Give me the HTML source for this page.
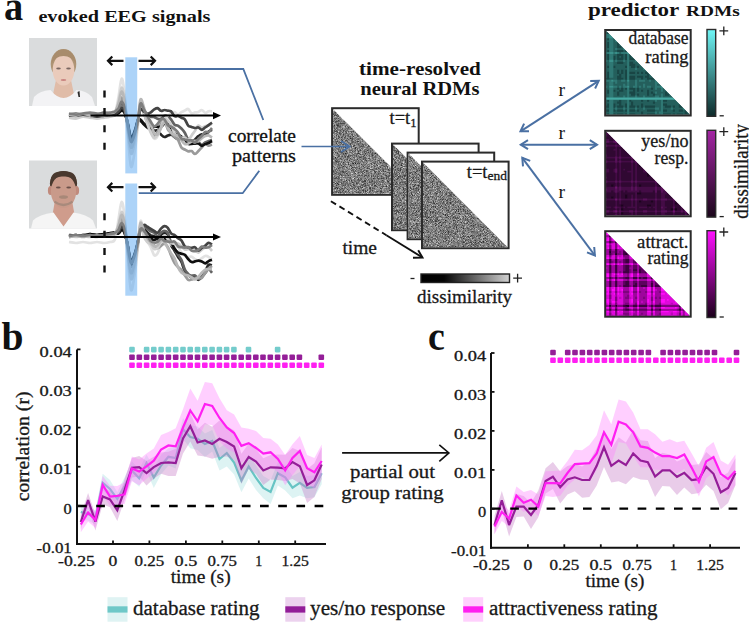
<!DOCTYPE html>
<html><head><meta charset="utf-8"><style>
html,body{margin:0;padding:0;background:#fff;width:749px;height:624px;overflow:hidden}
svg{display:block}
</style></head><body>
<svg width="749" height="624" viewBox="0 0 749 624"><defs>
<filter id="noise" x="0" y="0" width="100%" height="100%"><feTurbulence type="fractalNoise" baseFrequency="0.9" numOctaves="2" seed="3" result="t"/><feColorMatrix type="matrix" values="0 0 0 0 0  0 0 0 0 0  0 0 0 0 0  0 0 0 -2.2 1.55" /></filter>
<filter id="fblur" x="-10%" y="-10%" width="120%" height="120%"><feGaussianBlur stdDeviation="0.55"/></filter>
<filter id="blur1"><feGaussianBlur stdDeviation="0.8"/></filter>
<filter id="blur2"><feGaussianBlur stdDeviation="1.5"/></filter>
</defs>
<text x="4.0" y="19.5" font-size="40" font-family="Liberation Serif, serif" font-weight="bold" fill="#111" text-anchor="start" textLength="19.2" lengthAdjust="spacingAndGlyphs" >a</text>
<text x="38.4" y="21.5" font-size="16.5" font-family="Liberation Serif, serif" font-weight="bold" fill="#111" text-anchor="start" textLength="172.0" lengthAdjust="spacingAndGlyphs" >evoked EEG signals</text>
<text x="359.0" y="74.6" font-size="19" font-family="Liberation Serif, serif" font-weight="bold" fill="#111" text-anchor="start" textLength="121.8" lengthAdjust="spacingAndGlyphs" >time-resolved</text>
<text x="360.3" y="95.2" font-size="19" font-family="Liberation Serif, serif" font-weight="bold" fill="#111" text-anchor="start" textLength="119.2" lengthAdjust="spacingAndGlyphs" >neural RDMs</text>
<text x="587.9" y="15.8" font-size="18.5" font-family="Liberation Serif, serif" font-weight="bold" fill="#111" text-anchor="start" textLength="91.4" lengthAdjust="spacingAndGlyphs" >predictor</text>
<text x="686.0" y="15.8" font-size="15.5" font-family="Liberation Serif, serif" font-weight="bold" fill="#111" text-anchor="start" textLength="53.7" lengthAdjust="spacingAndGlyphs" >RDMs</text>
<rect x="29" y="38" width="68" height="68" fill="#dadcdd"/>
<g filter="url(#fblur)">
<ellipse cx="63.5" cy="64" rx="12.8" ry="15" fill="#ae9474"/>
<path d="M56.0,80 L71.0,80 L73.5,92 L75.5,100 L51.5,100 L53.5,92 Z" fill="#e0bca8"/>
<path d="M32,106 L34,97 Q39,91 50.5,90 Q63.5,106 76.5,90 Q87,91 92,97 L95,106 Z" fill="#f3f3f5"/>
<ellipse cx="63.5" cy="70" rx="10.8" ry="15.5" fill="#eacbbb"/>
<path d="M51.5,64 Q52.5,50 63.5,49.5 Q74.5,50 76.0,64 Q71.5,56 63.5,56 Q55.5,56 51.5,64 Z" fill="#a88c6c"/>
<ellipse cx="58.5" cy="68.5" rx="2.3" ry="1" fill="#7a6660"/><ellipse cx="68.5" cy="68.5" rx="2.3" ry="1" fill="#7a6660"/>
<ellipse cx="63.5" cy="80" rx="2.8" ry="1.1" fill="#c98580"/>
<path d="M77.5,92 L79.5,91 L80.0,97 L78.5,97 Z" fill="#2a2a2a"/>
</g>
<rect x="29" y="160.5" width="68" height="68" fill="#dadcdd"/>
<g filter="url(#fblur)">
<path d="M55.0,200.5 L72.0,200.5 L74.5,214.5 L63.5,227.5 L52.5,214.5 Z" fill="#cf9c8c"/>
<path d="M31,228.5 L33,220.5 Q39,214.5 53.5,212.5 L63.5,226.5 L73.5,212.5 Q87,214.5 93,220.5 L96,228.5 Z" fill="#f5f5f5"/>
<ellipse cx="63.5" cy="183.5" rx="13.6" ry="12.5" fill="#4a392e"/>
<ellipse cx="50.5" cy="190.5" rx="2.6" ry="4.5" fill="#c08a7c"/><ellipse cx="76.5" cy="190.5" rx="2.6" ry="4.5" fill="#c08a7c"/>
<ellipse cx="63.5" cy="191.5" rx="12.6" ry="16.5" fill="#c99a8a"/>
<path d="M50.7,182.5 Q49.7,171.0 63.5,171.3 Q77.3,171.0 76.3,182.5 Q70.5,175.5 63.5,176.5 Q56.5,175.5 50.7,182.5 Z" fill="#4a392e"/>
<ellipse cx="58.3" cy="187.5" rx="2.4" ry="1.1" fill="#6a5048"/><ellipse cx="68.7" cy="187.5" rx="2.4" ry="1.1" fill="#6a5048"/>
<ellipse cx="63.5" cy="197.0" rx="4.5" ry="1.8" fill="#a88878"/>
<path d="M54.5,201.5 Q63.5,208.5 72.5,201.5" fill="none" stroke="#a88a7c" stroke-width="2.2"/>
</g>
<path d="M69.0,114.6 C70.2,114.8 73.7,115.4 76.0,115.6 C78.3,115.8 80.7,115.8 83.0,115.6 C85.3,115.4 87.7,114.6 90.0,114.6 C92.3,114.6 94.7,115.6 97.0,115.6 C99.3,115.6 101.8,114.6 104.0,114.6 C106.2,114.6 108.2,115.5 110.0,115.6 C111.8,115.7 113.6,115.6 115.0,115.1 C116.4,114.6 117.4,113.5 118.5,112.6 C119.6,111.7 120.6,109.7 121.6,109.6 C122.6,109.5 123.5,109.8 124.5,112.0 C125.5,114.2 126.4,118.2 127.5,122.8 C128.6,127.4 129.8,138.2 131.0,139.6 C132.2,141.0 133.8,134.7 135.0,131.4 C136.2,128.2 137.1,121.9 138.0,119.9 C138.9,117.9 139.5,119.0 140.5,119.6 C141.5,120.2 142.8,122.6 144.0,123.6 C145.2,124.6 146.3,124.7 147.4,125.6 C148.5,126.6 149.7,128.3 150.8,129.2 C151.9,130.0 153.1,130.4 154.2,130.6 C155.3,130.9 156.5,129.9 157.6,130.5 C158.7,131.2 159.9,133.6 161.0,134.6 C162.1,135.7 163.3,136.8 164.4,137.0 C165.5,137.2 166.7,136.0 167.8,135.6 C168.9,135.2 170.1,134.3 171.2,134.6 C172.3,134.8 173.5,136.2 174.6,137.0 C175.7,137.7 176.9,139.0 178.0,139.2 C179.1,139.5 180.3,138.6 181.4,138.3 C182.5,138.0 183.7,137.4 184.8,137.5 C185.9,137.7 187.1,138.4 188.2,139.2 C189.3,140.0 190.5,142.1 191.6,142.1 C192.7,142.2 193.9,140.4 195.0,139.5 C196.1,138.5 197.3,137.0 198.4,136.2 C199.5,135.3 200.7,134.6 201.8,134.4 C202.9,134.3 204.1,135.7 205.2,135.2 C206.3,134.8 207.5,132.5 208.6,131.6 C209.7,130.6 211.4,130.0 212.0,129.7" fill="none" stroke="#262626" stroke-width="2.7" stroke-linejoin="round"/>
<path d="M69.0,114.6 C70.2,114.4 73.7,113.6 76.0,113.6 C78.3,113.6 80.7,114.6 83.0,114.6 C85.3,114.6 87.7,113.6 90.0,113.6 C92.3,113.6 94.7,114.8 97.0,114.6 C99.3,114.4 101.8,112.8 104.0,112.6 C106.2,112.4 108.2,113.6 110.0,113.6 C111.8,113.6 113.6,113.3 115.0,112.6 C116.4,112.0 117.4,111.1 118.5,109.6 C119.6,108.1 120.6,103.8 121.6,103.6 C122.6,103.4 123.5,105.0 124.5,108.4 C125.5,111.7 126.4,118.0 127.5,123.7 C128.6,129.4 129.8,141.0 131.0,142.6 C132.2,144.2 133.8,137.1 135.0,133.4 C136.2,129.7 137.1,124.8 138.0,120.5 C138.9,116.2 139.5,109.2 140.5,107.6 C141.5,106.0 142.8,109.5 144.0,110.6 C145.2,111.7 146.3,113.5 147.4,114.5 C148.5,115.5 149.7,116.3 150.8,116.7 C151.9,117.1 153.1,116.7 154.2,117.1 C155.3,117.4 156.5,118.5 157.6,118.8 C158.7,119.0 159.9,119.3 161.0,118.8 C162.1,118.3 163.3,116.3 164.4,115.8 C165.5,115.4 166.7,115.5 167.8,116.1 C168.9,116.7 170.1,118.2 171.2,119.6 C172.3,121.1 173.5,123.7 174.6,124.7 C175.7,125.7 176.9,125.0 178.0,125.7 C179.1,126.3 180.3,127.4 181.4,128.5 C182.5,129.7 183.7,130.9 184.8,132.8 C185.9,134.7 187.1,138.4 188.2,139.7 C189.3,141.0 190.5,140.3 191.6,140.6 C192.7,140.9 193.9,141.3 195.0,141.5 C196.1,141.8 197.3,141.6 198.4,142.2 C199.5,142.7 200.7,144.8 201.8,144.8 C202.9,144.9 204.1,143.0 205.2,142.4 C206.3,141.8 207.5,141.4 208.6,141.0 C209.7,140.6 211.4,140.1 212.0,139.9" fill="none" stroke="#636363" stroke-width="2.7" stroke-linejoin="round"/>
<path d="M69.0,116.6 C70.2,116.3 73.7,114.6 76.0,114.6 C78.3,114.6 80.7,116.4 83.0,116.6 C85.3,116.8 87.7,115.9 90.0,115.6 C92.3,115.3 94.7,114.4 97.0,114.6 C99.3,114.8 101.8,116.4 104.0,116.6 C106.2,116.8 108.2,116.3 110.0,115.6 C111.8,114.9 113.6,115.7 115.0,112.6 C116.4,109.6 117.4,102.8 118.5,97.1 C119.6,91.4 120.6,79.2 121.6,78.6 C122.6,78.0 123.5,84.7 124.5,93.4 C125.5,102.1 126.4,118.7 127.5,130.9 C128.6,143.1 129.8,163.5 131.0,166.6 C132.2,169.7 133.8,156.2 135.0,149.3 C136.2,142.3 137.1,132.4 138.0,124.8 C138.9,117.2 139.5,106.1 140.5,103.6 C141.5,101.1 142.8,106.6 144.0,109.6 C145.2,112.6 146.3,117.6 147.4,121.3 C148.5,125.1 149.7,129.0 150.8,131.8 C151.9,134.7 153.1,137.9 154.2,138.6 C155.3,139.3 156.5,138.4 157.6,136.2 C158.7,134.1 159.9,128.5 161.0,125.7 C162.1,122.9 163.3,121.0 164.4,119.4 C165.5,117.7 166.7,116.8 167.8,115.8 C168.9,114.8 170.1,114.1 171.2,113.4 C172.3,112.8 173.5,111.8 174.6,112.0 C175.7,112.2 176.9,114.6 178.0,114.6 C179.1,114.6 180.3,112.8 181.4,112.1 C182.5,111.5 183.7,111.1 184.8,110.6 C185.9,110.1 187.1,108.6 188.2,109.0 C189.3,109.5 190.5,112.7 191.6,113.2 C192.7,113.8 193.9,112.6 195.0,112.4 C196.1,112.2 197.3,112.5 198.4,112.1 C199.5,111.7 200.7,109.8 201.8,110.0 C202.9,110.1 204.1,112.7 205.2,112.9 C206.3,113.1 207.5,111.6 208.6,111.3 C209.7,111.0 211.4,111.3 212.0,111.3" fill="none" stroke="#e2e2e2" stroke-width="2.7" stroke-linejoin="round"/>
<path d="M69.0,115.6 C70.2,115.8 73.7,116.6 76.0,116.6 C78.3,116.6 80.7,115.9 83.0,115.6 C85.3,115.3 87.7,114.4 90.0,114.6 C92.3,114.8 94.7,116.4 97.0,116.6 C99.3,116.8 101.8,115.9 104.0,115.6 C106.2,115.3 108.2,115.0 110.0,114.6 C111.8,114.2 113.6,114.5 115.0,113.2 C116.4,111.8 117.4,109.2 118.5,106.6 C119.6,104.0 120.6,97.9 121.6,97.6 C122.6,97.3 123.5,100.3 124.5,104.8 C125.5,109.3 126.4,117.8 127.5,124.6 C128.6,131.4 129.8,143.8 131.0,145.6 C132.2,147.4 133.8,139.5 135.0,135.4 C136.2,131.3 137.1,126.0 138.0,121.0 C138.9,116.0 139.5,106.8 140.5,105.6 C141.5,104.4 142.8,110.6 144.0,113.6 C145.2,116.6 146.3,120.9 147.4,123.5 C148.5,126.0 149.7,127.0 150.8,129.0 C151.9,131.1 153.1,135.3 154.2,135.8 C155.3,136.3 156.5,133.8 157.6,131.8 C158.7,129.8 159.9,125.7 161.0,123.8 C162.1,122.0 163.3,119.8 164.4,120.7 C165.5,121.6 166.7,127.2 167.8,129.3 C168.9,131.3 170.1,131.7 171.2,133.0 C172.3,134.3 173.5,135.9 174.6,137.0 C175.7,138.1 176.9,138.1 178.0,139.8 C179.1,141.6 180.3,145.9 181.4,147.5 C182.5,149.1 183.7,148.9 184.8,149.5 C185.9,150.2 187.1,151.1 188.2,151.3 C189.3,151.6 190.5,150.7 191.6,151.1 C192.7,151.5 193.9,154.0 195.0,154.0 C196.1,154.0 197.3,152.1 198.4,151.0 C199.5,149.9 200.7,148.6 201.8,147.4 C202.9,146.1 204.1,144.0 205.2,143.7 C206.3,143.5 207.5,145.6 208.6,145.7 C209.7,145.9 211.4,144.7 212.0,144.5" fill="none" stroke="#9a9a9a" stroke-width="2.7" stroke-linejoin="round"/>
<path d="M69.0,115.6 C70.2,115.6 73.7,115.8 76.0,115.6 C78.3,115.4 80.7,114.6 83.0,114.6 C85.3,114.6 87.7,115.4 90.0,115.6 C92.3,115.8 94.7,115.6 97.0,115.6 C99.3,115.6 101.8,115.8 104.0,115.6 C106.2,115.4 108.2,114.8 110.0,114.6 C111.8,114.4 113.6,114.4 115.0,114.2 C116.4,113.9 117.4,113.7 118.5,113.1 C119.6,112.5 120.6,110.7 121.6,110.6 C122.6,110.5 123.5,110.7 124.5,112.6 C125.5,114.5 126.4,118.0 127.5,122.2 C128.6,126.4 129.8,136.3 131.0,137.6 C132.2,138.9 133.8,133.1 135.0,130.1 C136.2,127.1 137.1,121.1 138.0,119.6 C138.9,118.0 139.5,119.8 140.5,120.6 C141.5,121.4 142.8,123.4 144.0,124.6 C145.2,125.8 146.3,126.9 147.4,127.6 C148.5,128.4 149.7,129.1 150.8,129.0 C151.9,128.9 153.1,127.2 154.2,126.8 C155.3,126.5 156.5,126.8 157.6,126.8 C158.7,126.8 159.9,127.2 161.0,126.7 C162.1,126.2 163.3,124.3 164.4,123.8 C165.5,123.4 166.7,123.4 167.8,124.1 C168.9,124.8 170.1,126.5 171.2,128.1 C172.3,129.7 173.5,132.4 174.6,133.5 C175.7,134.6 176.9,134.2 178.0,134.8 C179.1,135.3 180.3,135.9 181.4,136.7 C182.5,137.4 183.7,138.1 184.8,139.3 C185.9,140.5 187.1,143.1 188.2,143.9 C189.3,144.6 190.5,143.8 191.6,143.8 C192.7,143.8 193.9,143.7 195.0,143.7 C196.1,143.6 197.3,143.1 198.4,143.5 C199.5,143.8 200.7,145.8 201.8,145.8 C202.9,145.9 204.1,144.4 205.2,143.9 C206.3,143.5 207.5,143.6 208.6,143.1 C209.7,142.6 211.4,141.3 212.0,141.0" fill="none" stroke="#0f0f0f" stroke-width="2.7" stroke-linejoin="round"/>
<path d="M69.0,117.6 C70.2,117.8 73.7,118.8 76.0,118.6 C78.3,118.4 80.7,116.8 83.0,116.6 C85.3,116.4 87.7,117.3 90.0,117.6 C92.3,117.9 94.7,118.6 97.0,118.6 C99.3,118.6 101.8,117.9 104.0,117.6 C106.2,117.3 108.2,117.1 110.0,116.6 C111.8,116.1 113.6,116.9 115.0,114.4 C116.4,111.9 117.4,106.1 118.5,101.6 C119.6,97.1 120.6,88.1 121.6,87.6 C122.6,87.1 123.5,92.2 124.5,98.8 C125.5,105.4 126.4,117.9 127.5,127.0 C128.6,136.1 129.8,151.3 131.0,153.6 C132.2,155.9 133.8,145.9 135.0,140.7 C136.2,135.5 137.1,129.0 138.0,122.4 C138.9,115.9 139.5,103.4 140.5,101.6 C141.5,99.8 142.8,107.8 144.0,111.6 C145.2,115.4 146.3,120.6 147.4,124.1 C148.5,127.6 149.7,130.4 150.8,132.6 C151.9,134.9 153.1,137.3 154.2,137.7 C155.3,138.2 156.5,136.8 157.6,135.1 C158.7,133.3 159.9,130.0 161.0,127.3 C162.1,124.6 163.3,120.2 164.4,119.0 C165.5,117.9 166.7,119.5 167.8,120.6 C168.9,121.6 170.1,123.2 171.2,125.4 C172.3,127.5 173.5,131.8 174.6,133.5 C175.7,135.3 176.9,135.1 178.0,135.8 C179.1,136.5 180.3,137.4 181.4,137.7 C182.5,138.0 183.7,137.1 184.8,137.6 C185.9,138.0 187.1,140.7 188.2,140.3 C189.3,139.9 190.5,137.0 191.6,135.4 C192.7,133.8 193.9,132.4 195.0,130.8 C196.1,129.1 197.3,126.1 198.4,125.6 C199.5,125.1 200.7,127.7 201.8,127.8 C202.9,127.9 204.1,126.6 205.2,126.2 C206.3,125.8 207.5,125.8 208.6,125.3 C209.7,124.9 211.4,123.9 212.0,123.6" fill="none" stroke="#cecece" stroke-width="2.7" stroke-linejoin="round"/>
<path d="M69.0,115.6 C70.2,115.6 73.7,115.8 76.0,115.6 C78.3,115.4 80.7,114.6 83.0,114.6 C85.3,114.6 87.7,115.3 90.0,115.6 C92.3,115.9 94.7,116.6 97.0,116.6 C99.3,116.6 101.8,115.9 104.0,115.6 C106.2,115.3 108.2,114.9 110.0,114.6 C111.8,114.3 113.6,114.5 115.0,114.0 C116.4,113.5 117.4,112.7 118.5,111.6 C119.6,110.5 120.6,107.7 121.6,107.6 C122.6,107.5 123.5,108.2 124.5,110.8 C125.5,113.4 126.4,118.1 127.5,123.1 C128.6,128.1 129.8,139.1 131.0,140.6 C132.2,142.1 133.8,135.5 135.0,132.1 C136.2,128.7 137.1,123.8 138.0,120.1 C138.9,116.3 139.5,111.0 140.5,109.6 C141.5,108.2 142.8,110.9 144.0,111.6 C145.2,112.3 146.3,113.8 147.4,113.9 C148.5,114.0 149.7,113.0 150.8,112.3 C151.9,111.5 153.1,110.1 154.2,109.4 C155.3,108.7 156.5,107.9 157.6,108.1 C158.7,108.4 159.9,110.5 161.0,110.8 C162.1,111.1 163.3,110.0 164.4,110.0 C165.5,109.9 166.7,110.4 167.8,110.7 C168.9,110.9 170.1,110.5 171.2,111.4 C172.3,112.4 173.5,115.5 174.6,116.2 C175.7,117.0 176.9,115.6 178.0,115.9 C179.1,116.1 180.3,117.2 181.4,117.7 C182.5,118.3 183.7,118.0 184.8,119.3 C185.9,120.6 187.1,124.4 188.2,125.6 C189.3,126.9 190.5,126.5 191.6,126.9 C192.7,127.3 193.9,127.9 195.0,128.0 C196.1,128.1 197.3,127.2 198.4,127.5 C199.5,127.8 200.7,129.8 201.8,129.8 C202.9,129.7 204.1,128.1 205.2,127.4 C206.3,126.6 207.5,126.0 208.6,125.2 C209.7,124.4 211.4,123.0 212.0,122.6" fill="none" stroke="#444444" stroke-width="2.7" stroke-linejoin="round"/>
<path d="M69.0,114.6 C70.2,114.8 73.7,115.8 76.0,115.6 C78.3,115.4 80.7,113.6 83.0,113.6 C85.3,113.6 87.7,115.4 90.0,115.6 C92.3,115.8 94.7,114.6 97.0,114.6 C99.3,114.6 101.8,115.8 104.0,115.6 C106.2,115.4 108.2,114.3 110.0,113.6 C111.8,112.9 113.6,113.3 115.0,111.7 C116.4,110.0 117.4,106.9 118.5,103.6 C119.6,100.3 120.6,92.0 121.6,91.6 C122.6,91.2 123.5,95.6 124.5,101.2 C125.5,106.8 126.4,117.5 127.5,125.2 C128.6,132.9 129.8,145.7 131.0,147.6 C132.2,149.5 133.8,141.1 135.0,136.7 C136.2,132.3 137.1,127.5 138.0,121.4 C138.9,115.2 139.5,101.9 140.5,99.6 C141.5,97.3 142.8,104.3 144.0,107.6 C145.2,110.9 146.3,116.7 147.4,119.5 C148.5,122.3 149.7,122.2 150.8,124.5 C151.9,126.7 153.1,131.2 154.2,132.9 C155.3,134.5 156.5,135.2 157.6,134.4 C158.7,133.6 159.9,130.1 161.0,128.1 C162.1,126.0 163.3,122.2 164.4,122.2 C165.5,122.1 166.7,126.0 167.8,127.8 C168.9,129.6 170.1,131.7 171.2,132.9 C172.3,134.1 173.5,134.4 174.6,134.9 C175.7,135.4 176.9,135.1 178.0,136.0 C179.1,136.9 180.3,138.9 181.4,140.2 C182.5,141.6 183.7,143.5 184.8,144.0 C185.9,144.6 187.1,144.0 188.2,143.6 C189.3,143.2 190.5,142.0 191.6,141.5 C192.7,141.1 193.9,140.9 195.0,140.8 C196.1,140.8 197.3,141.8 198.4,141.3 C199.5,140.9 200.7,139.0 201.8,138.1 C202.9,137.3 204.1,136.5 205.2,136.1 C206.3,135.6 207.5,135.2 208.6,135.4 C209.7,135.7 211.4,137.2 212.0,137.6" fill="none" stroke="#b8b8b8" stroke-width="2.7" stroke-linejoin="round"/>
<path d="M69.0,113.6 C70.2,113.8 73.7,114.6 76.0,114.6 C78.3,114.6 80.7,113.9 83.0,113.6 C85.3,113.3 87.7,112.6 90.0,112.6 C92.3,112.6 94.7,113.4 97.0,113.6 C99.3,113.8 101.8,113.8 104.0,113.6 C106.2,113.4 108.2,113.0 110.0,112.6 C111.8,112.2 113.6,112.1 115.0,111.5 C116.4,110.8 117.4,110.2 118.5,108.6 C119.6,107.0 120.6,101.8 121.6,101.6 C122.6,101.4 123.5,103.6 124.5,107.2 C125.5,110.8 126.4,117.7 127.5,123.4 C128.6,129.1 129.8,140.0 131.0,141.6 C132.2,143.2 133.8,136.3 135.0,132.8 C136.2,129.2 137.1,125.1 138.0,120.3 C138.9,115.4 139.5,105.4 140.5,103.6 C141.5,101.8 142.8,107.6 144.0,109.6 C145.2,111.6 146.3,113.8 147.4,115.8 C148.5,117.9 149.7,120.0 150.8,121.8 C151.9,123.6 153.1,126.0 154.2,126.4 C155.3,126.7 156.5,125.1 157.6,124.0 C158.7,122.9 159.9,120.4 161.0,119.7 C162.1,118.9 163.3,118.6 164.4,119.5 C165.5,120.4 166.7,124.0 167.8,125.2 C168.9,126.5 170.1,126.2 171.2,126.8 C172.3,127.4 173.5,128.0 174.6,128.9 C175.7,129.9 176.9,130.8 178.0,132.5 C179.1,134.1 180.3,137.5 181.4,138.7 C182.5,139.9 183.7,139.2 184.8,139.5 C185.9,139.7 187.1,140.2 188.2,140.3 C189.3,140.5 190.5,140.0 191.6,140.4 C192.7,140.8 193.9,143.0 195.0,142.8 C196.1,142.5 197.3,140.0 198.4,138.9 C199.5,137.7 200.7,137.1 201.8,135.9 C202.9,134.7 204.1,132.5 205.2,131.9 C206.3,131.3 207.5,132.8 208.6,132.2 C209.7,131.5 211.4,128.7 212.0,128.0" fill="none" stroke="#7e7e7e" stroke-width="2.7" stroke-linejoin="round"/>
<rect x="125.3" y="57.3" width="11.9" height="116.10000000000001" fill="#5aa8f2" fill-opacity="0.5"/>
<line x1="90.5" y1="115.6" x2="214" y2="115.6" stroke="#000" stroke-width="2"/>
<path d="M213,112.0 L221,115.6 L213,119.19999999999999 Z" fill="#000"/>
<line x1="104.5" y1="90.5" x2="104.5" y2="152" stroke="#111" stroke-width="2.4" stroke-dasharray="7,10.4"/>
<path d="M123.5,60.8 L108,60.8 M112.3,56.5 L108,60.8 L112.3,65.1" fill="none" stroke="#111" stroke-width="2.2"/>
<path d="M138.5,60.8 L155,60.8 M150.7,56.5 L155,60.8 L150.7,65.1" fill="none" stroke="#111" stroke-width="2.2"/>
<path d="M69.0,237.0 C70.2,236.8 73.7,236.3 76.0,236.0 C78.3,235.7 80.7,235.0 83.0,235.0 C85.3,235.0 87.7,236.0 90.0,236.0 C92.3,236.0 94.7,235.3 97.0,235.0 C99.3,234.7 101.8,234.0 104.0,234.0 C106.2,234.0 108.2,234.9 110.0,235.0 C111.8,235.1 113.6,234.7 115.0,234.4 C116.4,234.0 117.4,233.9 118.5,233.0 C119.6,232.1 120.6,229.1 121.6,229.0 C122.6,228.9 123.5,229.6 124.5,232.2 C125.5,234.8 126.4,239.7 127.5,244.8 C128.6,249.9 129.8,261.4 131.0,263.0 C132.2,264.6 133.8,257.7 135.0,254.2 C136.2,250.6 137.1,246.2 138.0,241.7 C138.9,237.2 139.5,229.1 140.5,227.0 C141.5,224.9 142.8,228.1 144.0,229.0 C145.2,229.9 146.3,231.4 147.4,232.5 C148.5,233.5 149.7,234.7 150.8,235.4 C151.9,236.0 153.1,235.8 154.2,236.4 C155.3,237.1 156.5,239.6 157.6,239.3 C158.7,239.1 159.9,235.9 161.0,234.9 C162.1,233.8 163.3,233.0 164.4,233.0 C165.5,233.0 166.7,232.9 167.8,234.9 C168.9,237.0 170.1,242.5 171.2,245.1 C172.3,247.8 173.5,248.8 174.6,250.8 C175.7,252.7 176.9,254.9 178.0,256.7 C179.1,258.6 180.3,259.4 181.4,261.8 C182.5,264.2 183.7,268.8 184.8,271.0 C185.9,273.2 187.1,273.9 188.2,275.0 C189.3,276.1 190.5,277.1 191.6,277.4 C192.7,277.8 193.9,276.6 195.0,277.0 C196.1,277.4 197.3,279.8 198.4,279.8 C199.5,279.8 200.7,278.4 201.8,277.0 C202.9,275.6 204.1,273.4 205.2,271.4 C206.3,269.4 207.5,265.8 208.6,264.8 C209.7,263.8 211.4,265.5 212.0,265.6" fill="none" stroke="#262626" stroke-width="2.7" stroke-linejoin="round"/>
<path d="M69.0,235.0 C70.2,235.2 73.7,236.0 76.0,236.0 C78.3,236.0 80.7,235.3 83.0,235.0 C85.3,234.7 87.7,234.0 90.0,234.0 C92.3,234.0 94.7,235.0 97.0,235.0 C99.3,235.0 101.8,234.0 104.0,234.0 C106.2,234.0 108.2,235.0 110.0,235.0 C111.8,235.0 113.6,234.7 115.0,234.0 C116.4,233.4 117.4,232.5 118.5,231.0 C119.6,229.5 120.6,225.2 121.6,225.0 C122.6,224.8 123.5,226.4 124.5,229.8 C125.5,233.2 126.4,239.5 127.5,245.4 C128.6,251.3 129.8,263.3 131.0,265.0 C132.2,266.7 133.8,259.3 135.0,255.5 C136.2,251.7 137.1,246.8 138.0,242.0 C138.9,237.3 139.5,229.5 140.5,227.0 C141.5,224.5 142.8,226.7 144.0,227.0 C145.2,227.3 146.3,228.0 147.4,228.8 C148.5,229.5 149.7,230.7 150.8,231.3 C151.9,231.9 153.1,231.8 154.2,232.6 C155.3,233.4 156.5,236.1 157.6,236.2 C158.7,236.2 159.9,233.7 161.0,232.8 C162.1,231.9 163.3,230.8 164.4,230.9 C165.5,230.9 166.7,231.0 167.8,233.0 C168.9,235.1 170.1,240.6 171.2,243.2 C172.3,245.8 173.5,246.8 174.6,248.7 C175.7,250.6 176.9,252.8 178.0,254.7 C179.1,256.5 180.3,257.4 181.4,259.9 C182.5,262.3 183.7,267.1 184.8,269.5 C185.9,271.8 187.1,272.8 188.2,273.9 C189.3,274.9 190.5,275.4 191.6,275.7 C192.7,275.9 193.9,274.8 195.0,275.4 C196.1,276.0 197.3,278.8 198.4,279.0 C199.5,279.2 200.7,277.6 201.8,276.7 C202.9,275.7 204.1,274.4 205.2,273.1 C206.3,271.9 207.5,269.3 208.6,269.2 C209.7,269.2 211.4,272.2 212.0,272.9" fill="none" stroke="#636363" stroke-width="2.7" stroke-linejoin="round"/>
<path d="M69.0,242.0 C70.2,242.2 73.7,243.0 76.0,243.0 C78.3,243.0 80.7,242.0 83.0,242.0 C85.3,242.0 87.7,243.0 90.0,243.0 C92.3,243.0 94.7,242.0 97.0,242.0 C99.3,242.0 101.8,243.0 104.0,243.0 C106.2,243.0 108.2,242.6 110.0,242.0 C111.8,241.4 113.6,242.9 115.0,239.2 C116.4,235.4 117.4,225.7 118.5,219.5 C119.6,213.3 120.6,202.6 121.6,202.0 C122.6,201.4 123.5,207.5 124.5,216.0 C125.5,224.5 126.4,240.6 127.5,252.9 C128.6,265.2 129.8,286.8 131.0,290.0 C132.2,293.2 133.8,279.2 135.0,272.0 C136.2,264.7 137.1,255.0 138.0,246.5 C138.9,238.0 139.5,223.3 140.5,221.0 C141.5,218.7 142.8,229.6 144.0,233.0 C145.2,236.4 146.3,239.0 147.4,241.4 C148.5,243.8 149.7,245.0 150.8,247.3 C151.9,249.6 153.1,254.2 154.2,255.2 C155.3,256.2 156.5,254.9 157.6,253.2 C158.7,251.5 159.9,247.5 161.0,244.8 C162.1,242.2 163.3,237.7 164.4,237.2 C165.5,236.7 166.7,240.8 167.8,242.0 C168.9,243.2 170.1,243.9 171.2,244.6 C172.3,245.3 173.5,245.8 174.6,246.2 C175.7,246.6 176.9,246.1 178.0,247.1 C179.1,248.1 180.3,251.0 181.4,252.4 C182.5,253.8 183.7,255.0 184.8,255.7 C185.9,256.5 187.1,256.9 188.2,257.0 C189.3,257.2 190.5,256.3 191.6,256.7 C192.7,257.1 193.9,258.6 195.0,259.2 C196.1,259.8 197.3,260.6 198.4,260.5 C199.5,260.3 200.7,259.0 201.8,258.2 C202.9,257.5 204.1,256.3 205.2,256.0 C206.3,255.8 207.5,256.2 208.6,256.9 C209.7,257.5 211.4,259.3 212.0,259.8" fill="none" stroke="#e2e2e2" stroke-width="2.7" stroke-linejoin="round"/>
<path d="M69.0,235.0 C70.2,235.2 73.7,236.0 76.0,236.0 C78.3,236.0 80.7,235.2 83.0,235.0 C85.3,234.8 87.7,234.8 90.0,235.0 C92.3,235.2 94.7,236.2 97.0,236.0 C99.3,235.8 101.8,234.2 104.0,234.0 C106.2,233.8 108.2,235.1 110.0,235.0 C111.8,234.9 113.6,234.7 115.0,233.6 C116.4,232.4 117.4,230.4 118.5,228.0 C119.6,225.6 120.6,219.3 121.6,219.0 C122.6,218.7 123.5,221.7 124.5,226.2 C125.5,230.7 126.4,239.2 127.5,246.0 C128.6,252.8 129.8,265.2 131.0,267.0 C132.2,268.8 133.8,260.9 135.0,256.8 C136.2,252.7 137.1,247.4 138.0,242.4 C138.9,237.4 139.5,228.6 140.5,227.0 C141.5,225.4 142.8,230.8 144.0,233.0 C145.2,235.2 146.3,238.3 147.4,240.1 C148.5,241.9 149.7,242.9 150.8,243.7 C151.9,244.6 153.1,244.5 154.2,245.3 C155.3,246.0 156.5,248.1 157.6,248.2 C158.7,248.3 159.9,246.5 161.0,245.8 C162.1,245.0 163.3,243.4 164.4,243.6 C165.5,243.8 166.7,244.9 167.8,246.9 C168.9,248.9 170.1,253.0 171.2,255.7 C172.3,258.4 173.5,261.2 174.6,263.1 C175.7,265.0 176.9,265.8 178.0,267.0 C179.1,268.2 180.3,268.8 181.4,270.2 C182.5,271.6 183.7,273.7 184.8,275.3 C185.9,276.9 187.1,279.1 188.2,279.8 C189.3,280.5 190.5,279.7 191.6,279.5 C192.7,279.2 193.9,278.5 195.0,278.3 C196.1,278.0 197.3,278.1 198.4,278.0 C199.5,278.0 200.7,278.7 201.8,277.9 C202.9,277.0 204.1,274.4 205.2,272.9 C206.3,271.3 207.5,269.7 208.6,268.5 C209.7,267.3 211.4,266.3 212.0,265.9" fill="none" stroke="#9a9a9a" stroke-width="2.7" stroke-linejoin="round"/>
<path d="M69.0,236.0 C70.2,235.8 73.7,235.0 76.0,235.0 C78.3,235.0 80.7,236.2 83.0,236.0 C85.3,235.8 87.7,234.2 90.0,234.0 C92.3,233.8 94.7,235.0 97.0,235.0 C99.3,235.0 101.8,234.3 104.0,234.0 C106.2,233.7 108.2,233.3 110.0,233.0 C111.8,232.7 113.6,232.4 115.0,232.4 C116.4,232.5 117.4,233.9 118.5,233.5 C119.6,233.1 120.6,230.1 121.6,230.0 C122.6,229.9 123.5,230.4 124.5,232.8 C125.5,235.2 126.4,239.5 127.5,244.2 C128.6,248.9 129.8,259.6 131.0,261.0 C132.2,262.4 133.8,256.1 135.0,252.8 C136.2,249.6 137.1,245.1 138.0,241.3 C138.9,237.5 139.5,231.7 140.5,230.0 C141.5,228.3 142.8,230.2 144.0,231.0 C145.2,231.8 146.3,233.6 147.4,234.8 C148.5,236.1 149.7,237.6 150.8,238.4 C151.9,239.3 153.1,240.0 154.2,240.0 C155.3,240.0 156.5,238.4 157.6,238.3 C158.7,238.1 159.9,239.3 161.0,239.4 C162.1,239.4 163.3,238.4 164.4,238.6 C165.5,238.8 166.7,240.0 167.8,240.8 C168.9,241.5 170.1,241.7 171.2,243.0 C172.3,244.3 173.5,247.1 174.6,248.7 C175.7,250.3 176.9,251.6 178.0,252.5 C179.1,253.3 180.3,253.3 181.4,253.7 C182.5,254.1 183.7,253.9 184.8,254.8 C185.9,255.7 187.1,257.8 188.2,259.0 C189.3,260.2 190.5,261.7 191.6,262.1 C192.7,262.5 193.9,261.7 195.0,261.4 C196.1,261.2 197.3,260.6 198.4,260.6 C199.5,260.6 200.7,261.0 201.8,261.4 C202.9,261.9 204.1,263.5 205.2,263.4 C206.3,263.4 207.5,261.7 208.6,261.1 C209.7,260.5 211.4,260.1 212.0,259.9" fill="none" stroke="#0f0f0f" stroke-width="2.7" stroke-linejoin="round"/>
<path d="M69.0,236.0 C70.2,236.2 73.7,237.0 76.0,237.0 C78.3,237.0 80.7,236.0 83.0,236.0 C85.3,236.0 87.7,237.2 90.0,237.0 C92.3,236.8 94.7,235.2 97.0,235.0 C99.3,234.8 101.8,236.0 104.0,236.0 C106.2,236.0 108.2,235.5 110.0,235.0 C111.8,234.5 113.6,234.8 115.0,233.0 C116.4,231.2 117.4,228.0 118.5,224.5 C119.6,221.0 120.6,212.4 121.6,212.0 C122.6,211.6 123.5,215.7 124.5,222.0 C125.5,228.3 126.4,240.1 127.5,249.6 C128.6,259.1 129.8,276.5 131.0,279.0 C132.2,281.5 133.8,270.5 135.0,264.7 C136.2,259.0 137.1,251.2 138.0,244.6 C138.9,237.9 139.5,226.3 140.5,225.0 C141.5,223.7 142.8,234.2 144.0,237.0 C145.2,239.8 146.3,240.8 147.4,242.1 C148.5,243.3 149.7,243.4 150.8,244.5 C151.9,245.6 153.1,248.3 154.2,248.9 C155.3,249.4 156.5,249.1 157.6,247.9 C158.7,246.6 159.9,243.5 161.0,241.5 C162.1,239.4 163.3,235.8 164.4,235.4 C165.5,235.0 166.7,237.9 167.8,239.2 C168.9,240.5 170.1,242.3 171.2,243.1 C172.3,243.8 173.5,243.6 174.6,243.6 C175.7,243.7 176.9,243.0 178.0,243.4 C179.1,243.9 180.3,245.2 181.4,246.2 C182.5,247.2 183.7,249.0 184.8,249.5 C185.9,249.9 187.1,249.2 188.2,249.1 C189.3,249.1 190.5,248.9 191.6,249.1 C192.7,249.3 193.9,249.7 195.0,250.3 C196.1,250.9 197.3,252.9 198.4,252.7 C199.5,252.6 200.7,250.4 201.8,249.6 C202.9,248.7 204.1,247.9 205.2,247.5 C206.3,247.1 207.5,246.5 208.6,247.0 C209.7,247.6 211.4,250.3 212.0,251.0" fill="none" stroke="#cecece" stroke-width="2.7" stroke-linejoin="round"/>
<path d="M69.0,236.0 C70.2,235.8 73.7,235.0 76.0,235.0 C78.3,235.0 80.7,236.0 83.0,236.0 C85.3,236.0 87.7,235.0 90.0,235.0 C92.3,235.0 94.7,236.0 97.0,236.0 C99.3,236.0 101.8,235.3 104.0,235.0 C106.2,234.7 108.2,234.3 110.0,234.0 C111.8,233.7 113.6,233.5 115.0,233.2 C116.4,232.9 117.4,233.0 118.5,232.0 C119.6,231.0 120.6,227.2 121.6,227.0 C122.6,226.8 123.5,228.0 124.5,231.0 C125.5,234.0 126.4,239.6 127.5,245.1 C128.6,250.6 129.8,262.4 131.0,264.0 C132.2,265.6 133.8,258.5 135.0,254.8 C136.2,251.1 137.1,246.2 138.0,241.9 C138.9,237.6 139.5,231.8 140.5,229.0 C141.5,226.2 142.8,225.4 144.0,225.0 C145.2,224.6 146.3,226.1 147.4,226.7 C148.5,227.4 149.7,228.2 150.8,228.9 C151.9,229.6 153.1,230.3 154.2,230.9 C155.3,231.5 156.5,233.1 157.6,232.7 C158.7,232.3 159.9,229.7 161.0,228.6 C162.1,227.5 163.3,226.3 164.4,226.1 C165.5,226.0 166.7,226.6 167.8,227.8 C168.9,229.1 170.1,232.3 171.2,233.5 C172.3,234.8 173.5,234.3 174.6,235.1 C175.7,235.9 176.9,237.3 178.0,238.2 C179.1,239.1 180.3,238.9 181.4,240.3 C182.5,241.6 183.7,245.2 184.8,246.4 C185.9,247.6 187.1,247.1 188.2,247.4 C189.3,247.6 190.5,247.9 191.6,247.9 C192.7,247.8 193.9,246.8 195.0,247.3 C196.1,247.7 197.3,250.6 198.4,250.7 C199.5,250.8 200.7,248.7 201.8,247.9 C202.9,247.1 204.1,246.6 205.2,245.7 C206.3,244.9 207.5,243.0 208.6,242.8 C209.7,242.6 211.4,244.3 212.0,244.7" fill="none" stroke="#444444" stroke-width="2.7" stroke-linejoin="round"/>
<path d="M69.0,237.0 C70.2,236.8 73.7,236.0 76.0,236.0 C78.3,236.0 80.7,237.0 83.0,237.0 C85.3,237.0 87.7,236.0 90.0,236.0 C92.3,236.0 94.7,237.2 97.0,237.0 C99.3,236.8 101.8,235.2 104.0,235.0 C106.2,234.8 108.2,236.1 110.0,236.0 C111.8,235.9 113.6,235.9 115.0,234.2 C116.4,232.6 117.4,229.2 118.5,226.0 C119.6,222.8 120.6,215.4 121.6,215.0 C122.6,214.6 123.5,218.3 124.5,223.8 C125.5,229.3 126.4,239.6 127.5,247.8 C128.6,256.0 129.8,270.8 131.0,273.0 C132.2,275.2 133.8,265.7 135.0,260.8 C136.2,255.8 137.1,249.8 138.0,243.5 C138.9,237.2 139.5,225.1 140.5,223.0 C141.5,220.9 142.8,228.6 144.0,231.0 C145.2,233.4 146.3,235.2 147.4,237.1 C148.5,239.1 149.7,241.0 150.8,242.6 C151.9,244.1 153.1,245.8 154.2,246.2 C155.3,246.7 156.5,246.3 157.6,245.3 C158.7,244.4 159.9,241.1 161.0,240.6 C162.1,240.1 163.3,241.1 164.4,242.3 C165.5,243.5 166.7,246.2 167.8,248.0 C168.9,249.9 170.1,251.6 171.2,253.4 C172.3,255.1 173.5,256.1 174.6,258.5 C175.7,260.8 176.9,264.8 178.0,267.2 C179.1,269.6 180.3,271.4 181.4,272.6 C182.5,273.8 183.7,274.0 184.8,274.4 C185.9,274.9 187.1,275.0 188.2,275.5 C189.3,276.0 190.5,276.8 191.6,277.4 C192.7,278.1 193.9,279.5 195.0,279.4 C196.1,279.2 197.3,277.8 198.4,276.7 C199.5,275.6 200.7,273.9 201.8,272.7 C202.9,271.5 204.1,270.2 205.2,269.6 C206.3,269.0 207.5,269.3 208.6,269.2 C209.7,269.1 211.4,269.1 212.0,269.1" fill="none" stroke="#b8b8b8" stroke-width="2.7" stroke-linejoin="round"/>
<path d="M69.0,236.0 C70.2,235.8 73.7,235.0 76.0,235.0 C78.3,235.0 80.7,236.0 83.0,236.0 C85.3,236.0 87.7,235.0 90.0,235.0 C92.3,235.0 94.7,236.0 97.0,236.0 C99.3,236.0 101.8,235.3 104.0,235.0 C106.2,234.7 108.2,234.4 110.0,234.0 C111.8,233.6 113.6,233.5 115.0,232.9 C116.4,232.2 117.4,231.6 118.5,230.0 C119.6,228.4 120.6,223.2 121.6,223.0 C122.6,222.8 123.5,225.0 124.5,228.6 C125.5,232.2 126.4,239.1 127.5,244.8 C128.6,250.5 129.8,261.4 131.0,263.0 C132.2,264.6 133.8,257.7 135.0,254.2 C136.2,250.6 137.1,245.9 138.0,241.7 C138.9,237.5 139.5,230.8 140.5,229.0 C141.5,227.2 142.8,229.9 144.0,231.0 C145.2,232.1 146.3,233.8 147.4,235.5 C148.5,237.2 149.7,239.9 150.8,241.1 C151.9,242.2 153.1,242.4 154.2,242.5 C155.3,242.7 156.5,242.5 157.6,241.8 C158.7,241.2 159.9,238.7 161.0,238.6 C162.1,238.4 163.3,240.4 164.4,240.9 C165.5,241.4 166.7,241.3 167.8,241.5 C168.9,241.7 170.1,242.0 171.2,242.0 C172.3,242.1 173.5,240.9 174.6,241.7 C175.7,242.4 176.9,245.4 178.0,246.4 C179.1,247.3 180.3,247.0 181.4,247.2 C182.5,247.4 183.7,247.6 184.8,247.6 C185.9,247.6 187.1,246.6 188.2,247.1 C189.3,247.6 190.5,250.0 191.6,250.7 C192.7,251.4 193.9,251.3 195.0,251.1 C196.1,251.0 197.3,250.5 198.4,249.8 C199.5,249.0 200.7,247.0 201.8,246.6 C202.9,246.3 204.1,247.5 205.2,247.6 C206.3,247.7 207.5,247.7 208.6,247.3 C209.7,246.8 211.4,245.4 212.0,245.0" fill="none" stroke="#7e7e7e" stroke-width="2.7" stroke-linejoin="round"/>
<rect x="125.3" y="183.5" width="11.9" height="112.19999999999999" fill="#5aa8f2" fill-opacity="0.5"/>
<line x1="90.5" y1="237" x2="214" y2="237" stroke="#000" stroke-width="2"/>
<path d="M213,233.4 L221,237 L213,240.6 Z" fill="#000"/>
<line x1="104.5" y1="213.3" x2="104.5" y2="275" stroke="#111" stroke-width="2.4" stroke-dasharray="7,10.4"/>
<path d="M123.5,187.2 L108,187.2 M112.3,182.89999999999998 L108,187.2 L112.3,191.5" fill="none" stroke="#111" stroke-width="2.2"/>
<path d="M138.5,187.2 L155,187.2 M150.7,182.89999999999998 L155,187.2 L150.7,191.5" fill="none" stroke="#111" stroke-width="2.2"/>
<polyline points="139.2,69 243.3,69 263.3,120" fill="none" stroke="#4a70a3" stroke-width="1.8"/>
<polyline points="138.7,193.2 242.7,193.2 259.3,170.7" fill="none" stroke="#4a70a3" stroke-width="1.8"/>
<text x="228.0" y="142.0" font-size="19" font-family="Liberation Serif, serif" font-weight="normal" fill="#111" text-anchor="start" stroke="#111" stroke-width="0.3" textLength="68.0" lengthAdjust="spacingAndGlyphs" >correlate</text>
<text x="232.0" y="162.0" font-size="19" font-family="Liberation Serif, serif" font-weight="normal" fill="#111" text-anchor="start" stroke="#111" stroke-width="0.3" textLength="64.0" lengthAdjust="spacingAndGlyphs" >patterns</text>
<rect x="332.1" y="108.2" width="86.6" height="86.6" fill="#fff" stroke="#2b2b2b" stroke-width="2"/>
<clipPath id="nc1"><polygon points="333.1,109.2 333.1,193.8 417.70000000000005,193.8"/></clipPath>
<g clip-path="url(#nc1)"><rect x="331.1" y="107.2" width="88.6" height="88.6" fill="#777" filter="url(#gn1)"/></g>
<filter id="gn1" x="0" y="0" width="100%" height="100%" color-interpolation-filters="sRGB"><feTurbulence type="fractalNoise" baseFrequency="1.6" numOctaves="2" seed="8"/><feColorMatrix type="matrix" values="1.05 0 0 0 -0.04  1.05 0 0 0 -0.04  1.05 0 0 0 -0.04  0 0 0 0 1"/></filter>
<rect x="392" y="143.6" width="86.6" height="86.6" fill="#fff" stroke="#2b2b2b" stroke-width="2"/>
<clipPath id="nc2"><polygon points="393,144.6 393,229.2 477.6,229.2"/></clipPath>
<g clip-path="url(#nc2)"><rect x="391" y="142.6" width="88.6" height="88.6" fill="#777" filter="url(#gn2)"/></g>
<filter id="gn2" x="0" y="0" width="100%" height="100%" color-interpolation-filters="sRGB"><feTurbulence type="fractalNoise" baseFrequency="1.6" numOctaves="2" seed="15"/><feColorMatrix type="matrix" values="1.05 0 0 0 -0.04  1.05 0 0 0 -0.04  1.05 0 0 0 -0.04  0 0 0 0 1"/></filter>
<rect x="407.6" y="152.6" width="86.6" height="86.6" fill="#fff" stroke="#2b2b2b" stroke-width="2"/>
<clipPath id="nc3"><polygon points="408.6,153.6 408.6,238.2 493.20000000000005,238.2"/></clipPath>
<g clip-path="url(#nc3)"><rect x="406.6" y="151.6" width="88.6" height="88.6" fill="#777" filter="url(#gn3)"/></g>
<filter id="gn3" x="0" y="0" width="100%" height="100%" color-interpolation-filters="sRGB"><feTurbulence type="fractalNoise" baseFrequency="1.6" numOctaves="2" seed="22"/><feColorMatrix type="matrix" values="1.05 0 0 0 -0.04  1.05 0 0 0 -0.04  1.05 0 0 0 -0.04  0 0 0 0 1"/></filter>
<rect x="422" y="161.6" width="86.6" height="86.6" fill="#fff" stroke="#2b2b2b" stroke-width="2"/>
<clipPath id="nc4"><polygon points="423,162.6 423,247.2 507.6,247.2"/></clipPath>
<g clip-path="url(#nc4)"><rect x="421" y="160.6" width="88.6" height="88.6" fill="#777" filter="url(#gn4)"/></g>
<filter id="gn4" x="0" y="0" width="100%" height="100%" color-interpolation-filters="sRGB"><feTurbulence type="fractalNoise" baseFrequency="1.6" numOctaves="2" seed="29"/><feColorMatrix type="matrix" values="1.05 0 0 0 -0.04  1.05 0 0 0 -0.04  1.05 0 0 0 -0.04  0 0 0 0 1"/></filter>
<path d="M301.5,146.5 L349.5,146.5 M341,141 L349.8,146.5 L341,152" fill="none" stroke="#4a70a3" stroke-width="1.6"/>
<text x="389.5" y="124" font-size="18.5" font-family="Liberation Serif, serif" fill="#181818" stroke="#181818" stroke-width="0.3">t=t<tspan font-size="12.5" dy="2.5">1</tspan></text>
<text x="466.8" y="178" font-size="18.5" font-family="Liberation Serif, serif" fill="#181818" stroke="#181818" stroke-width="0.3">t=t<tspan font-size="13.5" dy="2.2">end</tspan></text>
<line x1="330.9" y1="201.2" x2="386.4" y2="235.2" stroke="#111" stroke-width="1.9" stroke-dasharray="6,4"/>
<line x1="386.4" y1="235.2" x2="422" y2="257.2" stroke="#111" stroke-width="1.9"/>
<path d="M413,257.8 L422.5,257.6 L418.2,250.2" fill="none" stroke="#111" stroke-width="1.9"/>
<text x="342.4" y="254.1" font-size="19" font-family="Liberation Serif, serif" font-weight="normal" fill="#181818" text-anchor="start" stroke="#181818" stroke-width="0.3" textLength="34.6" lengthAdjust="spacingAndGlyphs" >time</text>
<defs><linearGradient id="gbar" x1="0" x2="1" y1="0" y2="0"><stop offset="0" stop-color="#000"/><stop offset="0.26" stop-color="#050505"/><stop offset="1" stop-color="#d2d2d2"/></linearGradient></defs>
<rect x="421" y="274" width="88.5" height="8.5" fill="url(#gbar)" stroke="#222" stroke-width="1.4"/>
<line x1="410.5" y1="278.5" x2="414.5" y2="278.5" stroke="#222" stroke-width="1.3"/>
<path d="M513.2,278.2 H522 M517.6,273.8 V282.6" stroke="#222" stroke-width="1.3"/>
<text x="417.1" y="303.4" font-size="19" font-family="Liberation Serif, serif" font-weight="normal" fill="#181818" text-anchor="start" stroke="#181818" stroke-width="0.3" textLength="94.9" lengthAdjust="spacingAndGlyphs" >dissimilarity</text>
<line x1="520.5" y1="131.3" x2="598.7" y2="80.8" stroke="#4a70a3" stroke-width="2"/>
<polyline points="590.2,80.9 598.7,80.8 595.1,88.5" fill="none" stroke="#4a70a3" stroke-width="2"/>
<polyline points="529.0,131.2 520.5,131.3 524.1,123.6" fill="none" stroke="#4a70a3" stroke-width="2"/>
<line x1="520.8" y1="144.7" x2="597" y2="144.7" stroke="#4a70a3" stroke-width="2"/>
<polyline points="589.8,140.2 597,144.7 589.8,149.2" fill="none" stroke="#4a70a3" stroke-width="2"/>
<polyline points="528.0,149.2 520.8,144.7 528.0,140.2" fill="none" stroke="#4a70a3" stroke-width="2"/>
<line x1="522.3" y1="157.8" x2="594.9" y2="255.5" stroke="#4a70a3" stroke-width="2"/>
<polyline points="594.2,247.0 594.9,255.5 587.0,252.4" fill="none" stroke="#4a70a3" stroke-width="2"/>
<polyline points="523.0,166.3 522.3,157.8 530.2,160.9" fill="none" stroke="#4a70a3" stroke-width="2"/>
<text x="558.6" y="96.3" font-size="19.5" font-family="Liberation Serif, serif" fill="#151515">r</text>
<text x="558.6" y="138.5" font-size="19.5" font-family="Liberation Serif, serif" fill="#151515">r</text>
<text x="558.6" y="197.5" font-size="19.5" font-family="Liberation Serif, serif" fill="#151515">r</text>
<clipPath id="pc101"><polygon points="606.2,31 606.2,114.5 689.7,114.5"/></clipPath>
<g clip-path="url(#pc101)">
<rect x="604.2" y="29" width="87.5" height="87.5" fill="rgb(37, 98, 95)"/>
<path d="M605.2 30.0h2.14v2.14h-2.14zM605.2 32.0h2.14v2.14h-2.14zM605.2 38.0h2.14v2.14h-2.14zM613.2 38.0h2.14v2.14h-2.14zM605.2 39.9h2.14v2.14h-2.14zM607.2 39.9h2.14v2.14h-2.14zM613.2 39.9h2.14v2.14h-2.14zM605.2 41.9h2.14v2.14h-2.14zM613.2 41.9h2.14v2.14h-2.14zM615.1 41.9h2.14v2.14h-2.14zM605.2 43.9h2.14v2.14h-2.14zM613.2 43.9h2.14v2.14h-2.14zM615.1 43.9h2.14v2.14h-2.14zM619.1 43.9h2.14v2.14h-2.14zM605.2 45.9h2.14v2.14h-2.14zM613.2 45.9h2.14v2.14h-2.14zM615.1 45.9h2.14v2.14h-2.14zM621.1 45.9h2.14v2.14h-2.14zM605.2 47.9h2.14v2.14h-2.14zM607.2 47.9h2.14v2.14h-2.14zM613.2 47.9h2.14v2.14h-2.14zM617.1 47.9h2.14v2.14h-2.14zM619.1 47.9h2.14v2.14h-2.14zM621.1 47.9h2.14v2.14h-2.14zM605.2 49.9h2.14v2.14h-2.14zM613.2 49.9h2.14v2.14h-2.14zM615.1 49.9h2.14v2.14h-2.14zM623.1 49.9h2.14v2.14h-2.14zM619.1 51.9h2.14v2.14h-2.14zM605.2 53.9h2.14v2.14h-2.14zM613.2 53.9h2.14v2.14h-2.14zM615.1 53.9h2.14v2.14h-2.14zM623.1 53.9h2.14v2.14h-2.14zM605.2 55.8h2.14v2.14h-2.14zM615.1 55.8h2.14v2.14h-2.14zM619.1 55.8h2.14v2.14h-2.14zM623.1 55.8h2.14v2.14h-2.14zM631.0 55.8h2.14v2.14h-2.14zM605.2 57.8h2.14v2.14h-2.14zM615.1 57.8h2.14v2.14h-2.14zM623.1 57.8h2.14v2.14h-2.14zM607.2 59.8h2.14v2.14h-2.14zM613.2 59.8h2.14v2.14h-2.14zM617.1 59.8h2.14v2.14h-2.14zM619.1 59.8h2.14v2.14h-2.14zM621.1 59.8h2.14v2.14h-2.14zM625.1 59.8h2.14v2.14h-2.14zM629.1 59.8h2.14v2.14h-2.14zM631.0 59.8h2.14v2.14h-2.14zM633.0 59.8h2.14v2.14h-2.14zM605.2 61.8h2.14v2.14h-2.14zM607.2 61.8h2.14v2.14h-2.14zM613.2 61.8h2.14v2.14h-2.14zM615.1 61.8h2.14v2.14h-2.14zM623.1 61.8h2.14v2.14h-2.14zM625.1 61.8h2.14v2.14h-2.14zM633.0 61.8h2.14v2.14h-2.14zM635.0 61.8h2.14v2.14h-2.14zM637.0 61.8h2.14v2.14h-2.14zM605.2 63.8h2.14v2.14h-2.14zM607.2 63.8h2.14v2.14h-2.14zM613.2 63.8h2.14v2.14h-2.14zM615.1 63.8h2.14v2.14h-2.14zM617.1 63.8h2.14v2.14h-2.14zM619.1 63.8h2.14v2.14h-2.14zM621.1 63.8h2.14v2.14h-2.14zM623.1 63.8h2.14v2.14h-2.14zM625.1 63.8h2.14v2.14h-2.14zM635.0 63.8h2.14v2.14h-2.14zM637.0 63.8h2.14v2.14h-2.14zM639.0 63.8h2.14v2.14h-2.14zM605.2 65.8h2.14v2.14h-2.14zM615.1 65.8h2.14v2.14h-2.14zM617.1 65.8h2.14v2.14h-2.14zM619.1 65.8h2.14v2.14h-2.14zM621.1 65.8h2.14v2.14h-2.14zM623.1 65.8h2.14v2.14h-2.14zM629.1 65.8h2.14v2.14h-2.14zM635.0 65.8h2.14v2.14h-2.14zM639.0 65.8h2.14v2.14h-2.14zM641.0 65.8h2.14v2.14h-2.14zM605.2 67.8h2.14v2.14h-2.14zM607.2 67.8h2.14v2.14h-2.14zM613.2 67.8h2.14v2.14h-2.14zM615.1 67.8h2.14v2.14h-2.14zM617.1 67.8h2.14v2.14h-2.14zM619.1 67.8h2.14v2.14h-2.14zM621.1 67.8h2.14v2.14h-2.14zM623.1 67.8h2.14v2.14h-2.14zM625.1 67.8h2.14v2.14h-2.14zM629.1 67.8h2.14v2.14h-2.14zM631.0 67.8h2.14v2.14h-2.14zM633.0 67.8h2.14v2.14h-2.14zM637.0 67.8h2.14v2.14h-2.14zM639.0 67.8h2.14v2.14h-2.14zM641.0 67.8h2.14v2.14h-2.14zM605.2 69.8h2.14v2.14h-2.14zM607.2 69.8h2.14v2.14h-2.14zM613.2 69.8h2.14v2.14h-2.14zM615.1 69.8h2.14v2.14h-2.14zM619.1 69.8h2.14v2.14h-2.14zM623.1 69.8h2.14v2.14h-2.14zM629.1 69.8h2.14v2.14h-2.14zM631.0 69.8h2.14v2.14h-2.14zM633.0 69.8h2.14v2.14h-2.14zM635.0 69.8h2.14v2.14h-2.14zM637.0 69.8h2.14v2.14h-2.14zM639.0 69.8h2.14v2.14h-2.14zM641.0 69.8h2.14v2.14h-2.14zM643.0 69.8h2.14v2.14h-2.14zM645.0 69.8h2.14v2.14h-2.14zM605.2 71.8h2.14v2.14h-2.14zM613.2 71.8h2.14v2.14h-2.14zM615.1 71.8h2.14v2.14h-2.14zM619.1 71.8h2.14v2.14h-2.14zM623.1 71.8h2.14v2.14h-2.14zM635.0 71.8h2.14v2.14h-2.14zM639.0 71.8h2.14v2.14h-2.14zM643.0 71.8h2.14v2.14h-2.14zM605.2 73.7h2.14v2.14h-2.14zM613.2 73.7h2.14v2.14h-2.14zM615.1 73.7h2.14v2.14h-2.14zM617.1 73.7h2.14v2.14h-2.14zM621.1 73.7h2.14v2.14h-2.14zM623.1 73.7h2.14v2.14h-2.14zM629.1 73.7h2.14v2.14h-2.14zM631.0 73.7h2.14v2.14h-2.14zM633.0 73.7h2.14v2.14h-2.14zM635.0 73.7h2.14v2.14h-2.14zM637.0 73.7h2.14v2.14h-2.14zM639.0 73.7h2.14v2.14h-2.14zM641.0 73.7h2.14v2.14h-2.14zM643.0 73.7h2.14v2.14h-2.14zM645.0 73.7h2.14v2.14h-2.14zM648.9 73.7h2.14v2.14h-2.14zM605.2 75.7h2.14v2.14h-2.14zM613.2 75.7h2.14v2.14h-2.14zM615.1 75.7h2.14v2.14h-2.14zM621.1 75.7h2.14v2.14h-2.14zM623.1 75.7h2.14v2.14h-2.14zM635.0 75.7h2.14v2.14h-2.14zM643.0 75.7h2.14v2.14h-2.14zM648.9 75.7h2.14v2.14h-2.14zM650.9 75.7h2.14v2.14h-2.14zM609.2 77.7h2.14v2.14h-2.14zM611.2 77.7h2.14v2.14h-2.14zM613.2 77.7h2.14v2.14h-2.14zM615.1 77.7h2.14v2.14h-2.14zM623.1 77.7h2.14v2.14h-2.14zM635.0 77.7h2.14v2.14h-2.14zM637.0 77.7h2.14v2.14h-2.14zM639.0 77.7h2.14v2.14h-2.14zM643.0 77.7h2.14v2.14h-2.14zM645.0 77.7h2.14v2.14h-2.14zM617.1 79.7h2.14v2.14h-2.14zM619.1 79.7h2.14v2.14h-2.14zM625.1 79.7h2.14v2.14h-2.14zM629.1 79.7h2.14v2.14h-2.14zM631.0 79.7h2.14v2.14h-2.14zM633.0 79.7h2.14v2.14h-2.14zM637.0 79.7h2.14v2.14h-2.14zM645.0 79.7h2.14v2.14h-2.14zM647.0 79.7h2.14v2.14h-2.14zM650.9 79.7h2.14v2.14h-2.14zM652.9 79.7h2.14v2.14h-2.14zM605.2 81.7h2.14v2.14h-2.14zM607.2 81.7h2.14v2.14h-2.14zM613.2 81.7h2.14v2.14h-2.14zM617.1 81.7h2.14v2.14h-2.14zM619.1 81.7h2.14v2.14h-2.14zM621.1 81.7h2.14v2.14h-2.14zM623.1 81.7h2.14v2.14h-2.14zM625.1 81.7h2.14v2.14h-2.14zM629.1 81.7h2.14v2.14h-2.14zM631.0 81.7h2.14v2.14h-2.14zM633.0 81.7h2.14v2.14h-2.14zM637.0 81.7h2.14v2.14h-2.14zM639.0 81.7h2.14v2.14h-2.14zM641.0 81.7h2.14v2.14h-2.14zM643.0 81.7h2.14v2.14h-2.14zM645.0 81.7h2.14v2.14h-2.14zM647.0 81.7h2.14v2.14h-2.14zM648.9 81.7h2.14v2.14h-2.14zM650.9 81.7h2.14v2.14h-2.14zM652.9 81.7h2.14v2.14h-2.14zM605.2 83.7h2.14v2.14h-2.14zM607.2 83.7h2.14v2.14h-2.14zM613.2 83.7h2.14v2.14h-2.14zM615.1 83.7h2.14v2.14h-2.14zM617.1 83.7h2.14v2.14h-2.14zM619.1 83.7h2.14v2.14h-2.14zM621.1 83.7h2.14v2.14h-2.14zM625.1 83.7h2.14v2.14h-2.14zM629.1 83.7h2.14v2.14h-2.14zM631.0 83.7h2.14v2.14h-2.14zM633.0 83.7h2.14v2.14h-2.14zM637.0 83.7h2.14v2.14h-2.14zM639.0 83.7h2.14v2.14h-2.14zM641.0 83.7h2.14v2.14h-2.14zM645.0 83.7h2.14v2.14h-2.14zM647.0 83.7h2.14v2.14h-2.14zM648.9 83.7h2.14v2.14h-2.14zM650.9 83.7h2.14v2.14h-2.14zM652.9 83.7h2.14v2.14h-2.14zM656.9 83.7h2.14v2.14h-2.14zM658.9 83.7h2.14v2.14h-2.14zM607.2 85.7h2.14v2.14h-2.14zM617.1 85.7h2.14v2.14h-2.14zM621.1 85.7h2.14v2.14h-2.14zM629.1 85.7h2.14v2.14h-2.14zM631.0 85.7h2.14v2.14h-2.14zM637.0 85.7h2.14v2.14h-2.14zM641.0 85.7h2.14v2.14h-2.14zM645.0 85.7h2.14v2.14h-2.14zM650.9 85.7h2.14v2.14h-2.14zM652.9 85.7h2.14v2.14h-2.14zM605.2 87.7h2.14v2.14h-2.14zM607.2 87.7h2.14v2.14h-2.14zM613.2 87.7h2.14v2.14h-2.14zM615.1 87.7h2.14v2.14h-2.14zM619.1 87.7h2.14v2.14h-2.14zM623.1 87.7h2.14v2.14h-2.14zM635.0 87.7h2.14v2.14h-2.14zM639.0 87.7h2.14v2.14h-2.14zM641.0 87.7h2.14v2.14h-2.14zM643.0 87.7h2.14v2.14h-2.14zM645.0 87.7h2.14v2.14h-2.14zM647.0 87.7h2.14v2.14h-2.14zM648.9 87.7h2.14v2.14h-2.14zM652.9 87.7h2.14v2.14h-2.14zM656.9 87.7h2.14v2.14h-2.14zM658.9 87.7h2.14v2.14h-2.14zM662.9 87.7h2.14v2.14h-2.14zM605.2 89.7h2.14v2.14h-2.14zM615.1 89.7h2.14v2.14h-2.14zM617.1 89.7h2.14v2.14h-2.14zM623.1 89.7h2.14v2.14h-2.14zM625.1 89.7h2.14v2.14h-2.14zM629.1 89.7h2.14v2.14h-2.14zM631.0 89.7h2.14v2.14h-2.14zM635.0 89.7h2.14v2.14h-2.14zM639.0 89.7h2.14v2.14h-2.14zM643.0 89.7h2.14v2.14h-2.14zM645.0 89.7h2.14v2.14h-2.14zM648.9 89.7h2.14v2.14h-2.14zM650.9 89.7h2.14v2.14h-2.14zM652.9 89.7h2.14v2.14h-2.14zM654.9 89.7h2.14v2.14h-2.14zM656.9 89.7h2.14v2.14h-2.14zM658.9 89.7h2.14v2.14h-2.14zM662.9 89.7h2.14v2.14h-2.14zM664.9 89.7h2.14v2.14h-2.14zM605.2 91.6h2.14v2.14h-2.14zM613.2 91.6h2.14v2.14h-2.14zM615.1 91.6h2.14v2.14h-2.14zM619.1 91.6h2.14v2.14h-2.14zM621.1 91.6h2.14v2.14h-2.14zM623.1 91.6h2.14v2.14h-2.14zM625.1 91.6h2.14v2.14h-2.14zM635.0 91.6h2.14v2.14h-2.14zM637.0 91.6h2.14v2.14h-2.14zM639.0 91.6h2.14v2.14h-2.14zM641.0 91.6h2.14v2.14h-2.14zM643.0 91.6h2.14v2.14h-2.14zM645.0 91.6h2.14v2.14h-2.14zM648.9 91.6h2.14v2.14h-2.14zM652.9 91.6h2.14v2.14h-2.14zM656.9 91.6h2.14v2.14h-2.14zM658.9 91.6h2.14v2.14h-2.14zM660.9 91.6h2.14v2.14h-2.14zM662.9 91.6h2.14v2.14h-2.14zM666.8 91.6h2.14v2.14h-2.14zM605.2 93.6h2.14v2.14h-2.14zM607.2 93.6h2.14v2.14h-2.14zM613.2 93.6h2.14v2.14h-2.14zM615.1 93.6h2.14v2.14h-2.14zM619.1 93.6h2.14v2.14h-2.14zM621.1 93.6h2.14v2.14h-2.14zM623.1 93.6h2.14v2.14h-2.14zM625.1 93.6h2.14v2.14h-2.14zM629.1 93.6h2.14v2.14h-2.14zM635.0 93.6h2.14v2.14h-2.14zM639.0 93.6h2.14v2.14h-2.14zM641.0 93.6h2.14v2.14h-2.14zM643.0 93.6h2.14v2.14h-2.14zM645.0 93.6h2.14v2.14h-2.14zM648.9 93.6h2.14v2.14h-2.14zM650.9 93.6h2.14v2.14h-2.14zM654.9 93.6h2.14v2.14h-2.14zM656.9 93.6h2.14v2.14h-2.14zM658.9 93.6h2.14v2.14h-2.14zM662.9 93.6h2.14v2.14h-2.14zM668.8 93.6h2.14v2.14h-2.14zM605.2 95.6h2.14v2.14h-2.14zM607.2 95.6h2.14v2.14h-2.14zM613.2 95.6h2.14v2.14h-2.14zM615.1 95.6h2.14v2.14h-2.14zM617.1 95.6h2.14v2.14h-2.14zM619.1 95.6h2.14v2.14h-2.14zM621.1 95.6h2.14v2.14h-2.14zM625.1 95.6h2.14v2.14h-2.14zM629.1 95.6h2.14v2.14h-2.14zM631.0 95.6h2.14v2.14h-2.14zM633.0 95.6h2.14v2.14h-2.14zM637.0 95.6h2.14v2.14h-2.14zM639.0 95.6h2.14v2.14h-2.14zM641.0 95.6h2.14v2.14h-2.14zM645.0 95.6h2.14v2.14h-2.14zM647.0 95.6h2.14v2.14h-2.14zM648.9 95.6h2.14v2.14h-2.14zM650.9 95.6h2.14v2.14h-2.14zM652.9 95.6h2.14v2.14h-2.14zM658.9 95.6h2.14v2.14h-2.14zM662.9 95.6h2.14v2.14h-2.14zM664.9 95.6h2.14v2.14h-2.14zM666.8 95.6h2.14v2.14h-2.14zM668.8 95.6h2.14v2.14h-2.14zM670.8 95.6h2.14v2.14h-2.14zM605.2 99.6h2.14v2.14h-2.14zM613.2 99.6h2.14v2.14h-2.14zM615.1 99.6h2.14v2.14h-2.14zM617.1 99.6h2.14v2.14h-2.14zM621.1 99.6h2.14v2.14h-2.14zM623.1 99.6h2.14v2.14h-2.14zM625.1 99.6h2.14v2.14h-2.14zM631.0 99.6h2.14v2.14h-2.14zM633.0 99.6h2.14v2.14h-2.14zM635.0 99.6h2.14v2.14h-2.14zM637.0 99.6h2.14v2.14h-2.14zM639.0 99.6h2.14v2.14h-2.14zM643.0 99.6h2.14v2.14h-2.14zM645.0 99.6h2.14v2.14h-2.14zM648.9 99.6h2.14v2.14h-2.14zM650.9 99.6h2.14v2.14h-2.14zM652.9 99.6h2.14v2.14h-2.14zM656.9 99.6h2.14v2.14h-2.14zM658.9 99.6h2.14v2.14h-2.14zM666.8 99.6h2.14v2.14h-2.14zM668.8 99.6h2.14v2.14h-2.14zM670.8 99.6h2.14v2.14h-2.14zM672.8 99.6h2.14v2.14h-2.14zM674.8 99.6h2.14v2.14h-2.14zM605.2 101.6h2.14v2.14h-2.14zM607.2 101.6h2.14v2.14h-2.14zM613.2 101.6h2.14v2.14h-2.14zM615.1 101.6h2.14v2.14h-2.14zM621.1 101.6h2.14v2.14h-2.14zM623.1 101.6h2.14v2.14h-2.14zM625.1 101.6h2.14v2.14h-2.14zM629.1 101.6h2.14v2.14h-2.14zM633.0 101.6h2.14v2.14h-2.14zM635.0 101.6h2.14v2.14h-2.14zM637.0 101.6h2.14v2.14h-2.14zM639.0 101.6h2.14v2.14h-2.14zM641.0 101.6h2.14v2.14h-2.14zM643.0 101.6h2.14v2.14h-2.14zM645.0 101.6h2.14v2.14h-2.14zM647.0 101.6h2.14v2.14h-2.14zM648.9 101.6h2.14v2.14h-2.14zM650.9 101.6h2.14v2.14h-2.14zM654.9 101.6h2.14v2.14h-2.14zM656.9 101.6h2.14v2.14h-2.14zM658.9 101.6h2.14v2.14h-2.14zM662.9 101.6h2.14v2.14h-2.14zM664.9 101.6h2.14v2.14h-2.14zM666.8 101.6h2.14v2.14h-2.14zM668.8 101.6h2.14v2.14h-2.14zM670.8 101.6h2.14v2.14h-2.14zM672.8 101.6h2.14v2.14h-2.14zM674.8 101.6h2.14v2.14h-2.14zM676.8 101.6h2.14v2.14h-2.14zM605.2 103.6h2.14v2.14h-2.14zM615.1 103.6h2.14v2.14h-2.14zM617.1 103.6h2.14v2.14h-2.14zM621.1 103.6h2.14v2.14h-2.14zM623.1 103.6h2.14v2.14h-2.14zM629.1 103.6h2.14v2.14h-2.14zM633.0 103.6h2.14v2.14h-2.14zM635.0 103.6h2.14v2.14h-2.14zM637.0 103.6h2.14v2.14h-2.14zM639.0 103.6h2.14v2.14h-2.14zM643.0 103.6h2.14v2.14h-2.14zM645.0 103.6h2.14v2.14h-2.14zM647.0 103.6h2.14v2.14h-2.14zM648.9 103.6h2.14v2.14h-2.14zM650.9 103.6h2.14v2.14h-2.14zM652.9 103.6h2.14v2.14h-2.14zM654.9 103.6h2.14v2.14h-2.14zM656.9 103.6h2.14v2.14h-2.14zM658.9 103.6h2.14v2.14h-2.14zM666.8 103.6h2.14v2.14h-2.14zM668.8 103.6h2.14v2.14h-2.14zM670.8 103.6h2.14v2.14h-2.14zM672.8 103.6h2.14v2.14h-2.14zM674.8 103.6h2.14v2.14h-2.14zM676.8 103.6h2.14v2.14h-2.14zM615.1 105.6h2.14v2.14h-2.14zM623.1 105.6h2.14v2.14h-2.14zM635.0 105.6h2.14v2.14h-2.14zM639.0 105.6h2.14v2.14h-2.14zM643.0 105.6h2.14v2.14h-2.14zM654.9 105.6h2.14v2.14h-2.14zM656.9 105.6h2.14v2.14h-2.14zM658.9 105.6h2.14v2.14h-2.14zM662.9 105.6h2.14v2.14h-2.14zM670.8 105.6h2.14v2.14h-2.14zM674.8 105.6h2.14v2.14h-2.14zM676.8 105.6h2.14v2.14h-2.14zM605.2 107.5h2.14v2.14h-2.14zM607.2 107.5h2.14v2.14h-2.14zM613.2 107.5h2.14v2.14h-2.14zM617.1 107.5h2.14v2.14h-2.14zM619.1 107.5h2.14v2.14h-2.14zM621.1 107.5h2.14v2.14h-2.14zM625.1 107.5h2.14v2.14h-2.14zM629.1 107.5h2.14v2.14h-2.14zM631.0 107.5h2.14v2.14h-2.14zM633.0 107.5h2.14v2.14h-2.14zM637.0 107.5h2.14v2.14h-2.14zM639.0 107.5h2.14v2.14h-2.14zM641.0 107.5h2.14v2.14h-2.14zM645.0 107.5h2.14v2.14h-2.14zM647.0 107.5h2.14v2.14h-2.14zM648.9 107.5h2.14v2.14h-2.14zM650.9 107.5h2.14v2.14h-2.14zM652.9 107.5h2.14v2.14h-2.14zM658.9 107.5h2.14v2.14h-2.14zM662.9 107.5h2.14v2.14h-2.14zM664.9 107.5h2.14v2.14h-2.14zM666.8 107.5h2.14v2.14h-2.14zM668.8 107.5h2.14v2.14h-2.14zM672.8 107.5h2.14v2.14h-2.14zM674.8 107.5h2.14v2.14h-2.14zM676.8 107.5h2.14v2.14h-2.14zM678.8 107.5h2.14v2.14h-2.14zM680.8 107.5h2.14v2.14h-2.14zM615.1 109.5h2.14v2.14h-2.14zM623.1 109.5h2.14v2.14h-2.14zM635.0 109.5h2.14v2.14h-2.14zM639.0 109.5h2.14v2.14h-2.14zM641.0 109.5h2.14v2.14h-2.14zM643.0 109.5h2.14v2.14h-2.14zM645.0 109.5h2.14v2.14h-2.14zM654.9 109.5h2.14v2.14h-2.14zM656.9 109.5h2.14v2.14h-2.14zM658.9 109.5h2.14v2.14h-2.14zM666.8 109.5h2.14v2.14h-2.14zM668.8 109.5h2.14v2.14h-2.14zM670.8 109.5h2.14v2.14h-2.14zM674.8 109.5h2.14v2.14h-2.14zM676.8 109.5h2.14v2.14h-2.14zM682.7 109.5h2.14v2.14h-2.14zM605.2 111.5h2.14v2.14h-2.14zM607.2 111.5h2.14v2.14h-2.14zM613.2 111.5h2.14v2.14h-2.14zM615.1 111.5h2.14v2.14h-2.14zM617.1 111.5h2.14v2.14h-2.14zM619.1 111.5h2.14v2.14h-2.14zM621.1 111.5h2.14v2.14h-2.14zM623.1 111.5h2.14v2.14h-2.14zM625.1 111.5h2.14v2.14h-2.14zM629.1 111.5h2.14v2.14h-2.14zM631.0 111.5h2.14v2.14h-2.14zM633.0 111.5h2.14v2.14h-2.14zM635.0 111.5h2.14v2.14h-2.14zM637.0 111.5h2.14v2.14h-2.14zM639.0 111.5h2.14v2.14h-2.14zM643.0 111.5h2.14v2.14h-2.14zM645.0 111.5h2.14v2.14h-2.14zM647.0 111.5h2.14v2.14h-2.14zM648.9 111.5h2.14v2.14h-2.14zM650.9 111.5h2.14v2.14h-2.14zM652.9 111.5h2.14v2.14h-2.14zM656.9 111.5h2.14v2.14h-2.14zM662.9 111.5h2.14v2.14h-2.14zM664.9 111.5h2.14v2.14h-2.14zM666.8 111.5h2.14v2.14h-2.14zM668.8 111.5h2.14v2.14h-2.14zM670.8 111.5h2.14v2.14h-2.14zM672.8 111.5h2.14v2.14h-2.14zM674.8 111.5h2.14v2.14h-2.14zM676.8 111.5h2.14v2.14h-2.14zM678.8 111.5h2.14v2.14h-2.14zM680.8 111.5h2.14v2.14h-2.14zM682.7 111.5h2.14v2.14h-2.14zM686.7 111.5h2.14v2.14h-2.14zM605.2 113.5h2.14v2.14h-2.14zM615.1 113.5h2.14v2.14h-2.14zM623.1 113.5h2.14v2.14h-2.14zM635.0 113.5h2.14v2.14h-2.14zM637.0 113.5h2.14v2.14h-2.14zM639.0 113.5h2.14v2.14h-2.14zM643.0 113.5h2.14v2.14h-2.14zM645.0 113.5h2.14v2.14h-2.14zM654.9 113.5h2.14v2.14h-2.14zM656.9 113.5h2.14v2.14h-2.14zM658.9 113.5h2.14v2.14h-2.14zM670.8 113.5h2.14v2.14h-2.14zM674.8 113.5h2.14v2.14h-2.14zM682.7 113.5h2.14v2.14h-2.14z" fill="rgb(36, 95, 92)"/>
<path d="M607.2 32.0h2.14v2.14h-2.14zM607.2 38.0h2.14v2.14h-2.14zM607.2 41.9h2.14v2.14h-2.14zM617.1 41.9h2.14v2.14h-2.14zM607.2 43.9h2.14v2.14h-2.14zM617.1 43.9h2.14v2.14h-2.14zM607.2 45.9h2.14v2.14h-2.14zM617.1 45.9h2.14v2.14h-2.14zM619.1 45.9h2.14v2.14h-2.14zM607.2 49.9h2.14v2.14h-2.14zM617.1 49.9h2.14v2.14h-2.14zM619.1 49.9h2.14v2.14h-2.14zM621.1 49.9h2.14v2.14h-2.14zM625.1 49.9h2.14v2.14h-2.14zM607.2 53.9h2.14v2.14h-2.14zM617.1 53.9h2.14v2.14h-2.14zM619.1 53.9h2.14v2.14h-2.14zM621.1 53.9h2.14v2.14h-2.14zM625.1 53.9h2.14v2.14h-2.14zM629.1 53.9h2.14v2.14h-2.14zM607.2 55.8h2.14v2.14h-2.14zM613.2 55.8h2.14v2.14h-2.14zM617.1 55.8h2.14v2.14h-2.14zM621.1 55.8h2.14v2.14h-2.14zM625.1 55.8h2.14v2.14h-2.14zM629.1 55.8h2.14v2.14h-2.14zM607.2 57.8h2.14v2.14h-2.14zM613.2 57.8h2.14v2.14h-2.14zM617.1 57.8h2.14v2.14h-2.14zM619.1 57.8h2.14v2.14h-2.14zM621.1 57.8h2.14v2.14h-2.14zM625.1 57.8h2.14v2.14h-2.14zM629.1 57.8h2.14v2.14h-2.14zM631.0 57.8h2.14v2.14h-2.14zM633.0 57.8h2.14v2.14h-2.14zM617.1 61.8h2.14v2.14h-2.14zM619.1 61.8h2.14v2.14h-2.14zM621.1 61.8h2.14v2.14h-2.14zM629.1 61.8h2.14v2.14h-2.14zM631.0 61.8h2.14v2.14h-2.14zM629.1 63.8h2.14v2.14h-2.14zM631.0 63.8h2.14v2.14h-2.14zM633.0 63.8h2.14v2.14h-2.14zM607.2 65.8h2.14v2.14h-2.14zM613.2 65.8h2.14v2.14h-2.14zM625.1 65.8h2.14v2.14h-2.14zM631.0 65.8h2.14v2.14h-2.14zM633.0 65.8h2.14v2.14h-2.14zM637.0 65.8h2.14v2.14h-2.14zM617.1 69.8h2.14v2.14h-2.14zM621.1 69.8h2.14v2.14h-2.14zM625.1 69.8h2.14v2.14h-2.14zM607.2 71.8h2.14v2.14h-2.14zM617.1 71.8h2.14v2.14h-2.14zM621.1 71.8h2.14v2.14h-2.14zM625.1 71.8h2.14v2.14h-2.14zM629.1 71.8h2.14v2.14h-2.14zM631.0 71.8h2.14v2.14h-2.14zM633.0 71.8h2.14v2.14h-2.14zM637.0 71.8h2.14v2.14h-2.14zM641.0 71.8h2.14v2.14h-2.14zM645.0 71.8h2.14v2.14h-2.14zM647.0 71.8h2.14v2.14h-2.14zM607.2 73.7h2.14v2.14h-2.14zM619.1 73.7h2.14v2.14h-2.14zM625.1 73.7h2.14v2.14h-2.14zM647.0 73.7h2.14v2.14h-2.14zM607.2 75.7h2.14v2.14h-2.14zM617.1 75.7h2.14v2.14h-2.14zM619.1 75.7h2.14v2.14h-2.14zM625.1 75.7h2.14v2.14h-2.14zM629.1 75.7h2.14v2.14h-2.14zM631.0 75.7h2.14v2.14h-2.14zM633.0 75.7h2.14v2.14h-2.14zM637.0 75.7h2.14v2.14h-2.14zM639.0 75.7h2.14v2.14h-2.14zM641.0 75.7h2.14v2.14h-2.14zM645.0 75.7h2.14v2.14h-2.14zM647.0 75.7h2.14v2.14h-2.14zM605.2 77.7h2.14v2.14h-2.14zM607.2 77.7h2.14v2.14h-2.14zM617.1 77.7h2.14v2.14h-2.14zM619.1 77.7h2.14v2.14h-2.14zM621.1 77.7h2.14v2.14h-2.14zM625.1 77.7h2.14v2.14h-2.14zM629.1 77.7h2.14v2.14h-2.14zM631.0 77.7h2.14v2.14h-2.14zM633.0 77.7h2.14v2.14h-2.14zM641.0 77.7h2.14v2.14h-2.14zM647.0 77.7h2.14v2.14h-2.14zM648.9 77.7h2.14v2.14h-2.14zM650.9 77.7h2.14v2.14h-2.14zM652.9 77.7h2.14v2.14h-2.14zM617.1 87.7h2.14v2.14h-2.14zM621.1 87.7h2.14v2.14h-2.14zM625.1 87.7h2.14v2.14h-2.14zM629.1 87.7h2.14v2.14h-2.14zM631.0 87.7h2.14v2.14h-2.14zM633.0 87.7h2.14v2.14h-2.14zM637.0 87.7h2.14v2.14h-2.14zM650.9 87.7h2.14v2.14h-2.14zM607.2 89.7h2.14v2.14h-2.14zM613.2 89.7h2.14v2.14h-2.14zM619.1 89.7h2.14v2.14h-2.14zM621.1 89.7h2.14v2.14h-2.14zM633.0 89.7h2.14v2.14h-2.14zM637.0 89.7h2.14v2.14h-2.14zM641.0 89.7h2.14v2.14h-2.14zM647.0 89.7h2.14v2.14h-2.14zM607.2 91.6h2.14v2.14h-2.14zM617.1 91.6h2.14v2.14h-2.14zM629.1 91.6h2.14v2.14h-2.14zM631.0 91.6h2.14v2.14h-2.14zM633.0 91.6h2.14v2.14h-2.14zM647.0 91.6h2.14v2.14h-2.14zM650.9 91.6h2.14v2.14h-2.14zM664.9 91.6h2.14v2.14h-2.14zM617.1 93.6h2.14v2.14h-2.14zM631.0 93.6h2.14v2.14h-2.14zM633.0 93.6h2.14v2.14h-2.14zM637.0 93.6h2.14v2.14h-2.14zM647.0 93.6h2.14v2.14h-2.14zM652.9 93.6h2.14v2.14h-2.14zM664.9 93.6h2.14v2.14h-2.14zM666.8 93.6h2.14v2.14h-2.14zM607.2 99.6h2.14v2.14h-2.14zM619.1 99.6h2.14v2.14h-2.14zM629.1 99.6h2.14v2.14h-2.14zM641.0 99.6h2.14v2.14h-2.14zM647.0 99.6h2.14v2.14h-2.14zM662.9 99.6h2.14v2.14h-2.14zM664.9 99.6h2.14v2.14h-2.14zM617.1 101.6h2.14v2.14h-2.14zM619.1 101.6h2.14v2.14h-2.14zM631.0 101.6h2.14v2.14h-2.14zM652.9 101.6h2.14v2.14h-2.14zM607.2 103.6h2.14v2.14h-2.14zM613.2 103.6h2.14v2.14h-2.14zM619.1 103.6h2.14v2.14h-2.14zM625.1 103.6h2.14v2.14h-2.14zM631.0 103.6h2.14v2.14h-2.14zM641.0 103.6h2.14v2.14h-2.14zM662.9 103.6h2.14v2.14h-2.14zM664.9 103.6h2.14v2.14h-2.14zM678.8 103.6h2.14v2.14h-2.14zM605.2 105.6h2.14v2.14h-2.14zM607.2 105.6h2.14v2.14h-2.14zM613.2 105.6h2.14v2.14h-2.14zM617.1 105.6h2.14v2.14h-2.14zM619.1 105.6h2.14v2.14h-2.14zM621.1 105.6h2.14v2.14h-2.14zM625.1 105.6h2.14v2.14h-2.14zM629.1 105.6h2.14v2.14h-2.14zM631.0 105.6h2.14v2.14h-2.14zM633.0 105.6h2.14v2.14h-2.14zM637.0 105.6h2.14v2.14h-2.14zM641.0 105.6h2.14v2.14h-2.14zM645.0 105.6h2.14v2.14h-2.14zM647.0 105.6h2.14v2.14h-2.14zM648.9 105.6h2.14v2.14h-2.14zM650.9 105.6h2.14v2.14h-2.14zM652.9 105.6h2.14v2.14h-2.14zM664.9 105.6h2.14v2.14h-2.14zM666.8 105.6h2.14v2.14h-2.14zM668.8 105.6h2.14v2.14h-2.14zM672.8 105.6h2.14v2.14h-2.14zM678.8 105.6h2.14v2.14h-2.14zM680.8 105.6h2.14v2.14h-2.14zM605.2 109.5h2.14v2.14h-2.14zM607.2 109.5h2.14v2.14h-2.14zM613.2 109.5h2.14v2.14h-2.14zM617.1 109.5h2.14v2.14h-2.14zM619.1 109.5h2.14v2.14h-2.14zM621.1 109.5h2.14v2.14h-2.14zM625.1 109.5h2.14v2.14h-2.14zM629.1 109.5h2.14v2.14h-2.14zM631.0 109.5h2.14v2.14h-2.14zM633.0 109.5h2.14v2.14h-2.14zM637.0 109.5h2.14v2.14h-2.14zM647.0 109.5h2.14v2.14h-2.14zM648.9 109.5h2.14v2.14h-2.14zM650.9 109.5h2.14v2.14h-2.14zM652.9 109.5h2.14v2.14h-2.14zM662.9 109.5h2.14v2.14h-2.14zM664.9 109.5h2.14v2.14h-2.14zM672.8 109.5h2.14v2.14h-2.14zM678.8 109.5h2.14v2.14h-2.14zM680.8 109.5h2.14v2.14h-2.14zM684.7 109.5h2.14v2.14h-2.14zM641.0 111.5h2.14v2.14h-2.14zM684.7 111.5h2.14v2.14h-2.14zM607.2 113.5h2.14v2.14h-2.14zM613.2 113.5h2.14v2.14h-2.14zM617.1 113.5h2.14v2.14h-2.14zM619.1 113.5h2.14v2.14h-2.14zM621.1 113.5h2.14v2.14h-2.14zM625.1 113.5h2.14v2.14h-2.14zM629.1 113.5h2.14v2.14h-2.14zM631.0 113.5h2.14v2.14h-2.14zM633.0 113.5h2.14v2.14h-2.14zM641.0 113.5h2.14v2.14h-2.14zM647.0 113.5h2.14v2.14h-2.14zM648.9 113.5h2.14v2.14h-2.14zM650.9 113.5h2.14v2.14h-2.14zM652.9 113.5h2.14v2.14h-2.14zM662.9 113.5h2.14v2.14h-2.14zM664.9 113.5h2.14v2.14h-2.14zM666.8 113.5h2.14v2.14h-2.14zM668.8 113.5h2.14v2.14h-2.14zM672.8 113.5h2.14v2.14h-2.14zM676.8 113.5h2.14v2.14h-2.14zM678.8 113.5h2.14v2.14h-2.14zM680.8 113.5h2.14v2.14h-2.14zM684.7 113.5h2.14v2.14h-2.14zM686.7 113.5h2.14v2.14h-2.14zM688.7 113.5h2.14v2.14h-2.14z" fill="rgb(25, 70, 69)"/>
<path d="M605.2 34.0h2.14v2.14h-2.14zM607.2 34.0h2.14v2.14h-2.14zM605.2 36.0h2.14v2.14h-2.14zM607.2 36.0h2.14v2.14h-2.14zM609.2 38.0h2.14v2.14h-2.14zM611.2 38.0h2.14v2.14h-2.14zM609.2 39.9h2.14v2.14h-2.14zM611.2 39.9h2.14v2.14h-2.14zM615.1 39.9h2.14v2.14h-2.14zM609.2 41.9h2.14v2.14h-2.14zM611.2 41.9h2.14v2.14h-2.14zM609.2 43.9h2.14v2.14h-2.14zM611.2 43.9h2.14v2.14h-2.14zM609.2 45.9h2.14v2.14h-2.14zM611.2 45.9h2.14v2.14h-2.14zM609.2 47.9h2.14v2.14h-2.14zM611.2 47.9h2.14v2.14h-2.14zM615.1 47.9h2.14v2.14h-2.14zM623.1 47.9h2.14v2.14h-2.14zM609.2 49.9h2.14v2.14h-2.14zM611.2 49.9h2.14v2.14h-2.14zM605.2 51.9h2.14v2.14h-2.14zM607.2 51.9h2.14v2.14h-2.14zM613.2 51.9h2.14v2.14h-2.14zM617.1 51.9h2.14v2.14h-2.14zM621.1 51.9h2.14v2.14h-2.14zM623.1 51.9h2.14v2.14h-2.14zM625.1 51.9h2.14v2.14h-2.14zM609.2 53.9h2.14v2.14h-2.14zM611.2 53.9h2.14v2.14h-2.14zM627.1 53.9h2.14v2.14h-2.14zM609.2 55.8h2.14v2.14h-2.14zM611.2 55.8h2.14v2.14h-2.14zM627.1 55.8h2.14v2.14h-2.14zM609.2 57.8h2.14v2.14h-2.14zM611.2 57.8h2.14v2.14h-2.14zM627.1 57.8h2.14v2.14h-2.14zM605.2 59.8h2.14v2.14h-2.14zM615.1 59.8h2.14v2.14h-2.14zM623.1 59.8h2.14v2.14h-2.14zM627.1 59.8h2.14v2.14h-2.14zM635.0 59.8h2.14v2.14h-2.14zM609.2 61.8h2.14v2.14h-2.14zM611.2 61.8h2.14v2.14h-2.14zM627.1 61.8h2.14v2.14h-2.14zM609.2 63.8h2.14v2.14h-2.14zM611.2 63.8h2.14v2.14h-2.14zM627.1 63.8h2.14v2.14h-2.14zM609.2 65.8h2.14v2.14h-2.14zM611.2 65.8h2.14v2.14h-2.14zM627.1 65.8h2.14v2.14h-2.14zM609.2 67.8h2.14v2.14h-2.14zM611.2 67.8h2.14v2.14h-2.14zM627.1 67.8h2.14v2.14h-2.14zM635.0 67.8h2.14v2.14h-2.14zM643.0 67.8h2.14v2.14h-2.14zM609.2 69.8h2.14v2.14h-2.14zM611.2 69.8h2.14v2.14h-2.14zM627.1 69.8h2.14v2.14h-2.14zM609.2 71.8h2.14v2.14h-2.14zM611.2 71.8h2.14v2.14h-2.14zM627.1 71.8h2.14v2.14h-2.14zM609.2 73.7h2.14v2.14h-2.14zM611.2 73.7h2.14v2.14h-2.14zM627.1 73.7h2.14v2.14h-2.14zM609.2 75.7h2.14v2.14h-2.14zM611.2 75.7h2.14v2.14h-2.14zM627.1 75.7h2.14v2.14h-2.14zM627.1 77.7h2.14v2.14h-2.14zM605.2 79.7h2.14v2.14h-2.14zM607.2 79.7h2.14v2.14h-2.14zM609.2 79.7h2.14v2.14h-2.14zM613.2 79.7h2.14v2.14h-2.14zM615.1 79.7h2.14v2.14h-2.14zM621.1 79.7h2.14v2.14h-2.14zM623.1 79.7h2.14v2.14h-2.14zM635.0 79.7h2.14v2.14h-2.14zM639.0 79.7h2.14v2.14h-2.14zM641.0 79.7h2.14v2.14h-2.14zM643.0 79.7h2.14v2.14h-2.14zM648.9 79.7h2.14v2.14h-2.14zM654.9 79.7h2.14v2.14h-2.14zM609.2 81.7h2.14v2.14h-2.14zM611.2 81.7h2.14v2.14h-2.14zM615.1 81.7h2.14v2.14h-2.14zM627.1 81.7h2.14v2.14h-2.14zM635.0 81.7h2.14v2.14h-2.14zM654.9 81.7h2.14v2.14h-2.14zM656.9 81.7h2.14v2.14h-2.14zM609.2 83.7h2.14v2.14h-2.14zM611.2 83.7h2.14v2.14h-2.14zM623.1 83.7h2.14v2.14h-2.14zM627.1 83.7h2.14v2.14h-2.14zM635.0 83.7h2.14v2.14h-2.14zM643.0 83.7h2.14v2.14h-2.14zM654.9 83.7h2.14v2.14h-2.14zM605.2 85.7h2.14v2.14h-2.14zM613.2 85.7h2.14v2.14h-2.14zM615.1 85.7h2.14v2.14h-2.14zM619.1 85.7h2.14v2.14h-2.14zM623.1 85.7h2.14v2.14h-2.14zM625.1 85.7h2.14v2.14h-2.14zM633.0 85.7h2.14v2.14h-2.14zM635.0 85.7h2.14v2.14h-2.14zM639.0 85.7h2.14v2.14h-2.14zM643.0 85.7h2.14v2.14h-2.14zM647.0 85.7h2.14v2.14h-2.14zM648.9 85.7h2.14v2.14h-2.14zM654.9 85.7h2.14v2.14h-2.14zM656.9 85.7h2.14v2.14h-2.14zM658.9 85.7h2.14v2.14h-2.14zM609.2 87.7h2.14v2.14h-2.14zM611.2 87.7h2.14v2.14h-2.14zM627.1 87.7h2.14v2.14h-2.14zM654.9 87.7h2.14v2.14h-2.14zM660.9 87.7h2.14v2.14h-2.14zM609.2 89.7h2.14v2.14h-2.14zM611.2 89.7h2.14v2.14h-2.14zM627.1 89.7h2.14v2.14h-2.14zM660.9 89.7h2.14v2.14h-2.14zM609.2 91.6h2.14v2.14h-2.14zM611.2 91.6h2.14v2.14h-2.14zM627.1 91.6h2.14v2.14h-2.14zM654.9 91.6h2.14v2.14h-2.14zM609.2 93.6h2.14v2.14h-2.14zM611.2 93.6h2.14v2.14h-2.14zM627.1 93.6h2.14v2.14h-2.14zM660.9 93.6h2.14v2.14h-2.14zM609.2 95.6h2.14v2.14h-2.14zM611.2 95.6h2.14v2.14h-2.14zM623.1 95.6h2.14v2.14h-2.14zM627.1 95.6h2.14v2.14h-2.14zM635.0 95.6h2.14v2.14h-2.14zM643.0 95.6h2.14v2.14h-2.14zM654.9 95.6h2.14v2.14h-2.14zM656.9 95.6h2.14v2.14h-2.14zM660.9 95.6h2.14v2.14h-2.14zM609.2 99.6h2.14v2.14h-2.14zM611.2 99.6h2.14v2.14h-2.14zM627.1 99.6h2.14v2.14h-2.14zM654.9 99.6h2.14v2.14h-2.14zM660.9 99.6h2.14v2.14h-2.14zM609.2 101.6h2.14v2.14h-2.14zM611.2 101.6h2.14v2.14h-2.14zM627.1 101.6h2.14v2.14h-2.14zM660.9 101.6h2.14v2.14h-2.14zM609.2 103.6h2.14v2.14h-2.14zM611.2 103.6h2.14v2.14h-2.14zM627.1 103.6h2.14v2.14h-2.14zM660.9 103.6h2.14v2.14h-2.14zM609.2 105.6h2.14v2.14h-2.14zM611.2 105.6h2.14v2.14h-2.14zM627.1 105.6h2.14v2.14h-2.14zM660.9 105.6h2.14v2.14h-2.14zM609.2 107.5h2.14v2.14h-2.14zM611.2 107.5h2.14v2.14h-2.14zM615.1 107.5h2.14v2.14h-2.14zM623.1 107.5h2.14v2.14h-2.14zM627.1 107.5h2.14v2.14h-2.14zM635.0 107.5h2.14v2.14h-2.14zM643.0 107.5h2.14v2.14h-2.14zM654.9 107.5h2.14v2.14h-2.14zM656.9 107.5h2.14v2.14h-2.14zM660.9 107.5h2.14v2.14h-2.14zM670.8 107.5h2.14v2.14h-2.14zM682.7 107.5h2.14v2.14h-2.14zM609.2 109.5h2.14v2.14h-2.14zM611.2 109.5h2.14v2.14h-2.14zM627.1 109.5h2.14v2.14h-2.14zM660.9 109.5h2.14v2.14h-2.14zM609.2 111.5h2.14v2.14h-2.14zM611.2 111.5h2.14v2.14h-2.14zM627.1 111.5h2.14v2.14h-2.14zM654.9 111.5h2.14v2.14h-2.14zM658.9 111.5h2.14v2.14h-2.14zM660.9 111.5h2.14v2.14h-2.14zM609.2 113.5h2.14v2.14h-2.14zM611.2 113.5h2.14v2.14h-2.14zM627.1 113.5h2.14v2.14h-2.14zM660.9 113.5h2.14v2.14h-2.14z" fill="rgb(47, 120, 116)"/>
<path d="M609.2 34.0h2.14v2.14h-2.14zM609.2 36.0h2.14v2.14h-2.14zM611.2 36.0h2.14v2.14h-2.14zM609.2 51.9h2.14v2.14h-2.14zM611.2 51.9h2.14v2.14h-2.14zM615.1 51.9h2.14v2.14h-2.14zM627.1 51.9h2.14v2.14h-2.14zM609.2 59.8h2.14v2.14h-2.14zM611.2 59.8h2.14v2.14h-2.14zM611.2 79.7h2.14v2.14h-2.14zM627.1 79.7h2.14v2.14h-2.14zM609.2 85.7h2.14v2.14h-2.14zM611.2 85.7h2.14v2.14h-2.14zM627.1 85.7h2.14v2.14h-2.14zM660.9 85.7h2.14v2.14h-2.14z" fill="rgb(58, 145, 139)"/>
<path d="M605.2 97.6h2.14v2.14h-2.14zM607.2 97.6h2.14v2.14h-2.14zM609.2 97.6h2.14v2.14h-2.14zM611.2 97.6h2.14v2.14h-2.14zM613.2 97.6h2.14v2.14h-2.14zM615.1 97.6h2.14v2.14h-2.14zM617.1 97.6h2.14v2.14h-2.14zM619.1 97.6h2.14v2.14h-2.14zM621.1 97.6h2.14v2.14h-2.14zM623.1 97.6h2.14v2.14h-2.14zM625.1 97.6h2.14v2.14h-2.14zM627.1 97.6h2.14v2.14h-2.14zM629.1 97.6h2.14v2.14h-2.14zM631.0 97.6h2.14v2.14h-2.14zM633.0 97.6h2.14v2.14h-2.14zM635.0 97.6h2.14v2.14h-2.14zM637.0 97.6h2.14v2.14h-2.14zM639.0 97.6h2.14v2.14h-2.14zM641.0 97.6h2.14v2.14h-2.14zM643.0 97.6h2.14v2.14h-2.14zM645.0 97.6h2.14v2.14h-2.14zM647.0 97.6h2.14v2.14h-2.14zM648.9 97.6h2.14v2.14h-2.14zM650.9 97.6h2.14v2.14h-2.14zM652.9 97.6h2.14v2.14h-2.14zM654.9 97.6h2.14v2.14h-2.14zM656.9 97.6h2.14v2.14h-2.14zM658.9 97.6h2.14v2.14h-2.14zM660.9 97.6h2.14v2.14h-2.14zM662.9 97.6h2.14v2.14h-2.14zM664.9 97.6h2.14v2.14h-2.14zM666.8 97.6h2.14v2.14h-2.14zM668.8 97.6h2.14v2.14h-2.14zM670.8 97.6h2.14v2.14h-2.14zM672.8 97.6h2.14v2.14h-2.14z" fill="rgb(69, 170, 163)"/>
</g>
<rect x="605.2" y="30" width="85.5" height="85.5" fill="none" stroke="#2b2b2b" stroke-width="2"/>
<clipPath id="pc202"><polygon points="606.2,131.8 606.2,215.3 689.7,215.3"/></clipPath>
<g clip-path="url(#pc202)">
<rect x="604.2" y="129.8" width="87.5" height="87.5" fill="rgb(58, 10, 59)"/>
<path d="M605.2 130.8h2.14v2.14h-2.14zM605.2 132.8h2.14v2.14h-2.14zM607.2 132.8h2.14v2.14h-2.14zM605.2 134.8h2.14v2.14h-2.14zM605.2 138.8h2.14v2.14h-2.14zM607.2 138.8h2.14v2.14h-2.14zM613.2 138.8h2.14v2.14h-2.14zM609.2 140.7h2.14v2.14h-2.14zM611.2 140.7h2.14v2.14h-2.14zM615.1 142.7h2.14v2.14h-2.14zM607.2 144.7h2.14v2.14h-2.14zM609.2 144.7h2.14v2.14h-2.14zM611.2 144.7h2.14v2.14h-2.14zM613.2 144.7h2.14v2.14h-2.14zM617.1 144.7h2.14v2.14h-2.14zM615.1 146.7h2.14v2.14h-2.14zM613.2 148.7h2.14v2.14h-2.14zM615.1 148.7h2.14v2.14h-2.14zM619.1 148.7h2.14v2.14h-2.14zM615.1 150.7h2.14v2.14h-2.14zM619.1 150.7h2.14v2.14h-2.14zM615.1 152.7h2.14v2.14h-2.14zM619.1 152.7h2.14v2.14h-2.14zM605.2 154.7h2.14v2.14h-2.14zM615.1 154.7h2.14v2.14h-2.14zM619.1 154.7h2.14v2.14h-2.14zM605.2 156.6h2.14v2.14h-2.14zM607.2 156.6h2.14v2.14h-2.14zM609.2 156.6h2.14v2.14h-2.14zM611.2 156.6h2.14v2.14h-2.14zM613.2 156.6h2.14v2.14h-2.14zM617.1 156.6h2.14v2.14h-2.14zM621.1 156.6h2.14v2.14h-2.14zM623.1 156.6h2.14v2.14h-2.14zM625.1 156.6h2.14v2.14h-2.14zM627.1 156.6h2.14v2.14h-2.14zM629.1 156.6h2.14v2.14h-2.14zM619.1 158.6h2.14v2.14h-2.14zM631.0 158.6h2.14v2.14h-2.14zM607.2 160.6h2.14v2.14h-2.14zM609.2 160.6h2.14v2.14h-2.14zM611.2 160.6h2.14v2.14h-2.14zM613.2 160.6h2.14v2.14h-2.14zM617.1 160.6h2.14v2.14h-2.14zM621.1 160.6h2.14v2.14h-2.14zM623.1 160.6h2.14v2.14h-2.14zM625.1 160.6h2.14v2.14h-2.14zM627.1 160.6h2.14v2.14h-2.14zM629.1 160.6h2.14v2.14h-2.14zM633.0 160.6h2.14v2.14h-2.14zM615.1 162.6h2.14v2.14h-2.14zM619.1 162.6h2.14v2.14h-2.14zM631.0 162.6h2.14v2.14h-2.14zM635.0 162.6h2.14v2.14h-2.14zM615.1 164.6h2.14v2.14h-2.14zM619.1 164.6h2.14v2.14h-2.14zM631.0 164.6h2.14v2.14h-2.14zM635.0 164.6h2.14v2.14h-2.14zM615.1 166.6h2.14v2.14h-2.14zM619.1 166.6h2.14v2.14h-2.14zM631.0 166.6h2.14v2.14h-2.14zM635.0 166.6h2.14v2.14h-2.14zM605.2 168.6h2.14v2.14h-2.14zM607.2 168.6h2.14v2.14h-2.14zM613.2 168.6h2.14v2.14h-2.14zM619.1 168.6h2.14v2.14h-2.14zM623.1 168.6h2.14v2.14h-2.14zM631.0 168.6h2.14v2.14h-2.14zM635.0 168.6h2.14v2.14h-2.14zM643.0 168.6h2.14v2.14h-2.14zM605.2 170.6h2.14v2.14h-2.14zM607.2 170.6h2.14v2.14h-2.14zM613.2 170.6h2.14v2.14h-2.14zM619.1 170.6h2.14v2.14h-2.14zM627.1 170.6h2.14v2.14h-2.14zM629.1 170.6h2.14v2.14h-2.14zM631.0 170.6h2.14v2.14h-2.14zM635.0 170.6h2.14v2.14h-2.14zM643.0 170.6h2.14v2.14h-2.14zM645.0 170.6h2.14v2.14h-2.14zM615.1 172.6h2.14v2.14h-2.14zM619.1 172.6h2.14v2.14h-2.14zM631.0 172.6h2.14v2.14h-2.14zM635.0 172.6h2.14v2.14h-2.14zM615.1 174.5h2.14v2.14h-2.14zM619.1 174.5h2.14v2.14h-2.14zM631.0 174.5h2.14v2.14h-2.14zM635.0 174.5h2.14v2.14h-2.14zM605.2 176.5h2.14v2.14h-2.14zM615.1 176.5h2.14v2.14h-2.14zM619.1 176.5h2.14v2.14h-2.14zM631.0 176.5h2.14v2.14h-2.14zM635.0 176.5h2.14v2.14h-2.14zM615.1 178.5h2.14v2.14h-2.14zM619.1 178.5h2.14v2.14h-2.14zM631.0 178.5h2.14v2.14h-2.14zM635.0 178.5h2.14v2.14h-2.14zM607.2 180.5h2.14v2.14h-2.14zM609.2 180.5h2.14v2.14h-2.14zM611.2 180.5h2.14v2.14h-2.14zM613.2 180.5h2.14v2.14h-2.14zM617.1 180.5h2.14v2.14h-2.14zM621.1 180.5h2.14v2.14h-2.14zM623.1 180.5h2.14v2.14h-2.14zM625.1 180.5h2.14v2.14h-2.14zM627.1 180.5h2.14v2.14h-2.14zM629.1 180.5h2.14v2.14h-2.14zM633.0 180.5h2.14v2.14h-2.14zM637.0 180.5h2.14v2.14h-2.14zM639.0 180.5h2.14v2.14h-2.14zM641.0 180.5h2.14v2.14h-2.14zM643.0 180.5h2.14v2.14h-2.14zM645.0 180.5h2.14v2.14h-2.14zM647.0 180.5h2.14v2.14h-2.14zM648.9 180.5h2.14v2.14h-2.14zM650.9 180.5h2.14v2.14h-2.14zM652.9 180.5h2.14v2.14h-2.14zM615.1 182.5h2.14v2.14h-2.14zM619.1 182.5h2.14v2.14h-2.14zM631.0 182.5h2.14v2.14h-2.14zM635.0 182.5h2.14v2.14h-2.14zM654.9 182.5h2.14v2.14h-2.14zM615.1 184.5h2.14v2.14h-2.14zM619.1 184.5h2.14v2.14h-2.14zM631.0 184.5h2.14v2.14h-2.14zM635.0 184.5h2.14v2.14h-2.14zM654.9 184.5h2.14v2.14h-2.14zM605.2 186.5h2.14v2.14h-2.14zM607.2 186.5h2.14v2.14h-2.14zM609.2 186.5h2.14v2.14h-2.14zM611.2 186.5h2.14v2.14h-2.14zM613.2 186.5h2.14v2.14h-2.14zM617.1 186.5h2.14v2.14h-2.14zM621.1 186.5h2.14v2.14h-2.14zM623.1 186.5h2.14v2.14h-2.14zM625.1 186.5h2.14v2.14h-2.14zM627.1 186.5h2.14v2.14h-2.14zM629.1 186.5h2.14v2.14h-2.14zM633.0 186.5h2.14v2.14h-2.14zM637.0 186.5h2.14v2.14h-2.14zM639.0 186.5h2.14v2.14h-2.14zM641.0 186.5h2.14v2.14h-2.14zM643.0 186.5h2.14v2.14h-2.14zM645.0 186.5h2.14v2.14h-2.14zM647.0 186.5h2.14v2.14h-2.14zM648.9 186.5h2.14v2.14h-2.14zM650.9 186.5h2.14v2.14h-2.14zM652.9 186.5h2.14v2.14h-2.14zM656.9 186.5h2.14v2.14h-2.14zM658.9 186.5h2.14v2.14h-2.14zM607.2 188.5h2.14v2.14h-2.14zM609.2 188.5h2.14v2.14h-2.14zM611.2 188.5h2.14v2.14h-2.14zM613.2 188.5h2.14v2.14h-2.14zM617.1 188.5h2.14v2.14h-2.14zM621.1 188.5h2.14v2.14h-2.14zM623.1 188.5h2.14v2.14h-2.14zM625.1 188.5h2.14v2.14h-2.14zM627.1 188.5h2.14v2.14h-2.14zM629.1 188.5h2.14v2.14h-2.14zM633.0 188.5h2.14v2.14h-2.14zM637.0 188.5h2.14v2.14h-2.14zM639.0 188.5h2.14v2.14h-2.14zM641.0 188.5h2.14v2.14h-2.14zM643.0 188.5h2.14v2.14h-2.14zM645.0 188.5h2.14v2.14h-2.14zM647.0 188.5h2.14v2.14h-2.14zM648.9 188.5h2.14v2.14h-2.14zM650.9 188.5h2.14v2.14h-2.14zM652.9 188.5h2.14v2.14h-2.14zM656.9 188.5h2.14v2.14h-2.14zM658.9 188.5h2.14v2.14h-2.14zM605.2 190.5h2.14v2.14h-2.14zM607.2 190.5h2.14v2.14h-2.14zM609.2 190.5h2.14v2.14h-2.14zM613.2 190.5h2.14v2.14h-2.14zM617.1 190.5h2.14v2.14h-2.14zM619.1 190.5h2.14v2.14h-2.14zM623.1 190.5h2.14v2.14h-2.14zM627.1 190.5h2.14v2.14h-2.14zM629.1 190.5h2.14v2.14h-2.14zM631.0 190.5h2.14v2.14h-2.14zM633.0 190.5h2.14v2.14h-2.14zM635.0 190.5h2.14v2.14h-2.14zM637.0 190.5h2.14v2.14h-2.14zM641.0 190.5h2.14v2.14h-2.14zM643.0 190.5h2.14v2.14h-2.14zM645.0 190.5h2.14v2.14h-2.14zM647.0 190.5h2.14v2.14h-2.14zM648.9 190.5h2.14v2.14h-2.14zM650.9 190.5h2.14v2.14h-2.14zM662.9 190.5h2.14v2.14h-2.14zM664.9 190.5h2.14v2.14h-2.14zM615.1 192.4h2.14v2.14h-2.14zM619.1 192.4h2.14v2.14h-2.14zM635.0 192.4h2.14v2.14h-2.14zM654.9 192.4h2.14v2.14h-2.14zM660.9 192.4h2.14v2.14h-2.14zM662.9 192.4h2.14v2.14h-2.14zM664.9 192.4h2.14v2.14h-2.14zM615.1 194.4h2.14v2.14h-2.14zM619.1 194.4h2.14v2.14h-2.14zM631.0 194.4h2.14v2.14h-2.14zM635.0 194.4h2.14v2.14h-2.14zM654.9 194.4h2.14v2.14h-2.14zM660.9 194.4h2.14v2.14h-2.14zM662.9 194.4h2.14v2.14h-2.14zM615.1 196.4h2.14v2.14h-2.14zM619.1 196.4h2.14v2.14h-2.14zM631.0 196.4h2.14v2.14h-2.14zM635.0 196.4h2.14v2.14h-2.14zM654.9 196.4h2.14v2.14h-2.14zM660.9 196.4h2.14v2.14h-2.14zM662.9 196.4h2.14v2.14h-2.14zM605.2 198.4h2.14v2.14h-2.14zM607.2 198.4h2.14v2.14h-2.14zM609.2 198.4h2.14v2.14h-2.14zM611.2 198.4h2.14v2.14h-2.14zM613.2 198.4h2.14v2.14h-2.14zM617.1 198.4h2.14v2.14h-2.14zM621.1 198.4h2.14v2.14h-2.14zM623.1 198.4h2.14v2.14h-2.14zM625.1 198.4h2.14v2.14h-2.14zM627.1 198.4h2.14v2.14h-2.14zM629.1 198.4h2.14v2.14h-2.14zM633.0 198.4h2.14v2.14h-2.14zM637.0 198.4h2.14v2.14h-2.14zM639.0 198.4h2.14v2.14h-2.14zM641.0 198.4h2.14v2.14h-2.14zM647.0 198.4h2.14v2.14h-2.14zM648.9 198.4h2.14v2.14h-2.14zM650.9 198.4h2.14v2.14h-2.14zM652.9 198.4h2.14v2.14h-2.14zM656.9 198.4h2.14v2.14h-2.14zM658.9 198.4h2.14v2.14h-2.14zM666.8 198.4h2.14v2.14h-2.14zM668.8 198.4h2.14v2.14h-2.14zM670.8 198.4h2.14v2.14h-2.14zM615.1 200.4h2.14v2.14h-2.14zM619.1 200.4h2.14v2.14h-2.14zM631.0 200.4h2.14v2.14h-2.14zM635.0 200.4h2.14v2.14h-2.14zM654.9 200.4h2.14v2.14h-2.14zM660.9 200.4h2.14v2.14h-2.14zM662.9 200.4h2.14v2.14h-2.14zM672.8 200.4h2.14v2.14h-2.14zM615.1 202.4h2.14v2.14h-2.14zM619.1 202.4h2.14v2.14h-2.14zM631.0 202.4h2.14v2.14h-2.14zM635.0 202.4h2.14v2.14h-2.14zM654.9 202.4h2.14v2.14h-2.14zM660.9 202.4h2.14v2.14h-2.14zM662.9 202.4h2.14v2.14h-2.14zM672.8 202.4h2.14v2.14h-2.14zM615.1 204.4h2.14v2.14h-2.14zM631.0 204.4h2.14v2.14h-2.14zM635.0 204.4h2.14v2.14h-2.14zM654.9 204.4h2.14v2.14h-2.14zM660.9 204.4h2.14v2.14h-2.14zM662.9 204.4h2.14v2.14h-2.14zM672.8 204.4h2.14v2.14h-2.14zM605.2 206.4h2.14v2.14h-2.14zM607.2 206.4h2.14v2.14h-2.14zM609.2 206.4h2.14v2.14h-2.14zM613.2 206.4h2.14v2.14h-2.14zM617.1 206.4h2.14v2.14h-2.14zM619.1 206.4h2.14v2.14h-2.14zM623.1 206.4h2.14v2.14h-2.14zM627.1 206.4h2.14v2.14h-2.14zM629.1 206.4h2.14v2.14h-2.14zM631.0 206.4h2.14v2.14h-2.14zM633.0 206.4h2.14v2.14h-2.14zM635.0 206.4h2.14v2.14h-2.14zM639.0 206.4h2.14v2.14h-2.14zM641.0 206.4h2.14v2.14h-2.14zM643.0 206.4h2.14v2.14h-2.14zM645.0 206.4h2.14v2.14h-2.14zM648.9 206.4h2.14v2.14h-2.14zM652.9 206.4h2.14v2.14h-2.14zM654.9 206.4h2.14v2.14h-2.14zM662.9 206.4h2.14v2.14h-2.14zM664.9 206.4h2.14v2.14h-2.14zM680.8 206.4h2.14v2.14h-2.14zM615.1 208.3h2.14v2.14h-2.14zM619.1 208.3h2.14v2.14h-2.14zM635.0 208.3h2.14v2.14h-2.14zM654.9 208.3h2.14v2.14h-2.14zM660.9 208.3h2.14v2.14h-2.14zM662.9 208.3h2.14v2.14h-2.14zM672.8 208.3h2.14v2.14h-2.14zM680.8 208.3h2.14v2.14h-2.14zM609.2 210.3h2.14v2.14h-2.14zM611.2 210.3h2.14v2.14h-2.14zM617.1 210.3h2.14v2.14h-2.14zM621.1 210.3h2.14v2.14h-2.14zM623.1 210.3h2.14v2.14h-2.14zM625.1 210.3h2.14v2.14h-2.14zM627.1 210.3h2.14v2.14h-2.14zM633.0 210.3h2.14v2.14h-2.14zM637.0 210.3h2.14v2.14h-2.14zM639.0 210.3h2.14v2.14h-2.14zM641.0 210.3h2.14v2.14h-2.14zM647.0 210.3h2.14v2.14h-2.14zM648.9 210.3h2.14v2.14h-2.14zM650.9 210.3h2.14v2.14h-2.14zM652.9 210.3h2.14v2.14h-2.14zM656.9 210.3h2.14v2.14h-2.14zM658.9 210.3h2.14v2.14h-2.14zM666.8 210.3h2.14v2.14h-2.14zM668.8 210.3h2.14v2.14h-2.14zM670.8 210.3h2.14v2.14h-2.14zM674.8 210.3h2.14v2.14h-2.14zM676.8 210.3h2.14v2.14h-2.14zM678.8 210.3h2.14v2.14h-2.14zM682.7 210.3h2.14v2.14h-2.14zM615.1 212.3h2.14v2.14h-2.14zM619.1 212.3h2.14v2.14h-2.14zM631.0 212.3h2.14v2.14h-2.14zM635.0 212.3h2.14v2.14h-2.14zM654.9 212.3h2.14v2.14h-2.14zM660.9 212.3h2.14v2.14h-2.14zM662.9 212.3h2.14v2.14h-2.14zM672.8 212.3h2.14v2.14h-2.14zM684.7 212.3h2.14v2.14h-2.14zM605.2 214.3h2.14v2.14h-2.14zM613.2 214.3h2.14v2.14h-2.14zM619.1 214.3h2.14v2.14h-2.14zM629.1 214.3h2.14v2.14h-2.14zM631.0 214.3h2.14v2.14h-2.14zM635.0 214.3h2.14v2.14h-2.14zM643.0 214.3h2.14v2.14h-2.14zM645.0 214.3h2.14v2.14h-2.14zM654.9 214.3h2.14v2.14h-2.14zM660.9 214.3h2.14v2.14h-2.14zM662.9 214.3h2.14v2.14h-2.14zM664.9 214.3h2.14v2.14h-2.14zM672.8 214.3h2.14v2.14h-2.14zM680.8 214.3h2.14v2.14h-2.14z" fill="rgb(68, 12, 70)"/>
<path d="M607.2 134.8h2.14v2.14h-2.14zM609.2 134.8h2.14v2.14h-2.14zM605.2 136.8h2.14v2.14h-2.14zM607.2 136.8h2.14v2.14h-2.14zM609.2 136.8h2.14v2.14h-2.14zM611.2 136.8h2.14v2.14h-2.14zM609.2 138.8h2.14v2.14h-2.14zM611.2 138.8h2.14v2.14h-2.14zM605.2 142.7h2.14v2.14h-2.14zM607.2 142.7h2.14v2.14h-2.14zM609.2 142.7h2.14v2.14h-2.14zM611.2 142.7h2.14v2.14h-2.14zM613.2 142.7h2.14v2.14h-2.14zM617.1 142.7h2.14v2.14h-2.14zM605.2 146.7h2.14v2.14h-2.14zM607.2 146.7h2.14v2.14h-2.14zM609.2 146.7h2.14v2.14h-2.14zM611.2 146.7h2.14v2.14h-2.14zM613.2 146.7h2.14v2.14h-2.14zM617.1 146.7h2.14v2.14h-2.14zM619.1 146.7h2.14v2.14h-2.14zM621.1 146.7h2.14v2.14h-2.14zM605.2 148.7h2.14v2.14h-2.14zM607.2 148.7h2.14v2.14h-2.14zM609.2 148.7h2.14v2.14h-2.14zM611.2 148.7h2.14v2.14h-2.14zM617.1 148.7h2.14v2.14h-2.14zM621.1 148.7h2.14v2.14h-2.14zM623.1 148.7h2.14v2.14h-2.14zM605.2 150.7h2.14v2.14h-2.14zM607.2 150.7h2.14v2.14h-2.14zM609.2 150.7h2.14v2.14h-2.14zM611.2 150.7h2.14v2.14h-2.14zM613.2 150.7h2.14v2.14h-2.14zM617.1 150.7h2.14v2.14h-2.14zM621.1 150.7h2.14v2.14h-2.14zM623.1 150.7h2.14v2.14h-2.14zM625.1 150.7h2.14v2.14h-2.14zM605.2 152.7h2.14v2.14h-2.14zM607.2 152.7h2.14v2.14h-2.14zM609.2 152.7h2.14v2.14h-2.14zM611.2 152.7h2.14v2.14h-2.14zM613.2 152.7h2.14v2.14h-2.14zM617.1 152.7h2.14v2.14h-2.14zM621.1 152.7h2.14v2.14h-2.14zM623.1 152.7h2.14v2.14h-2.14zM625.1 152.7h2.14v2.14h-2.14zM627.1 152.7h2.14v2.14h-2.14zM607.2 154.7h2.14v2.14h-2.14zM609.2 154.7h2.14v2.14h-2.14zM611.2 154.7h2.14v2.14h-2.14zM613.2 154.7h2.14v2.14h-2.14zM617.1 154.7h2.14v2.14h-2.14zM621.1 154.7h2.14v2.14h-2.14zM623.1 154.7h2.14v2.14h-2.14zM625.1 154.7h2.14v2.14h-2.14zM627.1 154.7h2.14v2.14h-2.14zM629.1 154.7h2.14v2.14h-2.14zM605.2 158.6h2.14v2.14h-2.14zM607.2 158.6h2.14v2.14h-2.14zM609.2 158.6h2.14v2.14h-2.14zM611.2 158.6h2.14v2.14h-2.14zM613.2 158.6h2.14v2.14h-2.14zM617.1 158.6h2.14v2.14h-2.14zM621.1 158.6h2.14v2.14h-2.14zM623.1 158.6h2.14v2.14h-2.14zM625.1 158.6h2.14v2.14h-2.14zM627.1 158.6h2.14v2.14h-2.14zM629.1 158.6h2.14v2.14h-2.14zM633.0 158.6h2.14v2.14h-2.14zM605.2 162.6h2.14v2.14h-2.14zM607.2 162.6h2.14v2.14h-2.14zM609.2 162.6h2.14v2.14h-2.14zM611.2 162.6h2.14v2.14h-2.14zM613.2 162.6h2.14v2.14h-2.14zM617.1 162.6h2.14v2.14h-2.14zM621.1 162.6h2.14v2.14h-2.14zM623.1 162.6h2.14v2.14h-2.14zM625.1 162.6h2.14v2.14h-2.14zM627.1 162.6h2.14v2.14h-2.14zM629.1 162.6h2.14v2.14h-2.14zM633.0 162.6h2.14v2.14h-2.14zM637.0 162.6h2.14v2.14h-2.14zM605.2 164.6h2.14v2.14h-2.14zM607.2 164.6h2.14v2.14h-2.14zM609.2 164.6h2.14v2.14h-2.14zM611.2 164.6h2.14v2.14h-2.14zM613.2 164.6h2.14v2.14h-2.14zM617.1 164.6h2.14v2.14h-2.14zM621.1 164.6h2.14v2.14h-2.14zM623.1 164.6h2.14v2.14h-2.14zM625.1 164.6h2.14v2.14h-2.14zM627.1 164.6h2.14v2.14h-2.14zM629.1 164.6h2.14v2.14h-2.14zM633.0 164.6h2.14v2.14h-2.14zM637.0 164.6h2.14v2.14h-2.14zM605.2 166.6h2.14v2.14h-2.14zM607.2 166.6h2.14v2.14h-2.14zM609.2 166.6h2.14v2.14h-2.14zM611.2 166.6h2.14v2.14h-2.14zM613.2 166.6h2.14v2.14h-2.14zM617.1 166.6h2.14v2.14h-2.14zM621.1 166.6h2.14v2.14h-2.14zM623.1 166.6h2.14v2.14h-2.14zM625.1 166.6h2.14v2.14h-2.14zM627.1 166.6h2.14v2.14h-2.14zM629.1 166.6h2.14v2.14h-2.14zM633.0 166.6h2.14v2.14h-2.14zM637.0 166.6h2.14v2.14h-2.14zM639.0 166.6h2.14v2.14h-2.14zM641.0 166.6h2.14v2.14h-2.14zM609.2 168.6h2.14v2.14h-2.14zM611.2 168.6h2.14v2.14h-2.14zM617.1 168.6h2.14v2.14h-2.14zM621.1 168.6h2.14v2.14h-2.14zM625.1 168.6h2.14v2.14h-2.14zM627.1 168.6h2.14v2.14h-2.14zM629.1 168.6h2.14v2.14h-2.14zM633.0 168.6h2.14v2.14h-2.14zM637.0 168.6h2.14v2.14h-2.14zM639.0 168.6h2.14v2.14h-2.14zM641.0 168.6h2.14v2.14h-2.14zM609.2 170.6h2.14v2.14h-2.14zM611.2 170.6h2.14v2.14h-2.14zM617.1 170.6h2.14v2.14h-2.14zM621.1 170.6h2.14v2.14h-2.14zM623.1 170.6h2.14v2.14h-2.14zM625.1 170.6h2.14v2.14h-2.14zM633.0 170.6h2.14v2.14h-2.14zM637.0 170.6h2.14v2.14h-2.14zM639.0 170.6h2.14v2.14h-2.14zM641.0 170.6h2.14v2.14h-2.14zM605.2 172.6h2.14v2.14h-2.14zM607.2 172.6h2.14v2.14h-2.14zM609.2 172.6h2.14v2.14h-2.14zM611.2 172.6h2.14v2.14h-2.14zM613.2 172.6h2.14v2.14h-2.14zM617.1 172.6h2.14v2.14h-2.14zM621.1 172.6h2.14v2.14h-2.14zM623.1 172.6h2.14v2.14h-2.14zM625.1 172.6h2.14v2.14h-2.14zM627.1 172.6h2.14v2.14h-2.14zM629.1 172.6h2.14v2.14h-2.14zM633.0 172.6h2.14v2.14h-2.14zM637.0 172.6h2.14v2.14h-2.14zM639.0 172.6h2.14v2.14h-2.14zM641.0 172.6h2.14v2.14h-2.14zM643.0 172.6h2.14v2.14h-2.14zM645.0 172.6h2.14v2.14h-2.14zM605.2 174.5h2.14v2.14h-2.14zM607.2 174.5h2.14v2.14h-2.14zM609.2 174.5h2.14v2.14h-2.14zM611.2 174.5h2.14v2.14h-2.14zM613.2 174.5h2.14v2.14h-2.14zM617.1 174.5h2.14v2.14h-2.14zM621.1 174.5h2.14v2.14h-2.14zM623.1 174.5h2.14v2.14h-2.14zM625.1 174.5h2.14v2.14h-2.14zM627.1 174.5h2.14v2.14h-2.14zM629.1 174.5h2.14v2.14h-2.14zM633.0 174.5h2.14v2.14h-2.14zM637.0 174.5h2.14v2.14h-2.14zM639.0 174.5h2.14v2.14h-2.14zM641.0 174.5h2.14v2.14h-2.14zM643.0 174.5h2.14v2.14h-2.14zM645.0 174.5h2.14v2.14h-2.14zM648.9 174.5h2.14v2.14h-2.14zM607.2 176.5h2.14v2.14h-2.14zM609.2 176.5h2.14v2.14h-2.14zM611.2 176.5h2.14v2.14h-2.14zM613.2 176.5h2.14v2.14h-2.14zM617.1 176.5h2.14v2.14h-2.14zM621.1 176.5h2.14v2.14h-2.14zM623.1 176.5h2.14v2.14h-2.14zM625.1 176.5h2.14v2.14h-2.14zM627.1 176.5h2.14v2.14h-2.14zM629.1 176.5h2.14v2.14h-2.14zM633.0 176.5h2.14v2.14h-2.14zM637.0 176.5h2.14v2.14h-2.14zM639.0 176.5h2.14v2.14h-2.14zM641.0 176.5h2.14v2.14h-2.14zM643.0 176.5h2.14v2.14h-2.14zM645.0 176.5h2.14v2.14h-2.14zM647.0 176.5h2.14v2.14h-2.14zM648.9 176.5h2.14v2.14h-2.14zM650.9 176.5h2.14v2.14h-2.14zM605.2 178.5h2.14v2.14h-2.14zM607.2 178.5h2.14v2.14h-2.14zM609.2 178.5h2.14v2.14h-2.14zM611.2 178.5h2.14v2.14h-2.14zM613.2 178.5h2.14v2.14h-2.14zM617.1 178.5h2.14v2.14h-2.14zM621.1 178.5h2.14v2.14h-2.14zM623.1 178.5h2.14v2.14h-2.14zM625.1 178.5h2.14v2.14h-2.14zM627.1 178.5h2.14v2.14h-2.14zM629.1 178.5h2.14v2.14h-2.14zM633.0 178.5h2.14v2.14h-2.14zM637.0 178.5h2.14v2.14h-2.14zM639.0 178.5h2.14v2.14h-2.14zM641.0 178.5h2.14v2.14h-2.14zM643.0 178.5h2.14v2.14h-2.14zM645.0 178.5h2.14v2.14h-2.14zM647.0 178.5h2.14v2.14h-2.14zM648.9 178.5h2.14v2.14h-2.14zM650.9 178.5h2.14v2.14h-2.14zM652.9 178.5h2.14v2.14h-2.14zM605.2 182.5h2.14v2.14h-2.14zM607.2 182.5h2.14v2.14h-2.14zM609.2 182.5h2.14v2.14h-2.14zM611.2 182.5h2.14v2.14h-2.14zM613.2 182.5h2.14v2.14h-2.14zM617.1 182.5h2.14v2.14h-2.14zM621.1 182.5h2.14v2.14h-2.14zM623.1 182.5h2.14v2.14h-2.14zM625.1 182.5h2.14v2.14h-2.14zM627.1 182.5h2.14v2.14h-2.14zM629.1 182.5h2.14v2.14h-2.14zM633.0 182.5h2.14v2.14h-2.14zM637.0 182.5h2.14v2.14h-2.14zM639.0 182.5h2.14v2.14h-2.14zM641.0 182.5h2.14v2.14h-2.14zM643.0 182.5h2.14v2.14h-2.14zM645.0 182.5h2.14v2.14h-2.14zM647.0 182.5h2.14v2.14h-2.14zM648.9 182.5h2.14v2.14h-2.14zM650.9 182.5h2.14v2.14h-2.14zM652.9 182.5h2.14v2.14h-2.14zM656.9 182.5h2.14v2.14h-2.14zM605.2 184.5h2.14v2.14h-2.14zM607.2 184.5h2.14v2.14h-2.14zM609.2 184.5h2.14v2.14h-2.14zM613.2 184.5h2.14v2.14h-2.14zM617.1 184.5h2.14v2.14h-2.14zM621.1 184.5h2.14v2.14h-2.14zM623.1 184.5h2.14v2.14h-2.14zM625.1 184.5h2.14v2.14h-2.14zM627.1 184.5h2.14v2.14h-2.14zM629.1 184.5h2.14v2.14h-2.14zM633.0 184.5h2.14v2.14h-2.14zM637.0 184.5h2.14v2.14h-2.14zM641.0 184.5h2.14v2.14h-2.14zM643.0 184.5h2.14v2.14h-2.14zM645.0 184.5h2.14v2.14h-2.14zM647.0 184.5h2.14v2.14h-2.14zM648.9 184.5h2.14v2.14h-2.14zM650.9 184.5h2.14v2.14h-2.14zM652.9 184.5h2.14v2.14h-2.14zM656.9 184.5h2.14v2.14h-2.14zM611.2 190.5h2.14v2.14h-2.14zM621.1 190.5h2.14v2.14h-2.14zM625.1 190.5h2.14v2.14h-2.14zM639.0 190.5h2.14v2.14h-2.14zM652.9 190.5h2.14v2.14h-2.14zM656.9 190.5h2.14v2.14h-2.14zM658.9 190.5h2.14v2.14h-2.14zM605.2 192.4h2.14v2.14h-2.14zM607.2 192.4h2.14v2.14h-2.14zM609.2 192.4h2.14v2.14h-2.14zM611.2 192.4h2.14v2.14h-2.14zM613.2 192.4h2.14v2.14h-2.14zM617.1 192.4h2.14v2.14h-2.14zM621.1 192.4h2.14v2.14h-2.14zM623.1 192.4h2.14v2.14h-2.14zM625.1 192.4h2.14v2.14h-2.14zM627.1 192.4h2.14v2.14h-2.14zM629.1 192.4h2.14v2.14h-2.14zM631.0 192.4h2.14v2.14h-2.14zM633.0 192.4h2.14v2.14h-2.14zM641.0 192.4h2.14v2.14h-2.14zM643.0 192.4h2.14v2.14h-2.14zM645.0 192.4h2.14v2.14h-2.14zM647.0 192.4h2.14v2.14h-2.14zM648.9 192.4h2.14v2.14h-2.14zM650.9 192.4h2.14v2.14h-2.14zM652.9 192.4h2.14v2.14h-2.14zM656.9 192.4h2.14v2.14h-2.14zM658.9 192.4h2.14v2.14h-2.14zM666.8 192.4h2.14v2.14h-2.14zM605.2 194.4h2.14v2.14h-2.14zM607.2 194.4h2.14v2.14h-2.14zM609.2 194.4h2.14v2.14h-2.14zM611.2 194.4h2.14v2.14h-2.14zM613.2 194.4h2.14v2.14h-2.14zM617.1 194.4h2.14v2.14h-2.14zM621.1 194.4h2.14v2.14h-2.14zM623.1 194.4h2.14v2.14h-2.14zM627.1 194.4h2.14v2.14h-2.14zM629.1 194.4h2.14v2.14h-2.14zM633.0 194.4h2.14v2.14h-2.14zM637.0 194.4h2.14v2.14h-2.14zM639.0 194.4h2.14v2.14h-2.14zM641.0 194.4h2.14v2.14h-2.14zM643.0 194.4h2.14v2.14h-2.14zM645.0 194.4h2.14v2.14h-2.14zM647.0 194.4h2.14v2.14h-2.14zM648.9 194.4h2.14v2.14h-2.14zM650.9 194.4h2.14v2.14h-2.14zM652.9 194.4h2.14v2.14h-2.14zM656.9 194.4h2.14v2.14h-2.14zM658.9 194.4h2.14v2.14h-2.14zM664.9 194.4h2.14v2.14h-2.14zM666.8 194.4h2.14v2.14h-2.14zM668.8 194.4h2.14v2.14h-2.14zM605.2 196.4h2.14v2.14h-2.14zM607.2 196.4h2.14v2.14h-2.14zM609.2 196.4h2.14v2.14h-2.14zM613.2 196.4h2.14v2.14h-2.14zM617.1 196.4h2.14v2.14h-2.14zM621.1 196.4h2.14v2.14h-2.14zM623.1 196.4h2.14v2.14h-2.14zM627.1 196.4h2.14v2.14h-2.14zM629.1 196.4h2.14v2.14h-2.14zM633.0 196.4h2.14v2.14h-2.14zM637.0 196.4h2.14v2.14h-2.14zM639.0 196.4h2.14v2.14h-2.14zM641.0 196.4h2.14v2.14h-2.14zM643.0 196.4h2.14v2.14h-2.14zM645.0 196.4h2.14v2.14h-2.14zM647.0 196.4h2.14v2.14h-2.14zM648.9 196.4h2.14v2.14h-2.14zM650.9 196.4h2.14v2.14h-2.14zM652.9 196.4h2.14v2.14h-2.14zM656.9 196.4h2.14v2.14h-2.14zM658.9 196.4h2.14v2.14h-2.14zM664.9 196.4h2.14v2.14h-2.14zM666.8 196.4h2.14v2.14h-2.14zM668.8 196.4h2.14v2.14h-2.14zM670.8 196.4h2.14v2.14h-2.14zM605.2 200.4h2.14v2.14h-2.14zM607.2 200.4h2.14v2.14h-2.14zM609.2 200.4h2.14v2.14h-2.14zM611.2 200.4h2.14v2.14h-2.14zM613.2 200.4h2.14v2.14h-2.14zM617.1 200.4h2.14v2.14h-2.14zM621.1 200.4h2.14v2.14h-2.14zM623.1 200.4h2.14v2.14h-2.14zM625.1 200.4h2.14v2.14h-2.14zM627.1 200.4h2.14v2.14h-2.14zM629.1 200.4h2.14v2.14h-2.14zM633.0 200.4h2.14v2.14h-2.14zM637.0 200.4h2.14v2.14h-2.14zM641.0 200.4h2.14v2.14h-2.14zM643.0 200.4h2.14v2.14h-2.14zM645.0 200.4h2.14v2.14h-2.14zM647.0 200.4h2.14v2.14h-2.14zM648.9 200.4h2.14v2.14h-2.14zM652.9 200.4h2.14v2.14h-2.14zM656.9 200.4h2.14v2.14h-2.14zM658.9 200.4h2.14v2.14h-2.14zM664.9 200.4h2.14v2.14h-2.14zM666.8 200.4h2.14v2.14h-2.14zM668.8 200.4h2.14v2.14h-2.14zM670.8 200.4h2.14v2.14h-2.14zM674.8 200.4h2.14v2.14h-2.14zM605.2 202.4h2.14v2.14h-2.14zM607.2 202.4h2.14v2.14h-2.14zM609.2 202.4h2.14v2.14h-2.14zM611.2 202.4h2.14v2.14h-2.14zM613.2 202.4h2.14v2.14h-2.14zM617.1 202.4h2.14v2.14h-2.14zM621.1 202.4h2.14v2.14h-2.14zM623.1 202.4h2.14v2.14h-2.14zM625.1 202.4h2.14v2.14h-2.14zM627.1 202.4h2.14v2.14h-2.14zM629.1 202.4h2.14v2.14h-2.14zM633.0 202.4h2.14v2.14h-2.14zM637.0 202.4h2.14v2.14h-2.14zM639.0 202.4h2.14v2.14h-2.14zM641.0 202.4h2.14v2.14h-2.14zM643.0 202.4h2.14v2.14h-2.14zM645.0 202.4h2.14v2.14h-2.14zM647.0 202.4h2.14v2.14h-2.14zM648.9 202.4h2.14v2.14h-2.14zM650.9 202.4h2.14v2.14h-2.14zM652.9 202.4h2.14v2.14h-2.14zM656.9 202.4h2.14v2.14h-2.14zM658.9 202.4h2.14v2.14h-2.14zM664.9 202.4h2.14v2.14h-2.14zM666.8 202.4h2.14v2.14h-2.14zM668.8 202.4h2.14v2.14h-2.14zM670.8 202.4h2.14v2.14h-2.14zM676.8 202.4h2.14v2.14h-2.14zM605.2 204.4h2.14v2.14h-2.14zM607.2 204.4h2.14v2.14h-2.14zM609.2 204.4h2.14v2.14h-2.14zM611.2 204.4h2.14v2.14h-2.14zM613.2 204.4h2.14v2.14h-2.14zM617.1 204.4h2.14v2.14h-2.14zM619.1 204.4h2.14v2.14h-2.14zM623.1 204.4h2.14v2.14h-2.14zM625.1 204.4h2.14v2.14h-2.14zM627.1 204.4h2.14v2.14h-2.14zM629.1 204.4h2.14v2.14h-2.14zM633.0 204.4h2.14v2.14h-2.14zM637.0 204.4h2.14v2.14h-2.14zM639.0 204.4h2.14v2.14h-2.14zM641.0 204.4h2.14v2.14h-2.14zM643.0 204.4h2.14v2.14h-2.14zM645.0 204.4h2.14v2.14h-2.14zM650.9 204.4h2.14v2.14h-2.14zM652.9 204.4h2.14v2.14h-2.14zM656.9 204.4h2.14v2.14h-2.14zM658.9 204.4h2.14v2.14h-2.14zM664.9 204.4h2.14v2.14h-2.14zM666.8 204.4h2.14v2.14h-2.14zM668.8 204.4h2.14v2.14h-2.14zM670.8 204.4h2.14v2.14h-2.14zM674.8 204.4h2.14v2.14h-2.14zM676.8 204.4h2.14v2.14h-2.14zM678.8 204.4h2.14v2.14h-2.14zM611.2 206.4h2.14v2.14h-2.14zM621.1 206.4h2.14v2.14h-2.14zM625.1 206.4h2.14v2.14h-2.14zM637.0 206.4h2.14v2.14h-2.14zM647.0 206.4h2.14v2.14h-2.14zM650.9 206.4h2.14v2.14h-2.14zM656.9 206.4h2.14v2.14h-2.14zM658.9 206.4h2.14v2.14h-2.14zM666.8 206.4h2.14v2.14h-2.14zM668.8 206.4h2.14v2.14h-2.14zM670.8 206.4h2.14v2.14h-2.14zM674.8 206.4h2.14v2.14h-2.14zM676.8 206.4h2.14v2.14h-2.14zM678.8 206.4h2.14v2.14h-2.14zM605.2 208.3h2.14v2.14h-2.14zM607.2 208.3h2.14v2.14h-2.14zM609.2 208.3h2.14v2.14h-2.14zM611.2 208.3h2.14v2.14h-2.14zM613.2 208.3h2.14v2.14h-2.14zM617.1 208.3h2.14v2.14h-2.14zM623.1 208.3h2.14v2.14h-2.14zM625.1 208.3h2.14v2.14h-2.14zM627.1 208.3h2.14v2.14h-2.14zM629.1 208.3h2.14v2.14h-2.14zM631.0 208.3h2.14v2.14h-2.14zM633.0 208.3h2.14v2.14h-2.14zM637.0 208.3h2.14v2.14h-2.14zM639.0 208.3h2.14v2.14h-2.14zM641.0 208.3h2.14v2.14h-2.14zM643.0 208.3h2.14v2.14h-2.14zM645.0 208.3h2.14v2.14h-2.14zM647.0 208.3h2.14v2.14h-2.14zM648.9 208.3h2.14v2.14h-2.14zM650.9 208.3h2.14v2.14h-2.14zM652.9 208.3h2.14v2.14h-2.14zM656.9 208.3h2.14v2.14h-2.14zM658.9 208.3h2.14v2.14h-2.14zM664.9 208.3h2.14v2.14h-2.14zM666.8 208.3h2.14v2.14h-2.14zM668.8 208.3h2.14v2.14h-2.14zM676.8 208.3h2.14v2.14h-2.14zM678.8 208.3h2.14v2.14h-2.14zM682.7 208.3h2.14v2.14h-2.14zM605.2 212.3h2.14v2.14h-2.14zM607.2 212.3h2.14v2.14h-2.14zM609.2 212.3h2.14v2.14h-2.14zM611.2 212.3h2.14v2.14h-2.14zM613.2 212.3h2.14v2.14h-2.14zM617.1 212.3h2.14v2.14h-2.14zM623.1 212.3h2.14v2.14h-2.14zM625.1 212.3h2.14v2.14h-2.14zM627.1 212.3h2.14v2.14h-2.14zM629.1 212.3h2.14v2.14h-2.14zM633.0 212.3h2.14v2.14h-2.14zM637.0 212.3h2.14v2.14h-2.14zM639.0 212.3h2.14v2.14h-2.14zM641.0 212.3h2.14v2.14h-2.14zM643.0 212.3h2.14v2.14h-2.14zM645.0 212.3h2.14v2.14h-2.14zM647.0 212.3h2.14v2.14h-2.14zM648.9 212.3h2.14v2.14h-2.14zM650.9 212.3h2.14v2.14h-2.14zM652.9 212.3h2.14v2.14h-2.14zM656.9 212.3h2.14v2.14h-2.14zM658.9 212.3h2.14v2.14h-2.14zM664.9 212.3h2.14v2.14h-2.14zM666.8 212.3h2.14v2.14h-2.14zM668.8 212.3h2.14v2.14h-2.14zM670.8 212.3h2.14v2.14h-2.14zM674.8 212.3h2.14v2.14h-2.14zM676.8 212.3h2.14v2.14h-2.14zM678.8 212.3h2.14v2.14h-2.14zM680.8 212.3h2.14v2.14h-2.14zM682.7 212.3h2.14v2.14h-2.14zM686.7 212.3h2.14v2.14h-2.14zM607.2 214.3h2.14v2.14h-2.14zM609.2 214.3h2.14v2.14h-2.14zM611.2 214.3h2.14v2.14h-2.14zM617.1 214.3h2.14v2.14h-2.14zM621.1 214.3h2.14v2.14h-2.14zM623.1 214.3h2.14v2.14h-2.14zM625.1 214.3h2.14v2.14h-2.14zM627.1 214.3h2.14v2.14h-2.14zM633.0 214.3h2.14v2.14h-2.14zM637.0 214.3h2.14v2.14h-2.14zM639.0 214.3h2.14v2.14h-2.14zM641.0 214.3h2.14v2.14h-2.14zM647.0 214.3h2.14v2.14h-2.14zM648.9 214.3h2.14v2.14h-2.14zM650.9 214.3h2.14v2.14h-2.14zM652.9 214.3h2.14v2.14h-2.14zM656.9 214.3h2.14v2.14h-2.14zM658.9 214.3h2.14v2.14h-2.14zM666.8 214.3h2.14v2.14h-2.14zM668.8 214.3h2.14v2.14h-2.14zM670.8 214.3h2.14v2.14h-2.14zM674.8 214.3h2.14v2.14h-2.14zM676.8 214.3h2.14v2.14h-2.14zM678.8 214.3h2.14v2.14h-2.14zM682.7 214.3h2.14v2.14h-2.14zM686.7 214.3h2.14v2.14h-2.14zM688.7 214.3h2.14v2.14h-2.14z" fill="rgb(48, 8, 50)"/>
<path d="M605.2 140.7h2.14v2.14h-2.14zM607.2 140.7h2.14v2.14h-2.14zM613.2 140.7h2.14v2.14h-2.14zM605.2 144.7h2.14v2.14h-2.14zM615.1 144.7h2.14v2.14h-2.14zM619.1 144.7h2.14v2.14h-2.14zM615.1 156.6h2.14v2.14h-2.14zM619.1 156.6h2.14v2.14h-2.14zM631.0 156.6h2.14v2.14h-2.14zM615.1 158.6h2.14v2.14h-2.14zM605.2 160.6h2.14v2.14h-2.14zM615.1 160.6h2.14v2.14h-2.14zM619.1 160.6h2.14v2.14h-2.14zM631.0 160.6h2.14v2.14h-2.14zM635.0 160.6h2.14v2.14h-2.14zM615.1 168.6h2.14v2.14h-2.14zM615.1 170.6h2.14v2.14h-2.14zM605.2 180.5h2.14v2.14h-2.14zM615.1 180.5h2.14v2.14h-2.14zM619.1 180.5h2.14v2.14h-2.14zM631.0 180.5h2.14v2.14h-2.14zM635.0 180.5h2.14v2.14h-2.14zM654.9 180.5h2.14v2.14h-2.14zM619.1 186.5h2.14v2.14h-2.14zM631.0 186.5h2.14v2.14h-2.14zM635.0 186.5h2.14v2.14h-2.14zM654.9 186.5h2.14v2.14h-2.14zM660.9 186.5h2.14v2.14h-2.14zM605.2 188.5h2.14v2.14h-2.14zM615.1 188.5h2.14v2.14h-2.14zM619.1 188.5h2.14v2.14h-2.14zM631.0 188.5h2.14v2.14h-2.14zM635.0 188.5h2.14v2.14h-2.14zM654.9 188.5h2.14v2.14h-2.14zM660.9 188.5h2.14v2.14h-2.14zM662.9 188.5h2.14v2.14h-2.14zM615.1 190.5h2.14v2.14h-2.14zM654.9 190.5h2.14v2.14h-2.14zM660.9 190.5h2.14v2.14h-2.14zM619.1 198.4h2.14v2.14h-2.14zM631.0 198.4h2.14v2.14h-2.14zM635.0 198.4h2.14v2.14h-2.14zM643.0 198.4h2.14v2.14h-2.14zM645.0 198.4h2.14v2.14h-2.14zM654.9 198.4h2.14v2.14h-2.14zM660.9 198.4h2.14v2.14h-2.14zM662.9 198.4h2.14v2.14h-2.14zM664.9 198.4h2.14v2.14h-2.14zM672.8 198.4h2.14v2.14h-2.14zM615.1 206.4h2.14v2.14h-2.14zM660.9 206.4h2.14v2.14h-2.14zM672.8 206.4h2.14v2.14h-2.14zM605.2 210.3h2.14v2.14h-2.14zM607.2 210.3h2.14v2.14h-2.14zM613.2 210.3h2.14v2.14h-2.14zM619.1 210.3h2.14v2.14h-2.14zM629.1 210.3h2.14v2.14h-2.14zM631.0 210.3h2.14v2.14h-2.14zM635.0 210.3h2.14v2.14h-2.14zM643.0 210.3h2.14v2.14h-2.14zM645.0 210.3h2.14v2.14h-2.14zM654.9 210.3h2.14v2.14h-2.14zM660.9 210.3h2.14v2.14h-2.14zM662.9 210.3h2.14v2.14h-2.14zM664.9 210.3h2.14v2.14h-2.14zM680.8 210.3h2.14v2.14h-2.14zM615.1 214.3h2.14v2.14h-2.14zM684.7 214.3h2.14v2.14h-2.14z" fill="rgb(88, 17, 90)"/>
<path d="M615.1 140.7h2.14v2.14h-2.14zM615.1 186.5h2.14v2.14h-2.14zM615.1 198.4h2.14v2.14h-2.14zM615.1 210.3h2.14v2.14h-2.14zM672.8 210.3h2.14v2.14h-2.14zM684.7 210.3h2.14v2.14h-2.14z" fill="rgb(109, 21, 110)"/>
<path d="M639.0 164.6h2.14v2.14h-2.14zM647.0 172.6h2.14v2.14h-2.14zM647.0 174.5h2.14v2.14h-2.14zM611.2 184.5h2.14v2.14h-2.14zM639.0 184.5h2.14v2.14h-2.14zM658.9 184.5h2.14v2.14h-2.14zM637.0 192.4h2.14v2.14h-2.14zM639.0 192.4h2.14v2.14h-2.14zM625.1 194.4h2.14v2.14h-2.14zM611.2 196.4h2.14v2.14h-2.14zM625.1 196.4h2.14v2.14h-2.14zM639.0 200.4h2.14v2.14h-2.14zM650.9 200.4h2.14v2.14h-2.14zM674.8 202.4h2.14v2.14h-2.14zM621.1 204.4h2.14v2.14h-2.14zM647.0 204.4h2.14v2.14h-2.14zM648.9 204.4h2.14v2.14h-2.14zM621.1 208.3h2.14v2.14h-2.14zM670.8 208.3h2.14v2.14h-2.14zM674.8 208.3h2.14v2.14h-2.14zM621.1 212.3h2.14v2.14h-2.14z" fill="rgb(28, 4, 30)"/>
</g>
<rect x="605.2" y="130.8" width="85.5" height="85.5" fill="none" stroke="#2b2b2b" stroke-width="2"/>
<clipPath id="pc303"><polygon points="606.2,232.2 606.2,315.7 689.7,315.7"/></clipPath>
<g clip-path="url(#pc303)">
<rect x="604.2" y="230.2" width="87.5" height="87.5" fill="rgb(167, 6, 166)"/>
<path d="M605.2 231.2h2.14v2.14h-2.14zM605.2 233.2h2.14v2.14h-2.14zM607.2 233.2h2.14v2.14h-2.14zM607.2 237.2h2.14v2.14h-2.14zM605.2 239.2h2.14v2.14h-2.14zM607.2 239.2h2.14v2.14h-2.14zM613.2 239.2h2.14v2.14h-2.14zM605.2 243.1h2.14v2.14h-2.14zM607.2 243.1h2.14v2.14h-2.14zM617.1 243.1h2.14v2.14h-2.14zM607.2 247.1h2.14v2.14h-2.14zM617.1 247.1h2.14v2.14h-2.14zM605.2 257.0h2.14v2.14h-2.14zM607.2 257.0h2.14v2.14h-2.14zM617.1 257.0h2.14v2.14h-2.14zM605.2 263.0h2.14v2.14h-2.14zM607.2 263.0h2.14v2.14h-2.14zM613.2 263.0h2.14v2.14h-2.14zM617.1 263.0h2.14v2.14h-2.14zM621.1 263.0h2.14v2.14h-2.14zM631.0 263.0h2.14v2.14h-2.14zM637.0 263.0h2.14v2.14h-2.14zM605.2 273.0h2.14v2.14h-2.14zM607.2 273.0h2.14v2.14h-2.14zM613.2 273.0h2.14v2.14h-2.14zM617.1 273.0h2.14v2.14h-2.14zM621.1 273.0h2.14v2.14h-2.14zM631.0 273.0h2.14v2.14h-2.14zM637.0 273.0h2.14v2.14h-2.14zM647.0 273.0h2.14v2.14h-2.14zM605.2 274.9h2.14v2.14h-2.14zM607.2 274.9h2.14v2.14h-2.14zM631.0 274.9h2.14v2.14h-2.14zM607.2 278.9h2.14v2.14h-2.14zM613.2 278.9h2.14v2.14h-2.14zM605.2 286.9h2.14v2.14h-2.14zM607.2 286.9h2.14v2.14h-2.14zM613.2 286.9h2.14v2.14h-2.14zM617.1 286.9h2.14v2.14h-2.14zM631.0 286.9h2.14v2.14h-2.14zM637.0 286.9h2.14v2.14h-2.14zM647.0 286.9h2.14v2.14h-2.14zM648.9 286.9h2.14v2.14h-2.14zM652.9 286.9h2.14v2.14h-2.14zM660.9 286.9h2.14v2.14h-2.14zM605.2 288.9h2.14v2.14h-2.14zM607.2 288.9h2.14v2.14h-2.14zM611.2 288.9h2.14v2.14h-2.14zM613.2 288.9h2.14v2.14h-2.14zM617.1 288.9h2.14v2.14h-2.14zM621.1 288.9h2.14v2.14h-2.14zM631.0 288.9h2.14v2.14h-2.14zM637.0 288.9h2.14v2.14h-2.14zM647.0 288.9h2.14v2.14h-2.14zM648.9 288.9h2.14v2.14h-2.14zM652.9 288.9h2.14v2.14h-2.14zM660.9 288.9h2.14v2.14h-2.14zM662.9 288.9h2.14v2.14h-2.14zM607.2 290.9h2.14v2.14h-2.14zM605.2 292.8h2.14v2.14h-2.14zM607.2 292.8h2.14v2.14h-2.14zM613.2 292.8h2.14v2.14h-2.14zM617.1 292.8h2.14v2.14h-2.14zM631.0 292.8h2.14v2.14h-2.14zM647.0 292.8h2.14v2.14h-2.14zM648.9 292.8h2.14v2.14h-2.14zM652.9 292.8h2.14v2.14h-2.14zM660.9 292.8h2.14v2.14h-2.14zM662.9 292.8h2.14v2.14h-2.14zM666.8 292.8h2.14v2.14h-2.14zM605.2 298.8h2.14v2.14h-2.14zM607.2 298.8h2.14v2.14h-2.14zM631.0 298.8h2.14v2.14h-2.14zM647.0 298.8h2.14v2.14h-2.14zM660.9 298.8h2.14v2.14h-2.14zM662.9 298.8h2.14v2.14h-2.14zM666.8 298.8h2.14v2.14h-2.14zM605.2 300.8h2.14v2.14h-2.14zM607.2 300.8h2.14v2.14h-2.14zM611.2 300.8h2.14v2.14h-2.14zM613.2 300.8h2.14v2.14h-2.14zM631.0 300.8h2.14v2.14h-2.14zM637.0 300.8h2.14v2.14h-2.14zM647.0 300.8h2.14v2.14h-2.14zM652.9 300.8h2.14v2.14h-2.14zM660.9 300.8h2.14v2.14h-2.14zM662.9 300.8h2.14v2.14h-2.14zM674.8 300.8h2.14v2.14h-2.14zM607.2 302.8h2.14v2.14h-2.14zM637.0 302.8h2.14v2.14h-2.14zM605.2 306.8h2.14v2.14h-2.14zM607.2 306.8h2.14v2.14h-2.14zM637.0 306.8h2.14v2.14h-2.14zM660.9 306.8h2.14v2.14h-2.14zM662.9 306.8h2.14v2.14h-2.14zM674.8 306.8h2.14v2.14h-2.14zM605.2 310.7h2.14v2.14h-2.14zM607.2 310.7h2.14v2.14h-2.14zM613.2 310.7h2.14v2.14h-2.14zM617.1 310.7h2.14v2.14h-2.14zM621.1 310.7h2.14v2.14h-2.14zM631.0 310.7h2.14v2.14h-2.14zM637.0 310.7h2.14v2.14h-2.14zM647.0 310.7h2.14v2.14h-2.14zM648.9 310.7h2.14v2.14h-2.14zM652.9 310.7h2.14v2.14h-2.14zM660.9 310.7h2.14v2.14h-2.14zM662.9 310.7h2.14v2.14h-2.14zM664.9 310.7h2.14v2.14h-2.14zM666.8 310.7h2.14v2.14h-2.14zM672.8 310.7h2.14v2.14h-2.14zM674.8 310.7h2.14v2.14h-2.14zM680.8 310.7h2.14v2.14h-2.14zM684.7 310.7h2.14v2.14h-2.14z" fill="rgb(255, 10, 250)"/>
<path d="M605.2 235.2h2.14v2.14h-2.14zM607.2 235.2h2.14v2.14h-2.14zM605.2 241.1h2.14v2.14h-2.14zM607.2 241.1h2.14v2.14h-2.14zM613.2 241.1h2.14v2.14h-2.14zM609.2 243.1h2.14v2.14h-2.14zM605.2 249.1h2.14v2.14h-2.14zM607.2 249.1h2.14v2.14h-2.14zM611.2 249.1h2.14v2.14h-2.14zM613.2 249.1h2.14v2.14h-2.14zM617.1 249.1h2.14v2.14h-2.14zM619.1 249.1h2.14v2.14h-2.14zM621.1 249.1h2.14v2.14h-2.14zM605.2 251.1h2.14v2.14h-2.14zM607.2 251.1h2.14v2.14h-2.14zM617.1 251.1h2.14v2.14h-2.14zM621.1 251.1h2.14v2.14h-2.14zM605.2 253.1h2.14v2.14h-2.14zM607.2 253.1h2.14v2.14h-2.14zM613.2 253.1h2.14v2.14h-2.14zM621.1 253.1h2.14v2.14h-2.14zM609.2 257.0h2.14v2.14h-2.14zM623.1 257.0h2.14v2.14h-2.14zM605.2 259.0h2.14v2.14h-2.14zM607.2 259.0h2.14v2.14h-2.14zM611.2 259.0h2.14v2.14h-2.14zM613.2 259.0h2.14v2.14h-2.14zM617.1 259.0h2.14v2.14h-2.14zM619.1 259.0h2.14v2.14h-2.14zM621.1 259.0h2.14v2.14h-2.14zM629.1 259.0h2.14v2.14h-2.14zM631.0 259.0h2.14v2.14h-2.14zM605.2 261.0h2.14v2.14h-2.14zM607.2 261.0h2.14v2.14h-2.14zM613.2 261.0h2.14v2.14h-2.14zM617.1 261.0h2.14v2.14h-2.14zM621.1 261.0h2.14v2.14h-2.14zM629.1 261.0h2.14v2.14h-2.14zM631.0 261.0h2.14v2.14h-2.14zM609.2 263.0h2.14v2.14h-2.14zM615.1 263.0h2.14v2.14h-2.14zM623.1 263.0h2.14v2.14h-2.14zM625.1 263.0h2.14v2.14h-2.14zM627.1 263.0h2.14v2.14h-2.14zM633.0 263.0h2.14v2.14h-2.14zM635.0 263.0h2.14v2.14h-2.14zM605.2 265.0h2.14v2.14h-2.14zM607.2 265.0h2.14v2.14h-2.14zM611.2 265.0h2.14v2.14h-2.14zM613.2 265.0h2.14v2.14h-2.14zM617.1 265.0h2.14v2.14h-2.14zM619.1 265.0h2.14v2.14h-2.14zM621.1 265.0h2.14v2.14h-2.14zM631.0 265.0h2.14v2.14h-2.14zM637.0 265.0h2.14v2.14h-2.14zM607.2 267.0h2.14v2.14h-2.14zM611.2 267.0h2.14v2.14h-2.14zM613.2 267.0h2.14v2.14h-2.14zM617.1 267.0h2.14v2.14h-2.14zM619.1 267.0h2.14v2.14h-2.14zM621.1 267.0h2.14v2.14h-2.14zM629.1 267.0h2.14v2.14h-2.14zM631.0 267.0h2.14v2.14h-2.14zM637.0 267.0h2.14v2.14h-2.14zM605.2 269.0h2.14v2.14h-2.14zM607.2 269.0h2.14v2.14h-2.14zM611.2 269.0h2.14v2.14h-2.14zM613.2 269.0h2.14v2.14h-2.14zM617.1 269.0h2.14v2.14h-2.14zM619.1 269.0h2.14v2.14h-2.14zM621.1 269.0h2.14v2.14h-2.14zM631.0 269.0h2.14v2.14h-2.14zM637.0 269.0h2.14v2.14h-2.14zM605.2 271.0h2.14v2.14h-2.14zM607.2 271.0h2.14v2.14h-2.14zM611.2 271.0h2.14v2.14h-2.14zM613.2 271.0h2.14v2.14h-2.14zM617.1 271.0h2.14v2.14h-2.14zM621.1 271.0h2.14v2.14h-2.14zM631.0 271.0h2.14v2.14h-2.14zM637.0 271.0h2.14v2.14h-2.14zM615.1 273.0h2.14v2.14h-2.14zM623.1 273.0h2.14v2.14h-2.14zM625.1 273.0h2.14v2.14h-2.14zM633.0 273.0h2.14v2.14h-2.14zM635.0 273.0h2.14v2.14h-2.14zM639.0 273.0h2.14v2.14h-2.14zM641.0 273.0h2.14v2.14h-2.14zM643.0 273.0h2.14v2.14h-2.14zM645.0 273.0h2.14v2.14h-2.14zM623.1 274.9h2.14v2.14h-2.14zM625.1 274.9h2.14v2.14h-2.14zM633.0 274.9h2.14v2.14h-2.14zM635.0 274.9h2.14v2.14h-2.14zM639.0 274.9h2.14v2.14h-2.14zM641.0 274.9h2.14v2.14h-2.14zM643.0 274.9h2.14v2.14h-2.14zM645.0 274.9h2.14v2.14h-2.14zM605.2 276.9h2.14v2.14h-2.14zM607.2 276.9h2.14v2.14h-2.14zM613.2 276.9h2.14v2.14h-2.14zM617.1 276.9h2.14v2.14h-2.14zM629.1 276.9h2.14v2.14h-2.14zM631.0 276.9h2.14v2.14h-2.14zM637.0 276.9h2.14v2.14h-2.14zM647.0 276.9h2.14v2.14h-2.14zM648.9 276.9h2.14v2.14h-2.14zM623.1 278.9h2.14v2.14h-2.14zM625.1 278.9h2.14v2.14h-2.14zM633.0 278.9h2.14v2.14h-2.14zM635.0 278.9h2.14v2.14h-2.14zM639.0 278.9h2.14v2.14h-2.14zM641.0 278.9h2.14v2.14h-2.14zM643.0 278.9h2.14v2.14h-2.14zM645.0 278.9h2.14v2.14h-2.14zM650.9 278.9h2.14v2.14h-2.14zM605.2 280.9h2.14v2.14h-2.14zM607.2 280.9h2.14v2.14h-2.14zM611.2 280.9h2.14v2.14h-2.14zM613.2 280.9h2.14v2.14h-2.14zM617.1 280.9h2.14v2.14h-2.14zM619.1 280.9h2.14v2.14h-2.14zM621.1 280.9h2.14v2.14h-2.14zM629.1 280.9h2.14v2.14h-2.14zM631.0 280.9h2.14v2.14h-2.14zM637.0 280.9h2.14v2.14h-2.14zM647.0 280.9h2.14v2.14h-2.14zM648.9 280.9h2.14v2.14h-2.14zM652.9 280.9h2.14v2.14h-2.14zM605.2 282.9h2.14v2.14h-2.14zM607.2 282.9h2.14v2.14h-2.14zM611.2 282.9h2.14v2.14h-2.14zM613.2 282.9h2.14v2.14h-2.14zM617.1 282.9h2.14v2.14h-2.14zM619.1 282.9h2.14v2.14h-2.14zM621.1 282.9h2.14v2.14h-2.14zM629.1 282.9h2.14v2.14h-2.14zM631.0 282.9h2.14v2.14h-2.14zM637.0 282.9h2.14v2.14h-2.14zM647.0 282.9h2.14v2.14h-2.14zM648.9 282.9h2.14v2.14h-2.14zM652.9 282.9h2.14v2.14h-2.14zM605.2 284.9h2.14v2.14h-2.14zM607.2 284.9h2.14v2.14h-2.14zM611.2 284.9h2.14v2.14h-2.14zM613.2 284.9h2.14v2.14h-2.14zM617.1 284.9h2.14v2.14h-2.14zM621.1 284.9h2.14v2.14h-2.14zM631.0 284.9h2.14v2.14h-2.14zM637.0 284.9h2.14v2.14h-2.14zM647.0 284.9h2.14v2.14h-2.14zM648.9 284.9h2.14v2.14h-2.14zM652.9 284.9h2.14v2.14h-2.14zM609.2 286.9h2.14v2.14h-2.14zM615.1 286.9h2.14v2.14h-2.14zM623.1 286.9h2.14v2.14h-2.14zM625.1 286.9h2.14v2.14h-2.14zM627.1 286.9h2.14v2.14h-2.14zM633.0 286.9h2.14v2.14h-2.14zM635.0 286.9h2.14v2.14h-2.14zM639.0 286.9h2.14v2.14h-2.14zM641.0 286.9h2.14v2.14h-2.14zM645.0 286.9h2.14v2.14h-2.14zM650.9 286.9h2.14v2.14h-2.14zM654.9 286.9h2.14v2.14h-2.14zM656.9 286.9h2.14v2.14h-2.14zM658.9 286.9h2.14v2.14h-2.14zM609.2 288.9h2.14v2.14h-2.14zM615.1 288.9h2.14v2.14h-2.14zM623.1 288.9h2.14v2.14h-2.14zM625.1 288.9h2.14v2.14h-2.14zM627.1 288.9h2.14v2.14h-2.14zM633.0 288.9h2.14v2.14h-2.14zM635.0 288.9h2.14v2.14h-2.14zM639.0 288.9h2.14v2.14h-2.14zM641.0 288.9h2.14v2.14h-2.14zM643.0 288.9h2.14v2.14h-2.14zM645.0 288.9h2.14v2.14h-2.14zM650.9 288.9h2.14v2.14h-2.14zM656.9 288.9h2.14v2.14h-2.14zM658.9 288.9h2.14v2.14h-2.14zM641.0 290.9h2.14v2.14h-2.14zM643.0 290.9h2.14v2.14h-2.14zM654.9 290.9h2.14v2.14h-2.14zM656.9 290.9h2.14v2.14h-2.14zM609.2 292.8h2.14v2.14h-2.14zM615.1 292.8h2.14v2.14h-2.14zM623.1 292.8h2.14v2.14h-2.14zM625.1 292.8h2.14v2.14h-2.14zM627.1 292.8h2.14v2.14h-2.14zM633.0 292.8h2.14v2.14h-2.14zM635.0 292.8h2.14v2.14h-2.14zM639.0 292.8h2.14v2.14h-2.14zM641.0 292.8h2.14v2.14h-2.14zM643.0 292.8h2.14v2.14h-2.14zM645.0 292.8h2.14v2.14h-2.14zM650.9 292.8h2.14v2.14h-2.14zM654.9 292.8h2.14v2.14h-2.14zM656.9 292.8h2.14v2.14h-2.14zM658.9 292.8h2.14v2.14h-2.14zM615.1 294.8h2.14v2.14h-2.14zM623.1 294.8h2.14v2.14h-2.14zM625.1 294.8h2.14v2.14h-2.14zM633.0 294.8h2.14v2.14h-2.14zM635.0 294.8h2.14v2.14h-2.14zM639.0 294.8h2.14v2.14h-2.14zM641.0 294.8h2.14v2.14h-2.14zM643.0 294.8h2.14v2.14h-2.14zM645.0 294.8h2.14v2.14h-2.14zM650.9 294.8h2.14v2.14h-2.14zM654.9 294.8h2.14v2.14h-2.14zM656.9 294.8h2.14v2.14h-2.14zM658.9 294.8h2.14v2.14h-2.14zM623.1 296.8h2.14v2.14h-2.14zM633.0 296.8h2.14v2.14h-2.14zM639.0 296.8h2.14v2.14h-2.14zM641.0 296.8h2.14v2.14h-2.14zM645.0 296.8h2.14v2.14h-2.14zM656.9 296.8h2.14v2.14h-2.14zM609.2 298.8h2.14v2.14h-2.14zM623.1 298.8h2.14v2.14h-2.14zM625.1 298.8h2.14v2.14h-2.14zM627.1 298.8h2.14v2.14h-2.14zM633.0 298.8h2.14v2.14h-2.14zM635.0 298.8h2.14v2.14h-2.14zM639.0 298.8h2.14v2.14h-2.14zM641.0 298.8h2.14v2.14h-2.14zM643.0 298.8h2.14v2.14h-2.14zM645.0 298.8h2.14v2.14h-2.14zM654.9 298.8h2.14v2.14h-2.14zM656.9 298.8h2.14v2.14h-2.14zM658.9 298.8h2.14v2.14h-2.14zM609.2 300.8h2.14v2.14h-2.14zM615.1 300.8h2.14v2.14h-2.14zM623.1 300.8h2.14v2.14h-2.14zM625.1 300.8h2.14v2.14h-2.14zM627.1 300.8h2.14v2.14h-2.14zM633.0 300.8h2.14v2.14h-2.14zM635.0 300.8h2.14v2.14h-2.14zM639.0 300.8h2.14v2.14h-2.14zM643.0 300.8h2.14v2.14h-2.14zM645.0 300.8h2.14v2.14h-2.14zM650.9 300.8h2.14v2.14h-2.14zM654.9 300.8h2.14v2.14h-2.14zM656.9 300.8h2.14v2.14h-2.14zM658.9 300.8h2.14v2.14h-2.14zM623.1 302.8h2.14v2.14h-2.14zM633.0 302.8h2.14v2.14h-2.14zM639.0 302.8h2.14v2.14h-2.14zM641.0 302.8h2.14v2.14h-2.14zM643.0 302.8h2.14v2.14h-2.14zM650.9 302.8h2.14v2.14h-2.14zM654.9 302.8h2.14v2.14h-2.14zM656.9 302.8h2.14v2.14h-2.14zM607.2 304.8h2.14v2.14h-2.14zM637.0 304.8h2.14v2.14h-2.14zM647.0 304.8h2.14v2.14h-2.14zM623.1 306.8h2.14v2.14h-2.14zM627.1 306.8h2.14v2.14h-2.14zM633.0 306.8h2.14v2.14h-2.14zM635.0 306.8h2.14v2.14h-2.14zM639.0 306.8h2.14v2.14h-2.14zM641.0 306.8h2.14v2.14h-2.14zM643.0 306.8h2.14v2.14h-2.14zM645.0 306.8h2.14v2.14h-2.14zM654.9 306.8h2.14v2.14h-2.14zM656.9 306.8h2.14v2.14h-2.14zM658.9 306.8h2.14v2.14h-2.14zM605.2 308.7h2.14v2.14h-2.14zM607.2 308.7h2.14v2.14h-2.14zM611.2 308.7h2.14v2.14h-2.14zM613.2 308.7h2.14v2.14h-2.14zM617.1 308.7h2.14v2.14h-2.14zM619.1 308.7h2.14v2.14h-2.14zM621.1 308.7h2.14v2.14h-2.14zM631.0 308.7h2.14v2.14h-2.14zM637.0 308.7h2.14v2.14h-2.14zM647.0 308.7h2.14v2.14h-2.14zM648.9 308.7h2.14v2.14h-2.14zM652.9 308.7h2.14v2.14h-2.14zM660.9 308.7h2.14v2.14h-2.14zM662.9 308.7h2.14v2.14h-2.14zM664.9 308.7h2.14v2.14h-2.14zM666.8 308.7h2.14v2.14h-2.14zM668.8 308.7h2.14v2.14h-2.14zM670.8 308.7h2.14v2.14h-2.14zM672.8 308.7h2.14v2.14h-2.14zM674.8 308.7h2.14v2.14h-2.14zM680.8 308.7h2.14v2.14h-2.14zM609.2 310.7h2.14v2.14h-2.14zM623.1 310.7h2.14v2.14h-2.14zM625.1 310.7h2.14v2.14h-2.14zM627.1 310.7h2.14v2.14h-2.14zM635.0 310.7h2.14v2.14h-2.14zM639.0 310.7h2.14v2.14h-2.14zM641.0 310.7h2.14v2.14h-2.14zM643.0 310.7h2.14v2.14h-2.14zM645.0 310.7h2.14v2.14h-2.14zM650.9 310.7h2.14v2.14h-2.14zM654.9 310.7h2.14v2.14h-2.14zM656.9 310.7h2.14v2.14h-2.14zM658.9 310.7h2.14v2.14h-2.14zM678.8 310.7h2.14v2.14h-2.14zM682.7 310.7h2.14v2.14h-2.14zM633.0 312.7h2.14v2.14h-2.14zM635.0 312.7h2.14v2.14h-2.14zM639.0 312.7h2.14v2.14h-2.14zM643.0 312.7h2.14v2.14h-2.14zM645.0 312.7h2.14v2.14h-2.14zM654.9 312.7h2.14v2.14h-2.14zM656.9 312.7h2.14v2.14h-2.14zM682.7 312.7h2.14v2.14h-2.14zM623.1 314.7h2.14v2.14h-2.14zM641.0 314.7h2.14v2.14h-2.14zM643.0 314.7h2.14v2.14h-2.14zM654.9 314.7h2.14v2.14h-2.14z" fill="rgb(158, 5, 157)"/>
<path d="M609.2 235.2h2.14v2.14h-2.14zM615.1 241.1h2.14v2.14h-2.14zM609.2 251.1h2.14v2.14h-2.14zM615.1 253.1h2.14v2.14h-2.14zM625.1 253.1h2.14v2.14h-2.14zM609.2 304.8h2.14v2.14h-2.14zM615.1 304.8h2.14v2.14h-2.14zM625.1 304.8h2.14v2.14h-2.14zM627.1 304.8h2.14v2.14h-2.14zM678.8 304.8h2.14v2.14h-2.14z" fill="rgb(30, 0, 34)"/>
<path d="M605.2 237.2h2.14v2.14h-2.14zM611.2 237.2h2.14v2.14h-2.14zM611.2 239.2h2.14v2.14h-2.14zM611.2 243.1h2.14v2.14h-2.14zM613.2 243.1h2.14v2.14h-2.14zM605.2 245.1h2.14v2.14h-2.14zM607.2 245.1h2.14v2.14h-2.14zM611.2 245.1h2.14v2.14h-2.14zM613.2 245.1h2.14v2.14h-2.14zM617.1 245.1h2.14v2.14h-2.14zM605.2 247.1h2.14v2.14h-2.14zM611.2 247.1h2.14v2.14h-2.14zM613.2 247.1h2.14v2.14h-2.14zM619.1 247.1h2.14v2.14h-2.14zM621.1 247.1h2.14v2.14h-2.14zM605.2 255.1h2.14v2.14h-2.14zM607.2 255.1h2.14v2.14h-2.14zM611.2 255.1h2.14v2.14h-2.14zM613.2 255.1h2.14v2.14h-2.14zM617.1 255.1h2.14v2.14h-2.14zM621.1 255.1h2.14v2.14h-2.14zM629.1 255.1h2.14v2.14h-2.14zM611.2 257.0h2.14v2.14h-2.14zM613.2 257.0h2.14v2.14h-2.14zM619.1 257.0h2.14v2.14h-2.14zM621.1 257.0h2.14v2.14h-2.14zM629.1 257.0h2.14v2.14h-2.14zM631.0 257.0h2.14v2.14h-2.14zM611.2 263.0h2.14v2.14h-2.14zM619.1 263.0h2.14v2.14h-2.14zM629.1 263.0h2.14v2.14h-2.14zM611.2 273.0h2.14v2.14h-2.14zM619.1 273.0h2.14v2.14h-2.14zM629.1 273.0h2.14v2.14h-2.14zM611.2 274.9h2.14v2.14h-2.14zM613.2 274.9h2.14v2.14h-2.14zM617.1 274.9h2.14v2.14h-2.14zM619.1 274.9h2.14v2.14h-2.14zM621.1 274.9h2.14v2.14h-2.14zM629.1 274.9h2.14v2.14h-2.14zM637.0 274.9h2.14v2.14h-2.14zM647.0 274.9h2.14v2.14h-2.14zM648.9 274.9h2.14v2.14h-2.14zM605.2 278.9h2.14v2.14h-2.14zM611.2 278.9h2.14v2.14h-2.14zM617.1 278.9h2.14v2.14h-2.14zM619.1 278.9h2.14v2.14h-2.14zM621.1 278.9h2.14v2.14h-2.14zM629.1 278.9h2.14v2.14h-2.14zM631.0 278.9h2.14v2.14h-2.14zM637.0 278.9h2.14v2.14h-2.14zM647.0 278.9h2.14v2.14h-2.14zM648.9 278.9h2.14v2.14h-2.14zM652.9 278.9h2.14v2.14h-2.14zM611.2 286.9h2.14v2.14h-2.14zM619.1 286.9h2.14v2.14h-2.14zM621.1 286.9h2.14v2.14h-2.14zM629.1 286.9h2.14v2.14h-2.14zM619.1 288.9h2.14v2.14h-2.14zM629.1 288.9h2.14v2.14h-2.14zM605.2 290.9h2.14v2.14h-2.14zM611.2 290.9h2.14v2.14h-2.14zM613.2 290.9h2.14v2.14h-2.14zM617.1 290.9h2.14v2.14h-2.14zM621.1 290.9h2.14v2.14h-2.14zM629.1 290.9h2.14v2.14h-2.14zM631.0 290.9h2.14v2.14h-2.14zM637.0 290.9h2.14v2.14h-2.14zM647.0 290.9h2.14v2.14h-2.14zM648.9 290.9h2.14v2.14h-2.14zM652.9 290.9h2.14v2.14h-2.14zM660.9 290.9h2.14v2.14h-2.14zM662.9 290.9h2.14v2.14h-2.14zM664.9 290.9h2.14v2.14h-2.14zM611.2 292.8h2.14v2.14h-2.14zM619.1 292.8h2.14v2.14h-2.14zM621.1 292.8h2.14v2.14h-2.14zM629.1 292.8h2.14v2.14h-2.14zM637.0 292.8h2.14v2.14h-2.14zM664.9 292.8h2.14v2.14h-2.14zM605.2 294.8h2.14v2.14h-2.14zM607.2 294.8h2.14v2.14h-2.14zM611.2 294.8h2.14v2.14h-2.14zM613.2 294.8h2.14v2.14h-2.14zM617.1 294.8h2.14v2.14h-2.14zM619.1 294.8h2.14v2.14h-2.14zM621.1 294.8h2.14v2.14h-2.14zM629.1 294.8h2.14v2.14h-2.14zM631.0 294.8h2.14v2.14h-2.14zM637.0 294.8h2.14v2.14h-2.14zM647.0 294.8h2.14v2.14h-2.14zM648.9 294.8h2.14v2.14h-2.14zM652.9 294.8h2.14v2.14h-2.14zM660.9 294.8h2.14v2.14h-2.14zM662.9 294.8h2.14v2.14h-2.14zM664.9 294.8h2.14v2.14h-2.14zM666.8 294.8h2.14v2.14h-2.14zM668.8 294.8h2.14v2.14h-2.14zM605.2 296.8h2.14v2.14h-2.14zM607.2 296.8h2.14v2.14h-2.14zM611.2 296.8h2.14v2.14h-2.14zM613.2 296.8h2.14v2.14h-2.14zM617.1 296.8h2.14v2.14h-2.14zM621.1 296.8h2.14v2.14h-2.14zM631.0 296.8h2.14v2.14h-2.14zM637.0 296.8h2.14v2.14h-2.14zM647.0 296.8h2.14v2.14h-2.14zM648.9 296.8h2.14v2.14h-2.14zM652.9 296.8h2.14v2.14h-2.14zM660.9 296.8h2.14v2.14h-2.14zM662.9 296.8h2.14v2.14h-2.14zM664.9 296.8h2.14v2.14h-2.14zM666.8 296.8h2.14v2.14h-2.14zM668.8 296.8h2.14v2.14h-2.14zM670.8 296.8h2.14v2.14h-2.14zM611.2 298.8h2.14v2.14h-2.14zM613.2 298.8h2.14v2.14h-2.14zM617.1 298.8h2.14v2.14h-2.14zM619.1 298.8h2.14v2.14h-2.14zM621.1 298.8h2.14v2.14h-2.14zM629.1 298.8h2.14v2.14h-2.14zM637.0 298.8h2.14v2.14h-2.14zM648.9 298.8h2.14v2.14h-2.14zM652.9 298.8h2.14v2.14h-2.14zM664.9 298.8h2.14v2.14h-2.14zM668.8 298.8h2.14v2.14h-2.14zM670.8 298.8h2.14v2.14h-2.14zM672.8 298.8h2.14v2.14h-2.14zM617.1 300.8h2.14v2.14h-2.14zM619.1 300.8h2.14v2.14h-2.14zM621.1 300.8h2.14v2.14h-2.14zM629.1 300.8h2.14v2.14h-2.14zM648.9 300.8h2.14v2.14h-2.14zM664.9 300.8h2.14v2.14h-2.14zM666.8 300.8h2.14v2.14h-2.14zM668.8 300.8h2.14v2.14h-2.14zM670.8 300.8h2.14v2.14h-2.14zM672.8 300.8h2.14v2.14h-2.14zM605.2 302.8h2.14v2.14h-2.14zM611.2 302.8h2.14v2.14h-2.14zM613.2 302.8h2.14v2.14h-2.14zM617.1 302.8h2.14v2.14h-2.14zM619.1 302.8h2.14v2.14h-2.14zM621.1 302.8h2.14v2.14h-2.14zM629.1 302.8h2.14v2.14h-2.14zM631.0 302.8h2.14v2.14h-2.14zM647.0 302.8h2.14v2.14h-2.14zM648.9 302.8h2.14v2.14h-2.14zM652.9 302.8h2.14v2.14h-2.14zM660.9 302.8h2.14v2.14h-2.14zM662.9 302.8h2.14v2.14h-2.14zM664.9 302.8h2.14v2.14h-2.14zM666.8 302.8h2.14v2.14h-2.14zM668.8 302.8h2.14v2.14h-2.14zM672.8 302.8h2.14v2.14h-2.14zM674.8 302.8h2.14v2.14h-2.14zM676.8 302.8h2.14v2.14h-2.14zM611.2 306.8h2.14v2.14h-2.14zM613.2 306.8h2.14v2.14h-2.14zM617.1 306.8h2.14v2.14h-2.14zM619.1 306.8h2.14v2.14h-2.14zM621.1 306.8h2.14v2.14h-2.14zM629.1 306.8h2.14v2.14h-2.14zM631.0 306.8h2.14v2.14h-2.14zM647.0 306.8h2.14v2.14h-2.14zM648.9 306.8h2.14v2.14h-2.14zM652.9 306.8h2.14v2.14h-2.14zM664.9 306.8h2.14v2.14h-2.14zM666.8 306.8h2.14v2.14h-2.14zM668.8 306.8h2.14v2.14h-2.14zM670.8 306.8h2.14v2.14h-2.14zM672.8 306.8h2.14v2.14h-2.14zM676.8 306.8h2.14v2.14h-2.14zM680.8 306.8h2.14v2.14h-2.14zM611.2 310.7h2.14v2.14h-2.14zM619.1 310.7h2.14v2.14h-2.14zM629.1 310.7h2.14v2.14h-2.14zM668.8 310.7h2.14v2.14h-2.14zM670.8 310.7h2.14v2.14h-2.14zM676.8 310.7h2.14v2.14h-2.14zM605.2 312.7h2.14v2.14h-2.14zM607.2 312.7h2.14v2.14h-2.14zM611.2 312.7h2.14v2.14h-2.14zM613.2 312.7h2.14v2.14h-2.14zM617.1 312.7h2.14v2.14h-2.14zM619.1 312.7h2.14v2.14h-2.14zM621.1 312.7h2.14v2.14h-2.14zM631.0 312.7h2.14v2.14h-2.14zM637.0 312.7h2.14v2.14h-2.14zM647.0 312.7h2.14v2.14h-2.14zM648.9 312.7h2.14v2.14h-2.14zM652.9 312.7h2.14v2.14h-2.14zM660.9 312.7h2.14v2.14h-2.14zM662.9 312.7h2.14v2.14h-2.14zM664.9 312.7h2.14v2.14h-2.14zM666.8 312.7h2.14v2.14h-2.14zM668.8 312.7h2.14v2.14h-2.14zM672.8 312.7h2.14v2.14h-2.14zM674.8 312.7h2.14v2.14h-2.14zM680.8 312.7h2.14v2.14h-2.14zM684.7 312.7h2.14v2.14h-2.14zM686.7 312.7h2.14v2.14h-2.14zM605.2 314.7h2.14v2.14h-2.14zM607.2 314.7h2.14v2.14h-2.14zM613.2 314.7h2.14v2.14h-2.14zM617.1 314.7h2.14v2.14h-2.14zM629.1 314.7h2.14v2.14h-2.14zM631.0 314.7h2.14v2.14h-2.14zM637.0 314.7h2.14v2.14h-2.14zM647.0 314.7h2.14v2.14h-2.14zM648.9 314.7h2.14v2.14h-2.14zM652.9 314.7h2.14v2.14h-2.14zM660.9 314.7h2.14v2.14h-2.14zM662.9 314.7h2.14v2.14h-2.14zM664.9 314.7h2.14v2.14h-2.14zM666.8 314.7h2.14v2.14h-2.14zM668.8 314.7h2.14v2.14h-2.14zM670.8 314.7h2.14v2.14h-2.14zM672.8 314.7h2.14v2.14h-2.14zM674.8 314.7h2.14v2.14h-2.14zM680.8 314.7h2.14v2.14h-2.14zM684.7 314.7h2.14v2.14h-2.14zM686.7 314.7h2.14v2.14h-2.14z" fill="rgb(222, 8, 219)"/>
<path d="M609.2 237.2h2.14v2.14h-2.14zM609.2 239.2h2.14v2.14h-2.14zM611.2 241.1h2.14v2.14h-2.14zM615.1 243.1h2.14v2.14h-2.14zM609.2 245.1h2.14v2.14h-2.14zM615.1 245.1h2.14v2.14h-2.14zM609.2 247.1h2.14v2.14h-2.14zM615.1 247.1h2.14v2.14h-2.14zM611.2 251.1h2.14v2.14h-2.14zM613.2 251.1h2.14v2.14h-2.14zM619.1 251.1h2.14v2.14h-2.14zM611.2 253.1h2.14v2.14h-2.14zM617.1 253.1h2.14v2.14h-2.14zM619.1 253.1h2.14v2.14h-2.14zM609.2 255.1h2.14v2.14h-2.14zM615.1 255.1h2.14v2.14h-2.14zM623.1 255.1h2.14v2.14h-2.14zM625.1 255.1h2.14v2.14h-2.14zM627.1 255.1h2.14v2.14h-2.14zM615.1 257.0h2.14v2.14h-2.14zM625.1 257.0h2.14v2.14h-2.14zM627.1 257.0h2.14v2.14h-2.14zM611.2 261.0h2.14v2.14h-2.14zM619.1 261.0h2.14v2.14h-2.14zM629.1 265.0h2.14v2.14h-2.14zM629.1 269.0h2.14v2.14h-2.14zM619.1 271.0h2.14v2.14h-2.14zM629.1 271.0h2.14v2.14h-2.14zM609.2 273.0h2.14v2.14h-2.14zM627.1 273.0h2.14v2.14h-2.14zM609.2 274.9h2.14v2.14h-2.14zM615.1 274.9h2.14v2.14h-2.14zM627.1 274.9h2.14v2.14h-2.14zM611.2 276.9h2.14v2.14h-2.14zM619.1 276.9h2.14v2.14h-2.14zM621.1 276.9h2.14v2.14h-2.14zM609.2 278.9h2.14v2.14h-2.14zM615.1 278.9h2.14v2.14h-2.14zM627.1 278.9h2.14v2.14h-2.14zM619.1 284.9h2.14v2.14h-2.14zM629.1 284.9h2.14v2.14h-2.14zM609.2 290.9h2.14v2.14h-2.14zM615.1 290.9h2.14v2.14h-2.14zM623.1 290.9h2.14v2.14h-2.14zM625.1 290.9h2.14v2.14h-2.14zM627.1 290.9h2.14v2.14h-2.14zM633.0 290.9h2.14v2.14h-2.14zM635.0 290.9h2.14v2.14h-2.14zM639.0 290.9h2.14v2.14h-2.14zM645.0 290.9h2.14v2.14h-2.14zM650.9 290.9h2.14v2.14h-2.14zM658.9 290.9h2.14v2.14h-2.14zM609.2 294.8h2.14v2.14h-2.14zM627.1 294.8h2.14v2.14h-2.14zM609.2 296.8h2.14v2.14h-2.14zM615.1 296.8h2.14v2.14h-2.14zM625.1 296.8h2.14v2.14h-2.14zM627.1 296.8h2.14v2.14h-2.14zM635.0 296.8h2.14v2.14h-2.14zM643.0 296.8h2.14v2.14h-2.14zM650.9 296.8h2.14v2.14h-2.14zM654.9 296.8h2.14v2.14h-2.14zM658.9 296.8h2.14v2.14h-2.14zM615.1 298.8h2.14v2.14h-2.14zM650.9 298.8h2.14v2.14h-2.14zM609.2 302.8h2.14v2.14h-2.14zM615.1 302.8h2.14v2.14h-2.14zM625.1 302.8h2.14v2.14h-2.14zM627.1 302.8h2.14v2.14h-2.14zM635.0 302.8h2.14v2.14h-2.14zM645.0 302.8h2.14v2.14h-2.14zM658.9 302.8h2.14v2.14h-2.14zM605.2 304.8h2.14v2.14h-2.14zM611.2 304.8h2.14v2.14h-2.14zM613.2 304.8h2.14v2.14h-2.14zM617.1 304.8h2.14v2.14h-2.14zM619.1 304.8h2.14v2.14h-2.14zM621.1 304.8h2.14v2.14h-2.14zM629.1 304.8h2.14v2.14h-2.14zM631.0 304.8h2.14v2.14h-2.14zM648.9 304.8h2.14v2.14h-2.14zM652.9 304.8h2.14v2.14h-2.14zM660.9 304.8h2.14v2.14h-2.14zM662.9 304.8h2.14v2.14h-2.14zM664.9 304.8h2.14v2.14h-2.14zM666.8 304.8h2.14v2.14h-2.14zM668.8 304.8h2.14v2.14h-2.14zM670.8 304.8h2.14v2.14h-2.14zM672.8 304.8h2.14v2.14h-2.14zM674.8 304.8h2.14v2.14h-2.14zM676.8 304.8h2.14v2.14h-2.14zM609.2 306.8h2.14v2.14h-2.14zM615.1 306.8h2.14v2.14h-2.14zM625.1 306.8h2.14v2.14h-2.14zM650.9 306.8h2.14v2.14h-2.14zM678.8 306.8h2.14v2.14h-2.14zM629.1 308.7h2.14v2.14h-2.14zM676.8 308.7h2.14v2.14h-2.14zM615.1 310.7h2.14v2.14h-2.14zM609.2 312.7h2.14v2.14h-2.14zM615.1 312.7h2.14v2.14h-2.14zM623.1 312.7h2.14v2.14h-2.14zM625.1 312.7h2.14v2.14h-2.14zM627.1 312.7h2.14v2.14h-2.14zM641.0 312.7h2.14v2.14h-2.14zM650.9 312.7h2.14v2.14h-2.14zM658.9 312.7h2.14v2.14h-2.14zM678.8 312.7h2.14v2.14h-2.14zM609.2 314.7h2.14v2.14h-2.14zM615.1 314.7h2.14v2.14h-2.14zM625.1 314.7h2.14v2.14h-2.14zM627.1 314.7h2.14v2.14h-2.14zM633.0 314.7h2.14v2.14h-2.14zM635.0 314.7h2.14v2.14h-2.14zM639.0 314.7h2.14v2.14h-2.14zM645.0 314.7h2.14v2.14h-2.14zM650.9 314.7h2.14v2.14h-2.14zM656.9 314.7h2.14v2.14h-2.14zM658.9 314.7h2.14v2.14h-2.14zM678.8 314.7h2.14v2.14h-2.14zM682.7 314.7h2.14v2.14h-2.14z" fill="rgb(126, 4, 126)"/>
<path d="M609.2 241.1h2.14v2.14h-2.14zM609.2 249.1h2.14v2.14h-2.14zM615.1 249.1h2.14v2.14h-2.14zM615.1 251.1h2.14v2.14h-2.14zM623.1 251.1h2.14v2.14h-2.14zM625.1 251.1h2.14v2.14h-2.14zM609.2 253.1h2.14v2.14h-2.14zM623.1 253.1h2.14v2.14h-2.14zM627.1 253.1h2.14v2.14h-2.14zM609.2 259.0h2.14v2.14h-2.14zM615.1 259.0h2.14v2.14h-2.14zM625.1 259.0h2.14v2.14h-2.14zM627.1 259.0h2.14v2.14h-2.14zM609.2 261.0h2.14v2.14h-2.14zM615.1 261.0h2.14v2.14h-2.14zM625.1 261.0h2.14v2.14h-2.14zM627.1 261.0h2.14v2.14h-2.14zM635.0 261.0h2.14v2.14h-2.14zM609.2 265.0h2.14v2.14h-2.14zM615.1 265.0h2.14v2.14h-2.14zM625.1 265.0h2.14v2.14h-2.14zM627.1 265.0h2.14v2.14h-2.14zM609.2 267.0h2.14v2.14h-2.14zM615.1 267.0h2.14v2.14h-2.14zM625.1 267.0h2.14v2.14h-2.14zM627.1 267.0h2.14v2.14h-2.14zM609.2 269.0h2.14v2.14h-2.14zM615.1 269.0h2.14v2.14h-2.14zM625.1 269.0h2.14v2.14h-2.14zM627.1 269.0h2.14v2.14h-2.14zM633.0 269.0h2.14v2.14h-2.14zM635.0 269.0h2.14v2.14h-2.14zM639.0 269.0h2.14v2.14h-2.14zM609.2 271.0h2.14v2.14h-2.14zM615.1 271.0h2.14v2.14h-2.14zM623.1 271.0h2.14v2.14h-2.14zM625.1 271.0h2.14v2.14h-2.14zM627.1 271.0h2.14v2.14h-2.14zM639.0 271.0h2.14v2.14h-2.14zM645.0 271.0h2.14v2.14h-2.14zM609.2 276.9h2.14v2.14h-2.14zM615.1 276.9h2.14v2.14h-2.14zM625.1 276.9h2.14v2.14h-2.14zM627.1 276.9h2.14v2.14h-2.14zM633.0 276.9h2.14v2.14h-2.14zM635.0 276.9h2.14v2.14h-2.14zM639.0 276.9h2.14v2.14h-2.14zM643.0 276.9h2.14v2.14h-2.14zM645.0 276.9h2.14v2.14h-2.14zM650.9 276.9h2.14v2.14h-2.14zM609.2 280.9h2.14v2.14h-2.14zM615.1 280.9h2.14v2.14h-2.14zM625.1 280.9h2.14v2.14h-2.14zM627.1 280.9h2.14v2.14h-2.14zM609.2 282.9h2.14v2.14h-2.14zM615.1 282.9h2.14v2.14h-2.14zM625.1 282.9h2.14v2.14h-2.14zM627.1 282.9h2.14v2.14h-2.14zM635.0 282.9h2.14v2.14h-2.14zM650.9 282.9h2.14v2.14h-2.14zM609.2 284.9h2.14v2.14h-2.14zM615.1 284.9h2.14v2.14h-2.14zM623.1 284.9h2.14v2.14h-2.14zM625.1 284.9h2.14v2.14h-2.14zM627.1 284.9h2.14v2.14h-2.14zM633.0 284.9h2.14v2.14h-2.14zM635.0 284.9h2.14v2.14h-2.14zM641.0 284.9h2.14v2.14h-2.14zM643.0 284.9h2.14v2.14h-2.14zM645.0 284.9h2.14v2.14h-2.14zM650.9 284.9h2.14v2.14h-2.14zM654.9 284.9h2.14v2.14h-2.14zM656.9 284.9h2.14v2.14h-2.14zM658.9 284.9h2.14v2.14h-2.14zM623.1 304.8h2.14v2.14h-2.14zM633.0 304.8h2.14v2.14h-2.14zM635.0 304.8h2.14v2.14h-2.14zM639.0 304.8h2.14v2.14h-2.14zM641.0 304.8h2.14v2.14h-2.14zM643.0 304.8h2.14v2.14h-2.14zM645.0 304.8h2.14v2.14h-2.14zM650.9 304.8h2.14v2.14h-2.14zM654.9 304.8h2.14v2.14h-2.14zM656.9 304.8h2.14v2.14h-2.14zM658.9 304.8h2.14v2.14h-2.14zM609.2 308.7h2.14v2.14h-2.14zM615.1 308.7h2.14v2.14h-2.14zM625.1 308.7h2.14v2.14h-2.14zM627.1 308.7h2.14v2.14h-2.14zM650.9 308.7h2.14v2.14h-2.14zM658.9 308.7h2.14v2.14h-2.14zM678.8 308.7h2.14v2.14h-2.14z" fill="rgb(62, 1, 64)"/>
<path d="M619.1 245.1h2.14v2.14h-2.14zM619.1 255.1h2.14v2.14h-2.14zM605.2 267.0h2.14v2.14h-2.14zM643.0 286.9h2.14v2.14h-2.14zM654.9 288.9h2.14v2.14h-2.14zM619.1 290.9h2.14v2.14h-2.14zM619.1 296.8h2.14v2.14h-2.14zM629.1 296.8h2.14v2.14h-2.14zM641.0 300.8h2.14v2.14h-2.14zM670.8 302.8h2.14v2.14h-2.14zM633.0 310.7h2.14v2.14h-2.14zM629.1 312.7h2.14v2.14h-2.14zM670.8 312.7h2.14v2.14h-2.14zM676.8 312.7h2.14v2.14h-2.14zM611.2 314.7h2.14v2.14h-2.14zM619.1 314.7h2.14v2.14h-2.14zM621.1 314.7h2.14v2.14h-2.14zM676.8 314.7h2.14v2.14h-2.14zM688.7 314.7h2.14v2.14h-2.14z" fill="rgb(190, 7, 188)"/>
<path d="M623.1 249.1h2.14v2.14h-2.14zM623.1 259.0h2.14v2.14h-2.14zM633.0 259.0h2.14v2.14h-2.14zM623.1 261.0h2.14v2.14h-2.14zM633.0 261.0h2.14v2.14h-2.14zM623.1 265.0h2.14v2.14h-2.14zM633.0 265.0h2.14v2.14h-2.14zM635.0 265.0h2.14v2.14h-2.14zM639.0 265.0h2.14v2.14h-2.14zM623.1 267.0h2.14v2.14h-2.14zM633.0 267.0h2.14v2.14h-2.14zM635.0 267.0h2.14v2.14h-2.14zM639.0 267.0h2.14v2.14h-2.14zM641.0 267.0h2.14v2.14h-2.14zM623.1 269.0h2.14v2.14h-2.14zM641.0 269.0h2.14v2.14h-2.14zM643.0 269.0h2.14v2.14h-2.14zM633.0 271.0h2.14v2.14h-2.14zM635.0 271.0h2.14v2.14h-2.14zM641.0 271.0h2.14v2.14h-2.14zM643.0 271.0h2.14v2.14h-2.14zM623.1 276.9h2.14v2.14h-2.14zM641.0 276.9h2.14v2.14h-2.14zM623.1 280.9h2.14v2.14h-2.14zM633.0 280.9h2.14v2.14h-2.14zM635.0 280.9h2.14v2.14h-2.14zM639.0 280.9h2.14v2.14h-2.14zM641.0 280.9h2.14v2.14h-2.14zM643.0 280.9h2.14v2.14h-2.14zM645.0 280.9h2.14v2.14h-2.14zM650.9 280.9h2.14v2.14h-2.14zM654.9 280.9h2.14v2.14h-2.14zM623.1 282.9h2.14v2.14h-2.14zM633.0 282.9h2.14v2.14h-2.14zM639.0 282.9h2.14v2.14h-2.14zM641.0 282.9h2.14v2.14h-2.14zM643.0 282.9h2.14v2.14h-2.14zM645.0 282.9h2.14v2.14h-2.14zM654.9 282.9h2.14v2.14h-2.14zM656.9 282.9h2.14v2.14h-2.14zM639.0 284.9h2.14v2.14h-2.14zM623.1 308.7h2.14v2.14h-2.14zM633.0 308.7h2.14v2.14h-2.14zM635.0 308.7h2.14v2.14h-2.14zM639.0 308.7h2.14v2.14h-2.14zM641.0 308.7h2.14v2.14h-2.14zM643.0 308.7h2.14v2.14h-2.14zM645.0 308.7h2.14v2.14h-2.14zM654.9 308.7h2.14v2.14h-2.14zM656.9 308.7h2.14v2.14h-2.14zM682.7 308.7h2.14v2.14h-2.14z" fill="rgb(94, 2, 95)"/>
</g>
<rect x="605.2" y="231.2" width="85.5" height="85.5" fill="none" stroke="#2b2b2b" stroke-width="2"/>
<text x="688.5" y="43.8" font-size="18.5" font-family="Liberation Serif, serif" font-weight="normal" fill="#181818" text-anchor="end" stroke="#181818" stroke-width="0.3" textLength="60.0" lengthAdjust="spacingAndGlyphs" >database</text>
<text x="688.5" y="62.5" font-size="18.5" font-family="Liberation Serif, serif" font-weight="normal" fill="#181818" text-anchor="end" stroke="#181818" stroke-width="0.3" >rating</text>
<text x="688.5" y="146.7" font-size="18.5" font-family="Liberation Serif, serif" font-weight="normal" fill="#181818" text-anchor="end" stroke="#181818" stroke-width="0.3" textLength="47.2" lengthAdjust="spacingAndGlyphs" >yes/no</text>
<text x="688.5" y="164.2" font-size="18.5" font-family="Liberation Serif, serif" font-weight="normal" fill="#181818" text-anchor="end" stroke="#181818" stroke-width="0.3" textLength="33.9" lengthAdjust="spacingAndGlyphs" >resp.</text>
<text x="688.5" y="247.8" font-size="18.5" font-family="Liberation Serif, serif" font-weight="normal" fill="#181818" text-anchor="end" stroke="#181818" stroke-width="0.3" textLength="51.4" lengthAdjust="spacingAndGlyphs" >attract.</text>
<text x="688.5" y="264.2" font-size="18.5" font-family="Liberation Serif, serif" font-weight="normal" fill="#181818" text-anchor="end" stroke="#181818" stroke-width="0.3" textLength="41.1" lengthAdjust="spacingAndGlyphs" >rating</text>
<defs><linearGradient id="cb0" x1="0" x2="0" y1="1" y2="0"><stop offset="0" stop-color="#0e2a2a"/><stop offset="1" stop-color="#6ff6f6"/></linearGradient></defs>
<rect x="707" y="29.5" width="8.7" height="86.8" fill="url(#cb0)" stroke="#2b2b2b" stroke-width="1.4"/>
<path d="M719.4,30.8 H728.2 M723.8,26.4 V35.2" stroke="#222" stroke-width="1.3"/>
<line x1="719.6" y1="115.8" x2="723.8" y2="115.8" stroke="#222" stroke-width="1.3"/>
<defs><linearGradient id="cb1" x1="0" x2="0" y1="1" y2="0"><stop offset="0" stop-color="#1a061a"/><stop offset="1" stop-color="#a426a4"/></linearGradient></defs>
<rect x="707" y="130.3" width="8.7" height="86.8" fill="url(#cb1)" stroke="#2b2b2b" stroke-width="1.4"/>
<path d="M719.4,131.60000000000002 H728.2 M723.8,127.20000000000002 V136.0" stroke="#222" stroke-width="1.3"/>
<line x1="719.6" y1="216.60000000000002" x2="723.8" y2="216.60000000000002" stroke="#222" stroke-width="1.3"/>
<defs><linearGradient id="cb2" x1="0" x2="0" y1="1" y2="0"><stop offset="0" stop-color="#1a001a"/><stop offset="1" stop-color="#ff10ff"/></linearGradient></defs>
<rect x="707" y="230.7" width="8.7" height="86.8" fill="url(#cb2)" stroke="#2b2b2b" stroke-width="1.4"/>
<path d="M719.4,232.0 H728.2 M723.8,227.6 V236.39999999999998" stroke="#222" stroke-width="1.3"/>
<line x1="719.6" y1="317.0" x2="723.8" y2="317.0" stroke="#222" stroke-width="1.3"/>
<text transform="translate(747.5,218.7) rotate(-90)" x="0" y="0" font-size="21" font-family="Liberation Serif, serif" fill="#181818" stroke="#181818" stroke-width="0.3" textLength="94.7" lengthAdjust="spacingAndGlyphs">dissimilarity</text>
<g>
<polygon points="80.8,505.0 88.1,507.4 95.4,510.6 102.7,473.8 110.0,479.9 117.3,491.9 124.6,477.2 131.9,461.3 139.2,469.6 146.5,454.6 153.8,467.5 161.1,454.9 168.4,448.3 175.7,445.9 183.0,418.2 190.3,425.2 197.6,426.4 204.9,433.4 212.2,430.0 219.5,448.1 226.8,442.2 234.1,450.0 241.4,469.5 248.7,454.4 256.0,465.4 263.3,475.9 270.6,480.2 277.9,462.3 285.2,465.0 292.5,476.1 299.8,472.0 307.1,476.1 314.4,475.2 321.7,461.1 321.7,484.3 314.4,497.3 307.1,498.2 299.8,495.4 292.5,498.3 285.2,490.4 277.9,485.6 270.6,503.9 263.3,498.3 256.0,490.0 248.7,478.5 241.4,492.3 234.1,474.4 226.8,466.5 219.5,470.5 212.2,451.4 204.9,457.0 197.6,450.0 190.3,448.2 183.0,439.0 175.7,468.4 168.4,465.5 161.1,474.3 153.8,488.0 146.5,471.0 139.2,486.7 131.9,480.2 124.6,495.6 117.3,506.0 110.0,496.5 102.7,490.4 95.4,524.5 88.1,520.6 80.8,519.7" fill="#9fdcdc" fill-opacity="0.35"/>
<polyline points="80.8,512.0 88.1,514.0 95.4,518.0 102.7,482.7 110.0,489.0 117.3,498.9 124.6,486.0 131.9,470.5 139.2,478.3 146.5,463.0 153.8,477.5 161.1,465.5 168.4,456.8 175.7,458.0 183.0,429.2 190.3,437.0 197.6,438.7 204.9,444.0 212.2,441.0 219.5,459.0 226.8,453.0 234.1,462.5 241.4,480.5 248.7,466.4 256.0,478.0 263.3,488.0 270.6,492.0 277.9,473.2 285.2,477.3 292.5,487.7 299.8,482.8 307.1,487.8 314.4,487.0 321.7,473.3" fill="none" stroke="#67c4c4" stroke-width="2.2" stroke-linejoin="miter" stroke-miterlimit="3"/>
<polygon points="80.8,514.9 88.1,493.0 95.4,514.3 102.7,486.8 110.0,491.3 117.3,501.0 124.6,478.9 131.9,458.0 139.2,455.9 146.5,461.0 153.8,456.7 161.1,452.5 168.4,451.8 175.7,448.8 183.0,424.9 190.3,413.0 197.6,429.6 204.9,422.7 212.2,426.7 219.5,420.5 226.8,426.5 234.1,430.2 241.4,453.8 248.7,443.5 256.0,449.2 263.3,458.3 270.6,455.1 277.9,454.5 285.2,454.8 292.5,448.1 299.8,451.0 307.1,468.9 314.4,463.3 321.7,447.3 321.7,479.0 314.4,497.1 307.1,502.9 299.8,483.3 292.5,479.1 285.2,480.9 277.9,480.0 270.6,479.5 263.3,485.1 256.0,473.9 248.7,469.1 241.4,483.9 234.1,460.1 226.8,456.6 219.5,456.8 212.2,458.8 204.9,456.5 197.6,455.4 190.3,441.4 183.0,453.6 175.7,476.1 168.4,476.0 161.1,473.8 153.8,478.6 146.5,485.5 139.2,476.6 131.9,477.4 124.6,499.5 117.3,521.1 110.0,507.2 102.7,504.5 95.4,530.6 88.1,507.7 80.8,529.1" fill="#c880c8" fill-opacity="0.4"/>
<polygon points="80.8,517.2 88.1,504.1 95.4,511.8 102.7,476.0 110.0,485.8 117.3,486.0 124.6,482.2 131.9,456.6 139.2,459.5 146.5,453.5 153.8,448.6 161.1,435.1 168.4,432.1 175.7,428.2 183.0,409.2 190.3,388.4 197.6,400.8 204.9,381.9 212.2,383.2 219.5,398.3 226.8,410.3 234.1,414.4 241.4,427.4 248.7,428.8 256.0,431.1 263.3,437.9 270.6,438.7 277.9,444.6 285.2,455.0 292.5,444.3 299.8,436.1 307.1,455.0 314.4,457.9 321.7,444.5 321.7,474.9 314.4,488.7 307.1,482.9 299.8,466.3 292.5,474.9 285.2,485.3 277.9,471.9 270.6,466.9 263.3,468.9 256.0,462.7 248.7,456.9 241.4,463.0 234.1,452.4 226.8,448.4 219.5,441.6 212.2,425.0 204.9,424.3 197.6,440.5 190.3,428.7 183.0,444.0 175.7,464.5 168.4,458.9 161.1,465.0 153.8,473.1 146.5,478.7 139.2,485.3 131.9,481.3 124.6,504.0 117.3,504.4 110.0,505.8 102.7,495.5 95.4,528.1 88.1,521.6 80.8,532.2" fill="#ff80ff" fill-opacity="0.38"/>
<polyline points="80.8,522.0 88.1,500.1 95.4,521.7 102.7,496.5 110.0,499.5 117.3,510.3 124.6,489.9 131.9,467.8 139.2,467.1 146.5,473.0 153.8,467.1 161.1,463.0 168.4,462.3 175.7,463.0 183.0,438.5 190.3,426.2 197.6,442.5 204.9,440.5 212.2,444.0 219.5,438.8 226.8,442.0 234.1,446.5 241.4,468.2 248.7,457.0 256.0,461.5 263.3,470.5 270.6,467.3 277.9,467.6 285.2,468.3 292.5,462.0 299.8,466.2 307.1,485.0 314.4,480.3 321.7,464.5" fill="none" stroke="#941e98" stroke-width="2.2" stroke-linejoin="miter" stroke-miterlimit="3"/>
<polyline points="80.8,524.5 88.1,512.5 95.4,519.9 102.7,485.0 110.0,496.5 117.3,495.9 124.6,494.4 131.9,468.5 139.2,471.6 146.5,466.3 153.8,460.7 161.1,449.5 168.4,445.5 175.7,446.3 183.0,427.5 190.3,410.5 197.6,421.3 204.9,404.0 212.2,406.0 219.5,418.0 226.8,427.5 234.1,433.0 241.4,445.8 248.7,443.2 256.0,448.0 263.3,453.7 270.6,452.3 277.9,459.0 285.2,470.5 292.5,458.0 299.8,451.0 307.1,468.3 314.4,472.3 321.7,461.0" fill="none" stroke="#ff1ff2" stroke-width="2.2" stroke-linejoin="miter" stroke-miterlimit="3"/>
<line x1="78" y1="506" x2="326" y2="506" stroke="#000" stroke-width="2.4" stroke-dasharray="8.7,9.5"/>
<line x1="77" y1="349.4" x2="77" y2="545" stroke="#111" stroke-width="2"/>
<line x1="76" y1="544" x2="326" y2="544" stroke="#111" stroke-width="2"/>
<line x1="77" y1="349.4" x2="80.5" y2="349.4" stroke="#111" stroke-width="1.8"/>
<text x="71.8" y="357.1" font-size="14" font-family="Liberation Serif, serif" font-weight="normal" fill="#181818" text-anchor="end" stroke="#181818" stroke-width="0.3" textLength="32.2" lengthAdjust="spacingAndGlyphs" >0.04</text>
<line x1="77" y1="388.5" x2="80.5" y2="388.5" stroke="#111" stroke-width="1.8"/>
<text x="71.8" y="396.2" font-size="14" font-family="Liberation Serif, serif" font-weight="normal" fill="#181818" text-anchor="end" stroke="#181818" stroke-width="0.3" textLength="32.2" lengthAdjust="spacingAndGlyphs" >0.03</text>
<line x1="77" y1="427.6" x2="80.5" y2="427.6" stroke="#111" stroke-width="1.8"/>
<text x="71.8" y="435.3" font-size="14" font-family="Liberation Serif, serif" font-weight="normal" fill="#181818" text-anchor="end" stroke="#181818" stroke-width="0.3" textLength="32.2" lengthAdjust="spacingAndGlyphs" >0.02</text>
<line x1="77" y1="466.7" x2="80.5" y2="466.7" stroke="#111" stroke-width="1.8"/>
<text x="71.8" y="474.4" font-size="14" font-family="Liberation Serif, serif" font-weight="normal" fill="#181818" text-anchor="end" stroke="#181818" stroke-width="0.3" textLength="32.2" lengthAdjust="spacingAndGlyphs" >0.01</text>
<line x1="77" y1="505.8" x2="80.5" y2="505.8" stroke="#111" stroke-width="1.8"/>
<text x="71.8" y="513.5" font-size="14" font-family="Liberation Serif, serif" font-weight="normal" fill="#181818" text-anchor="end" stroke="#181818" stroke-width="0.3" textLength="8.2" lengthAdjust="spacingAndGlyphs" >0</text>
<text x="71.8" y="552.6" font-size="14" font-family="Liberation Serif, serif" font-weight="normal" fill="#181818" text-anchor="end" stroke="#181818" stroke-width="0.3" textLength="35.2" lengthAdjust="spacingAndGlyphs" >-0.01</text>
<text x="76.5" y="565.8" font-size="14" font-family="Liberation Serif, serif" font-weight="normal" fill="#181818" text-anchor="middle" stroke="#181818" stroke-width="0.3" textLength="36.9" lengthAdjust="spacingAndGlyphs" >-0.25</text>
<line x1="113.0" y1="544" x2="113.0" y2="540.5" stroke="#111" stroke-width="1.8"/>
<text x="113.0" y="565.8" font-size="14" font-family="Liberation Serif, serif" font-weight="normal" fill="#181818" text-anchor="middle" stroke="#181818" stroke-width="0.3" textLength="8.8" lengthAdjust="spacingAndGlyphs" >0</text>
<line x1="149.4" y1="544" x2="149.4" y2="540.5" stroke="#111" stroke-width="1.8"/>
<text x="149.4" y="565.8" font-size="14" font-family="Liberation Serif, serif" font-weight="normal" fill="#181818" text-anchor="middle" stroke="#181818" stroke-width="0.3" textLength="29.8" lengthAdjust="spacingAndGlyphs" >0.25</text>
<line x1="185.9" y1="544" x2="185.9" y2="540.5" stroke="#111" stroke-width="1.8"/>
<text x="185.9" y="565.8" font-size="14" font-family="Liberation Serif, serif" font-weight="normal" fill="#181818" text-anchor="middle" stroke="#181818" stroke-width="0.3" textLength="22.7" lengthAdjust="spacingAndGlyphs" >0.5</text>
<line x1="222.3" y1="544" x2="222.3" y2="540.5" stroke="#111" stroke-width="1.8"/>
<text x="222.3" y="565.8" font-size="14" font-family="Liberation Serif, serif" font-weight="normal" fill="#181818" text-anchor="middle" stroke="#181818" stroke-width="0.3" textLength="29.5" lengthAdjust="spacingAndGlyphs" >0.75</text>
<line x1="258.8" y1="544" x2="258.8" y2="540.5" stroke="#111" stroke-width="1.8"/>
<text x="258.8" y="565.8" font-size="14" font-family="Liberation Serif, serif" font-weight="normal" fill="#181818" text-anchor="middle" stroke="#181818" stroke-width="0.3" >1</text>
<line x1="295.2" y1="544" x2="295.2" y2="540.5" stroke="#111" stroke-width="1.8"/>
<text x="295.2" y="565.8" font-size="14" font-family="Liberation Serif, serif" font-weight="normal" fill="#181818" text-anchor="middle" stroke="#181818" stroke-width="0.3" textLength="27.5" lengthAdjust="spacingAndGlyphs" >1.25</text>
<rect x="129.2" y="346.8" width="5.6" height="5.6" rx="1.1" fill="#74cccc"/>
<rect x="143.8" y="346.8" width="5.6" height="5.6" rx="1.1" fill="#74cccc"/>
<rect x="151.0" y="346.8" width="5.6" height="5.6" rx="1.1" fill="#74cccc"/>
<rect x="158.3" y="346.8" width="5.6" height="5.6" rx="1.1" fill="#74cccc"/>
<rect x="165.6" y="346.8" width="5.6" height="5.6" rx="1.1" fill="#74cccc"/>
<rect x="172.9" y="346.8" width="5.6" height="5.6" rx="1.1" fill="#74cccc"/>
<rect x="180.2" y="346.8" width="5.6" height="5.6" rx="1.1" fill="#74cccc"/>
<rect x="187.4" y="346.8" width="5.6" height="5.6" rx="1.1" fill="#74cccc"/>
<rect x="194.7" y="346.8" width="5.6" height="5.6" rx="1.1" fill="#74cccc"/>
<rect x="202.0" y="346.8" width="5.6" height="5.6" rx="1.1" fill="#74cccc"/>
<rect x="209.3" y="346.8" width="5.6" height="5.6" rx="1.1" fill="#74cccc"/>
<rect x="216.6" y="346.8" width="5.6" height="5.6" rx="1.1" fill="#74cccc"/>
<rect x="223.8" y="346.8" width="5.6" height="5.6" rx="1.1" fill="#74cccc"/>
<rect x="231.1" y="346.8" width="5.6" height="5.6" rx="1.1" fill="#74cccc"/>
<rect x="245.7" y="346.8" width="5.6" height="5.6" rx="1.1" fill="#74cccc"/>
<rect x="274.8" y="346.8" width="5.6" height="5.6" rx="1.1" fill="#74cccc"/>
<rect x="129.2" y="354.5" width="5.6" height="5.6" rx="1.1" fill="#941e98"/>
<rect x="136.5" y="354.5" width="5.6" height="5.6" rx="1.1" fill="#941e98"/>
<rect x="143.8" y="354.5" width="5.6" height="5.6" rx="1.1" fill="#941e98"/>
<rect x="151.0" y="354.5" width="5.6" height="5.6" rx="1.1" fill="#941e98"/>
<rect x="158.3" y="354.5" width="5.6" height="5.6" rx="1.1" fill="#941e98"/>
<rect x="165.6" y="354.5" width="5.6" height="5.6" rx="1.1" fill="#941e98"/>
<rect x="172.9" y="354.5" width="5.6" height="5.6" rx="1.1" fill="#941e98"/>
<rect x="180.2" y="354.5" width="5.6" height="5.6" rx="1.1" fill="#941e98"/>
<rect x="187.4" y="354.5" width="5.6" height="5.6" rx="1.1" fill="#941e98"/>
<rect x="194.7" y="354.5" width="5.6" height="5.6" rx="1.1" fill="#941e98"/>
<rect x="202.0" y="354.5" width="5.6" height="5.6" rx="1.1" fill="#941e98"/>
<rect x="209.3" y="354.5" width="5.6" height="5.6" rx="1.1" fill="#941e98"/>
<rect x="216.6" y="354.5" width="5.6" height="5.6" rx="1.1" fill="#941e98"/>
<rect x="223.8" y="354.5" width="5.6" height="5.6" rx="1.1" fill="#941e98"/>
<rect x="231.1" y="354.5" width="5.6" height="5.6" rx="1.1" fill="#941e98"/>
<rect x="238.4" y="354.5" width="5.6" height="5.6" rx="1.1" fill="#941e98"/>
<rect x="245.7" y="354.5" width="5.6" height="5.6" rx="1.1" fill="#941e98"/>
<rect x="253.0" y="354.5" width="5.6" height="5.6" rx="1.1" fill="#941e98"/>
<rect x="260.2" y="354.5" width="5.6" height="5.6" rx="1.1" fill="#941e98"/>
<rect x="267.5" y="354.5" width="5.6" height="5.6" rx="1.1" fill="#941e98"/>
<rect x="274.8" y="354.5" width="5.6" height="5.6" rx="1.1" fill="#941e98"/>
<rect x="282.1" y="354.5" width="5.6" height="5.6" rx="1.1" fill="#941e98"/>
<rect x="289.4" y="354.5" width="5.6" height="5.6" rx="1.1" fill="#941e98"/>
<rect x="296.6" y="354.5" width="5.6" height="5.6" rx="1.1" fill="#941e98"/>
<rect x="318.5" y="354.5" width="5.6" height="5.6" rx="1.1" fill="#941e98"/>
<rect x="129.2" y="362.4" width="5.6" height="5.6" rx="1.1" fill="#ff1ff2"/>
<rect x="136.5" y="362.4" width="5.6" height="5.6" rx="1.1" fill="#ff1ff2"/>
<rect x="143.8" y="362.4" width="5.6" height="5.6" rx="1.1" fill="#ff1ff2"/>
<rect x="151.0" y="362.4" width="5.6" height="5.6" rx="1.1" fill="#ff1ff2"/>
<rect x="158.3" y="362.4" width="5.6" height="5.6" rx="1.1" fill="#ff1ff2"/>
<rect x="165.6" y="362.4" width="5.6" height="5.6" rx="1.1" fill="#ff1ff2"/>
<rect x="172.9" y="362.4" width="5.6" height="5.6" rx="1.1" fill="#ff1ff2"/>
<rect x="180.2" y="362.4" width="5.6" height="5.6" rx="1.1" fill="#ff1ff2"/>
<rect x="187.4" y="362.4" width="5.6" height="5.6" rx="1.1" fill="#ff1ff2"/>
<rect x="194.7" y="362.4" width="5.6" height="5.6" rx="1.1" fill="#ff1ff2"/>
<rect x="202.0" y="362.4" width="5.6" height="5.6" rx="1.1" fill="#ff1ff2"/>
<rect x="209.3" y="362.4" width="5.6" height="5.6" rx="1.1" fill="#ff1ff2"/>
<rect x="216.6" y="362.4" width="5.6" height="5.6" rx="1.1" fill="#ff1ff2"/>
<rect x="223.8" y="362.4" width="5.6" height="5.6" rx="1.1" fill="#ff1ff2"/>
<rect x="231.1" y="362.4" width="5.6" height="5.6" rx="1.1" fill="#ff1ff2"/>
<rect x="238.4" y="362.4" width="5.6" height="5.6" rx="1.1" fill="#ff1ff2"/>
<rect x="245.7" y="362.4" width="5.6" height="5.6" rx="1.1" fill="#ff1ff2"/>
<rect x="253.0" y="362.4" width="5.6" height="5.6" rx="1.1" fill="#ff1ff2"/>
<rect x="260.2" y="362.4" width="5.6" height="5.6" rx="1.1" fill="#ff1ff2"/>
<rect x="267.5" y="362.4" width="5.6" height="5.6" rx="1.1" fill="#ff1ff2"/>
<rect x="274.8" y="362.4" width="5.6" height="5.6" rx="1.1" fill="#ff1ff2"/>
<rect x="282.1" y="362.4" width="5.6" height="5.6" rx="1.1" fill="#ff1ff2"/>
<rect x="289.4" y="362.4" width="5.6" height="5.6" rx="1.1" fill="#ff1ff2"/>
<rect x="296.6" y="362.4" width="5.6" height="5.6" rx="1.1" fill="#ff1ff2"/>
<rect x="303.9" y="362.4" width="5.6" height="5.6" rx="1.1" fill="#ff1ff2"/>
<rect x="311.2" y="362.4" width="5.6" height="5.6" rx="1.1" fill="#ff1ff2"/>
<rect x="318.5" y="362.4" width="5.6" height="5.6" rx="1.1" fill="#ff1ff2"/>
<text x="1.4" y="350.0" font-size="40" font-family="Liberation Serif, serif" font-weight="bold" fill="#111" text-anchor="start" textLength="22.0" lengthAdjust="spacingAndGlyphs" >b</text>
<text x="200.7" y="583.0" font-size="19" font-family="Liberation Serif, serif" font-weight="normal" fill="#181818" text-anchor="middle" stroke="#181818" stroke-width="0.3" textLength="60.0" lengthAdjust="spacingAndGlyphs" >time (s)</text>
<text transform="translate(28.6,501.3) rotate(-90)" x="0" y="0" font-size="18.3" font-family="Liberation Serif, serif" fill="#181818" stroke="#181818" stroke-width="0.3" textLength="109.8" lengthAdjust="spacingAndGlyphs">correlation (r)</text>
</g>
<line x1="342.1" y1="452.9" x2="448" y2="452.9" stroke="#111" stroke-width="1.6"/>
<polyline points="439.3,444.8 448.9,452.9 439.3,461.3" fill="none" stroke="#111" stroke-width="1.6"/>
<text x="392.5" y="477.7" font-size="19" font-family="Liberation Serif, serif" font-weight="normal" fill="#181818" text-anchor="middle" stroke="#181818" stroke-width="0.3" textLength="85.0" lengthAdjust="spacingAndGlyphs" >partial out</text>
<text x="392.5" y="498.6" font-size="19" font-family="Liberation Serif, serif" font-weight="normal" fill="#181818" text-anchor="middle" stroke="#181818" stroke-width="0.3" textLength="102.4" lengthAdjust="spacingAndGlyphs" >group rating</text>
<g>
<polygon points="494.5,515.8 501.8,491.0 509.1,515.4 516.4,494.0 523.7,495.9 531.0,502.9 538.3,490.5 545.6,468.3 552.9,462.1 560.2,471.6 567.5,466.0 574.8,463.7 582.1,466.4 589.4,461.6 596.7,448.1 604.0,430.1 611.3,449.0 618.6,437.3 625.9,442.5 633.2,429.7 640.5,440.3 647.8,441.1 655.1,457.9 662.4,452.8 669.7,454.4 677.0,461.6 684.3,458.2 691.6,465.0 698.9,464.2 706.2,452.1 713.5,458.6 720.8,477.0 728.1,472.6 735.4,458.3 735.4,485.2 728.1,503.0 720.8,509.3 713.5,490.9 706.2,484.7 698.9,493.0 691.6,494.3 684.3,487.5 677.0,495.0 669.7,486.5 662.4,486.0 655.1,497.0 647.8,480.0 640.5,479.5 633.2,477.0 625.9,484.2 618.6,481.2 611.3,482.5 604.0,467.0 596.7,485.4 589.4,497.1 582.1,497.7 574.8,491.3 567.5,494.5 560.2,503.5 552.9,489.1 545.6,493.5 538.3,517.3 531.0,529.1 523.7,516.6 516.4,516.9 509.1,536.6 501.8,510.1 494.5,534.2" fill="#c880c8" fill-opacity="0.4"/>
<polygon points="494.5,519.2 501.8,503.6 509.1,510.4 516.4,486.5 523.7,492.0 531.0,489.9 538.3,494.4 545.6,471.3 552.9,471.1 560.2,470.5 567.5,460.9 574.8,449.7 582.1,450.3 589.4,445.1 596.7,435.2 604.0,410.2 611.3,424.2 618.6,399.6 625.9,401.6 633.2,412.6 640.5,429.2 647.8,429.2 655.1,434.2 662.4,441.8 669.7,439.3 677.0,442.2 684.3,440.8 691.6,453.2 698.9,466.2 706.2,447.7 713.5,442.1 720.8,460.5 728.1,464.7 735.4,454.6 735.4,485.0 728.1,495.5 720.8,488.4 713.5,472.3 706.2,478.3 698.9,496.5 691.6,480.5 684.3,469.0 677.0,473.2 669.7,470.9 662.4,469.9 655.1,469.8 647.8,467.2 640.5,467.3 633.2,455.9 625.9,443.4 618.6,442.0 611.3,463.9 604.0,450.5 596.7,470.0 589.4,481.4 582.1,477.1 574.8,479.6 567.5,485.4 560.2,495.7 552.9,496.9 545.6,496.0 538.3,516.2 531.0,508.3 523.7,512.0 516.4,506.0 509.1,526.7 501.8,521.1 494.5,534.2" fill="#ff80ff" fill-opacity="0.38"/>
<polyline points="494.5,525.0 501.8,500.2 509.1,525.0 516.4,506.6 523.7,506.6 531.0,515.0 538.3,504.8 545.6,481.0 552.9,476.7 560.2,487.2 567.5,479.5 574.8,477.3 582.1,480.0 589.4,480.0 596.7,465.8 604.0,447.3 611.3,465.8 618.6,460.5 625.9,465.0 633.2,453.5 640.5,460.5 647.8,462.3 655.1,476.6 662.4,470.3 669.7,470.3 677.0,476.8 684.3,472.9 691.6,480.0 698.9,479.1 706.2,466.7 713.5,473.8 720.8,492.3 728.1,487.9 735.4,472.9" fill="none" stroke="#941e98" stroke-width="2.2" stroke-linejoin="miter" stroke-miterlimit="3"/>
<polyline points="494.5,526.5 501.8,512.0 509.1,518.5 516.4,495.5 523.7,502.7 531.0,499.8 538.3,506.6 545.6,483.2 552.9,483.2 560.2,483.3 567.5,473.0 574.8,464.1 582.1,463.7 589.4,463.2 596.7,453.5 604.0,432.3 611.3,444.7 618.6,421.7 625.9,424.4 633.2,432.3 640.5,446.4 647.8,447.8 655.1,452.6 662.4,456.2 669.7,456.2 677.0,458.0 684.3,454.4 691.6,467.6 698.9,481.7 706.2,461.4 713.5,457.0 720.8,473.8 728.1,479.1 735.4,471.1" fill="none" stroke="#ff1ff2" stroke-width="2.2" stroke-linejoin="miter" stroke-miterlimit="3"/>
<line x1="492" y1="508.6" x2="740" y2="508.6" stroke="#000" stroke-width="2.4" stroke-dasharray="8.7,9.5"/>
<line x1="491" y1="353" x2="491" y2="548.8" stroke="#111" stroke-width="2"/>
<line x1="490" y1="547.8" x2="740" y2="547.8" stroke="#111" stroke-width="2"/>
<line x1="491" y1="353.0" x2="494.5" y2="353.0" stroke="#111" stroke-width="1.8"/>
<text x="486.2" y="360.7" font-size="14" font-family="Liberation Serif, serif" font-weight="normal" fill="#181818" text-anchor="end" stroke="#181818" stroke-width="0.3" textLength="32.2" lengthAdjust="spacingAndGlyphs" >0.04</text>
<line x1="491" y1="391.9" x2="494.5" y2="391.9" stroke="#111" stroke-width="1.8"/>
<text x="486.2" y="399.6" font-size="14" font-family="Liberation Serif, serif" font-weight="normal" fill="#181818" text-anchor="end" stroke="#181818" stroke-width="0.3" textLength="32.2" lengthAdjust="spacingAndGlyphs" >0.03</text>
<line x1="491" y1="430.9" x2="494.5" y2="430.9" stroke="#111" stroke-width="1.8"/>
<text x="486.2" y="438.6" font-size="14" font-family="Liberation Serif, serif" font-weight="normal" fill="#181818" text-anchor="end" stroke="#181818" stroke-width="0.3" textLength="32.2" lengthAdjust="spacingAndGlyphs" >0.02</text>
<line x1="491" y1="469.9" x2="494.5" y2="469.9" stroke="#111" stroke-width="1.8"/>
<text x="486.2" y="477.6" font-size="14" font-family="Liberation Serif, serif" font-weight="normal" fill="#181818" text-anchor="end" stroke="#181818" stroke-width="0.3" textLength="32.2" lengthAdjust="spacingAndGlyphs" >0.01</text>
<line x1="491" y1="508.8" x2="494.5" y2="508.8" stroke="#111" stroke-width="1.8"/>
<text x="486.2" y="516.5" font-size="14" font-family="Liberation Serif, serif" font-weight="normal" fill="#181818" text-anchor="end" stroke="#181818" stroke-width="0.3" textLength="8.2" lengthAdjust="spacingAndGlyphs" >0</text>
<text x="486.2" y="555.5" font-size="14" font-family="Liberation Serif, serif" font-weight="normal" fill="#181818" text-anchor="end" stroke="#181818" stroke-width="0.3" textLength="35.2" lengthAdjust="spacingAndGlyphs" >-0.01</text>
<text x="491.4" y="569.6" font-size="14" font-family="Liberation Serif, serif" font-weight="normal" fill="#181818" text-anchor="middle" stroke="#181818" stroke-width="0.3" textLength="36.9" lengthAdjust="spacingAndGlyphs" >-0.25</text>
<line x1="527.9" y1="547.8" x2="527.9" y2="544.3" stroke="#111" stroke-width="1.8"/>
<text x="527.9" y="569.6" font-size="14" font-family="Liberation Serif, serif" font-weight="normal" fill="#181818" text-anchor="middle" stroke="#181818" stroke-width="0.3" textLength="8.8" lengthAdjust="spacingAndGlyphs" >0</text>
<line x1="564.3" y1="547.8" x2="564.3" y2="544.3" stroke="#111" stroke-width="1.8"/>
<text x="564.3" y="569.6" font-size="14" font-family="Liberation Serif, serif" font-weight="normal" fill="#181818" text-anchor="middle" stroke="#181818" stroke-width="0.3" textLength="29.8" lengthAdjust="spacingAndGlyphs" >0.25</text>
<line x1="600.8" y1="547.8" x2="600.8" y2="544.3" stroke="#111" stroke-width="1.8"/>
<text x="600.8" y="569.6" font-size="14" font-family="Liberation Serif, serif" font-weight="normal" fill="#181818" text-anchor="middle" stroke="#181818" stroke-width="0.3" textLength="22.7" lengthAdjust="spacingAndGlyphs" >0.5</text>
<line x1="637.2" y1="547.8" x2="637.2" y2="544.3" stroke="#111" stroke-width="1.8"/>
<text x="637.2" y="569.6" font-size="14" font-family="Liberation Serif, serif" font-weight="normal" fill="#181818" text-anchor="middle" stroke="#181818" stroke-width="0.3" textLength="29.5" lengthAdjust="spacingAndGlyphs" >0.75</text>
<line x1="673.6" y1="547.8" x2="673.6" y2="544.3" stroke="#111" stroke-width="1.8"/>
<text x="673.6" y="569.6" font-size="14" font-family="Liberation Serif, serif" font-weight="normal" fill="#181818" text-anchor="middle" stroke="#181818" stroke-width="0.3" >1</text>
<line x1="710.1" y1="547.8" x2="710.1" y2="544.3" stroke="#111" stroke-width="1.8"/>
<text x="710.1" y="569.6" font-size="14" font-family="Liberation Serif, serif" font-weight="normal" fill="#181818" text-anchor="middle" stroke="#181818" stroke-width="0.3" textLength="27.5" lengthAdjust="spacingAndGlyphs" >1.25</text>
<rect x="550.2" y="349.7" width="5.6" height="5.6" rx="1.1" fill="#941e98"/>
<rect x="564.9" y="349.7" width="5.6" height="5.6" rx="1.1" fill="#941e98"/>
<rect x="572.2" y="349.7" width="5.6" height="5.6" rx="1.1" fill="#941e98"/>
<rect x="579.6" y="349.7" width="5.6" height="5.6" rx="1.1" fill="#941e98"/>
<rect x="586.9" y="349.7" width="5.6" height="5.6" rx="1.1" fill="#941e98"/>
<rect x="594.2" y="349.7" width="5.6" height="5.6" rx="1.1" fill="#941e98"/>
<rect x="601.6" y="349.7" width="5.6" height="5.6" rx="1.1" fill="#941e98"/>
<rect x="608.9" y="349.7" width="5.6" height="5.6" rx="1.1" fill="#941e98"/>
<rect x="616.3" y="349.7" width="5.6" height="5.6" rx="1.1" fill="#941e98"/>
<rect x="623.6" y="349.7" width="5.6" height="5.6" rx="1.1" fill="#941e98"/>
<rect x="630.9" y="349.7" width="5.6" height="5.6" rx="1.1" fill="#941e98"/>
<rect x="638.3" y="349.7" width="5.6" height="5.6" rx="1.1" fill="#941e98"/>
<rect x="645.6" y="349.7" width="5.6" height="5.6" rx="1.1" fill="#941e98"/>
<rect x="660.3" y="349.7" width="5.6" height="5.6" rx="1.1" fill="#941e98"/>
<rect x="667.6" y="349.7" width="5.6" height="5.6" rx="1.1" fill="#941e98"/>
<rect x="675.0" y="349.7" width="5.6" height="5.6" rx="1.1" fill="#941e98"/>
<rect x="682.3" y="349.7" width="5.6" height="5.6" rx="1.1" fill="#941e98"/>
<rect x="689.7" y="349.7" width="5.6" height="5.6" rx="1.1" fill="#941e98"/>
<rect x="697.0" y="349.7" width="5.6" height="5.6" rx="1.1" fill="#941e98"/>
<rect x="704.3" y="349.7" width="5.6" height="5.6" rx="1.1" fill="#941e98"/>
<rect x="711.7" y="349.7" width="5.6" height="5.6" rx="1.1" fill="#941e98"/>
<rect x="733.7" y="349.7" width="5.6" height="5.6" rx="1.1" fill="#941e98"/>
<rect x="550.2" y="357.4" width="5.6" height="5.6" rx="1.1" fill="#ff1ff2"/>
<rect x="557.5" y="357.4" width="5.6" height="5.6" rx="1.1" fill="#ff1ff2"/>
<rect x="564.9" y="357.4" width="5.6" height="5.6" rx="1.1" fill="#ff1ff2"/>
<rect x="572.2" y="357.4" width="5.6" height="5.6" rx="1.1" fill="#ff1ff2"/>
<rect x="579.6" y="357.4" width="5.6" height="5.6" rx="1.1" fill="#ff1ff2"/>
<rect x="586.9" y="357.4" width="5.6" height="5.6" rx="1.1" fill="#ff1ff2"/>
<rect x="594.2" y="357.4" width="5.6" height="5.6" rx="1.1" fill="#ff1ff2"/>
<rect x="601.6" y="357.4" width="5.6" height="5.6" rx="1.1" fill="#ff1ff2"/>
<rect x="608.9" y="357.4" width="5.6" height="5.6" rx="1.1" fill="#ff1ff2"/>
<rect x="616.3" y="357.4" width="5.6" height="5.6" rx="1.1" fill="#ff1ff2"/>
<rect x="623.6" y="357.4" width="5.6" height="5.6" rx="1.1" fill="#ff1ff2"/>
<rect x="630.9" y="357.4" width="5.6" height="5.6" rx="1.1" fill="#ff1ff2"/>
<rect x="638.3" y="357.4" width="5.6" height="5.6" rx="1.1" fill="#ff1ff2"/>
<rect x="645.6" y="357.4" width="5.6" height="5.6" rx="1.1" fill="#ff1ff2"/>
<rect x="653.0" y="357.4" width="5.6" height="5.6" rx="1.1" fill="#ff1ff2"/>
<rect x="660.3" y="357.4" width="5.6" height="5.6" rx="1.1" fill="#ff1ff2"/>
<rect x="667.6" y="357.4" width="5.6" height="5.6" rx="1.1" fill="#ff1ff2"/>
<rect x="675.0" y="357.4" width="5.6" height="5.6" rx="1.1" fill="#ff1ff2"/>
<rect x="682.3" y="357.4" width="5.6" height="5.6" rx="1.1" fill="#ff1ff2"/>
<rect x="689.7" y="357.4" width="5.6" height="5.6" rx="1.1" fill="#ff1ff2"/>
<rect x="697.0" y="357.4" width="5.6" height="5.6" rx="1.1" fill="#ff1ff2"/>
<rect x="704.3" y="357.4" width="5.6" height="5.6" rx="1.1" fill="#ff1ff2"/>
<rect x="711.7" y="357.4" width="5.6" height="5.6" rx="1.1" fill="#ff1ff2"/>
<rect x="719.0" y="357.4" width="5.6" height="5.6" rx="1.1" fill="#ff1ff2"/>
<rect x="726.4" y="357.4" width="5.6" height="5.6" rx="1.1" fill="#ff1ff2"/>
<rect x="733.7" y="357.4" width="5.6" height="5.6" rx="1.1" fill="#ff1ff2"/>
<text x="427.9" y="349.8" font-size="39" font-family="Liberation Serif, serif" font-weight="bold" fill="#111" text-anchor="start" textLength="16.8" lengthAdjust="spacingAndGlyphs" >c</text>
<text x="614.9" y="586.8" font-size="19" font-family="Liberation Serif, serif" font-weight="normal" fill="#181818" text-anchor="middle" stroke="#181818" stroke-width="0.3" textLength="59.0" lengthAdjust="spacingAndGlyphs" >time (s)</text>
</g>
<rect x="107.5" y="597.2" width="20" height="24.5" fill="#dff3f3"/>
<rect x="107.5" y="606.3" width="20" height="6.3" fill="#6fc8c8"/>
<text x="133.0" y="614.8" font-size="20" font-family="Liberation Serif, serif" font-weight="normal" fill="#181818" text-anchor="start" stroke="#181818" stroke-width="0.3" textLength="126.6" lengthAdjust="spacingAndGlyphs" >database rating</text>
<rect x="285.3" y="597.2" width="20" height="24.5" fill="#ecd2ee"/>
<rect x="285.3" y="606.3" width="20" height="6.3" fill="#921d98"/>
<text x="310.0" y="614.8" font-size="20" font-family="Liberation Serif, serif" font-weight="normal" fill="#181818" text-anchor="start" stroke="#181818" stroke-width="0.3" textLength="135.3" lengthAdjust="spacingAndGlyphs" >yes/no response</text>
<rect x="463.2" y="597.2" width="20" height="24.5" fill="#ffd0fd"/>
<rect x="463.2" y="606.3" width="20" height="6.3" fill="#ff1ff0"/>
<text x="488.9" y="614.8" font-size="20" font-family="Liberation Serif, serif" font-weight="normal" fill="#181818" text-anchor="start" stroke="#181818" stroke-width="0.3" textLength="168.5" lengthAdjust="spacingAndGlyphs" >attractiveness rating</text></svg>
</body></html>
